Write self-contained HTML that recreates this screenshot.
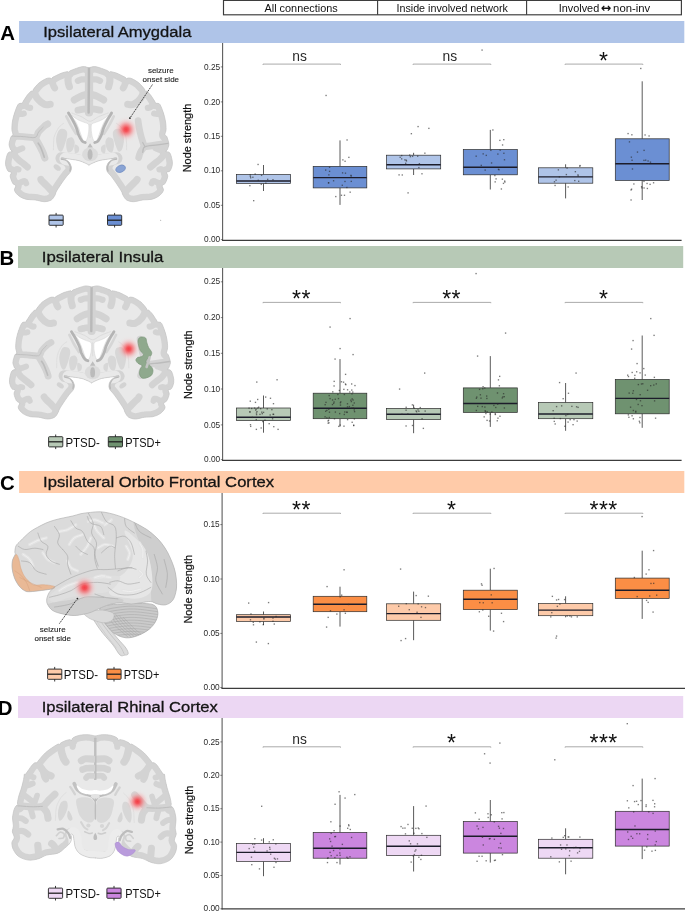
<!DOCTYPE html>
<html lang="en"><head><meta charset="utf-8"><title>Node strength by region</title>
<style>
html,body{margin:0;padding:0;background:#fff}
svg{display:block;font-family:"Liberation Sans", sans-serif}
.ax{stroke:#3c3c3c;stroke-width:1.25;fill:none}
.ay{stroke:#5c5c5c;stroke-width:1.1;fill:none}
.tk{stroke:#333;stroke-width:.6;fill:none}
.wh{stroke:#5a5a5a;stroke-width:1;fill:none}
.bx{stroke:#2b2b2b;stroke-width:.7}
.md{stroke:#1c1c2a;stroke-width:1.4;fill:none}
.br{stroke:#a2a2a2;stroke-width:.9;fill:none}
.pt{fill:#2a2a2a;fill-opacity:.62}
</style></head><body>
<svg width="685" height="911" viewBox="0 0 685 911">
<rect width="685" height="911" fill="#fff"/>
<g id="header">
<rect x="223.5" y="0.4" width="457.9" height="14.4" fill="#fff" stroke="#3a3a3a" stroke-width="1.15"/>
<path d="M377.6 0.4V14.8M526.6 0.4V14.8" stroke="#3a3a3a" stroke-width="1.1"/>
<text x="301.1" y="11.8" font-size="11.7" text-anchor="middle" font-weight="normal" fill="#111" textLength="73.2" lengthAdjust="spacingAndGlyphs" >All connections</text>
<text x="452.2" y="11.8" font-size="11.7" text-anchor="middle" font-weight="normal" fill="#111" textLength="111.5" lengthAdjust="spacingAndGlyphs" >Inside involved network</text>
<text x="558.7" y="11.8" font-size="11.7" text-anchor="start" font-weight="normal" fill="#111" textLength="40.5" lengthAdjust="spacingAndGlyphs" >Involved</text>
<text x="606.0" y="12.1" font-size="12.4" text-anchor="middle" font-weight="bold" fill="#111" font-family="DejaVu Sans, sans-serif">↔</text>
<text x="613.1" y="11.8" font-size="11.7" text-anchor="start" font-weight="normal" fill="#111" textLength="37.2" lengthAdjust="spacingAndGlyphs" >non-inv</text>
</g>
<g id="panelA">
<rect x="19.1" y="21" width="665.2" height="22" fill="#afc4e8"/>
<text x="0.2" y="40.1" font-size="20.4" text-anchor="start" font-weight="bold" fill="#000" >A</text>
<text x="43.2" y="37.0" font-size="15.4" text-anchor="start" font-weight="normal" fill="#141414" textLength="148.2" lengthAdjust="spacingAndGlyphs" stroke="#141414" stroke-width=".3">Ipsilateral Amygdala</text>
<path class="ay" d="M222.6 43V240.9"/>
<path class="ax" d="M222.1 240.3H681.6"/>
<path class="tk" d="M220.8 66.9H222.6"/>
<text x="220.2" y="69.5" font-size="9.2" text-anchor="end" font-weight="normal" fill="#2a2a2a" textLength="16.2" lengthAdjust="spacingAndGlyphs" >0.25</text>
<path class="tk" d="M220.8 101.9H222.6"/>
<text x="220.2" y="104.5" font-size="9.2" text-anchor="end" font-weight="normal" fill="#2a2a2a" textLength="16.2" lengthAdjust="spacingAndGlyphs" >0.20</text>
<path class="tk" d="M220.8 136.3H222.6"/>
<text x="220.2" y="138.9" font-size="9.2" text-anchor="end" font-weight="normal" fill="#2a2a2a" textLength="16.2" lengthAdjust="spacingAndGlyphs" >0.15</text>
<path class="tk" d="M220.8 170.8H222.6"/>
<text x="220.2" y="173.4" font-size="9.2" text-anchor="end" font-weight="normal" fill="#2a2a2a" textLength="16.2" lengthAdjust="spacingAndGlyphs" >0.10</text>
<path class="tk" d="M220.8 205.3H222.6"/>
<text x="220.2" y="207.9" font-size="9.2" text-anchor="end" font-weight="normal" fill="#2a2a2a" textLength="16.2" lengthAdjust="spacingAndGlyphs" >0.05</text>
<path class="tk" d="M220.8 239.6H222.6"/>
<text x="220.2" y="242.2" font-size="9.2" text-anchor="end" font-weight="normal" fill="#2a2a2a" textLength="16.2" lengthAdjust="spacingAndGlyphs" >0.00</text>
<text transform="translate(190.9,138.0) rotate(-90)" font-size="11.6" text-anchor="middle" fill="#111" stroke="#111" stroke-width=".22" textLength="68.6" lengthAdjust="spacingAndGlyphs">Node strength</text>
<path class="wh" d="M263.5 165.0V174.5M263.5 183.4V191.0"/>
<rect class="bx" x="236.4" y="174.5" width="54.2" height="8.9" fill="#afc4e8"/>
<path class="md" d="M236.4 181.0H290.6"/>
<g class="pt"><rect x="253.0" y="200.0" width="1.35" height="1.35"/><rect x="257.4" y="163.8" width="1.35" height="1.35"/><rect x="257.6" y="179.6" width="1.35" height="1.35"/><rect x="250.0" y="177.1" width="1.35" height="1.35"/><rect x="249.6" y="174.2" width="1.35" height="1.35"/><rect x="260.9" y="174.7" width="1.35" height="1.35"/><rect x="260.6" y="183.7" width="1.35" height="1.35"/><rect x="254.5" y="173.4" width="1.35" height="1.35"/><rect x="265.2" y="182.5" width="1.35" height="1.35"/><rect x="249.2" y="185.0" width="1.35" height="1.35"/><rect x="252.2" y="176.6" width="1.35" height="1.35"/><rect x="272.3" y="179.0" width="1.35" height="1.35"/><rect x="267.0" y="178.7" width="1.35" height="1.35"/><rect x="249.7" y="175.7" width="1.35" height="1.35"/></g>
<path class="wh" d="M340.0 140.4V166.4M340.0 187.9V204.9"/>
<rect class="bx" x="313.2" y="166.4" width="53.6" height="21.5" fill="#6b8fd3"/>
<path class="md" d="M313.2 177.6H366.8"/>
<g class="pt"><rect x="325.4" y="94.8" width="1.35" height="1.35"/><rect x="346.4" y="139.3" width="1.35" height="1.35"/><rect x="344.8" y="172.5" width="1.35" height="1.35"/><rect x="341.9" y="172.2" width="1.35" height="1.35"/><rect x="348.2" y="156.7" width="1.35" height="1.35"/><rect x="341.6" y="184.6" width="1.35" height="1.35"/><rect x="346.2" y="186.8" width="1.35" height="1.35"/><rect x="327.9" y="182.0" width="1.35" height="1.35"/><rect x="328.9" y="166.6" width="1.35" height="1.35"/><rect x="344.4" y="160.6" width="1.35" height="1.35"/><rect x="350.6" y="180.7" width="1.35" height="1.35"/><rect x="342.2" y="159.2" width="1.35" height="1.35"/><rect x="349.5" y="191.5" width="1.35" height="1.35"/><rect x="344.3" y="180.8" width="1.35" height="1.35"/><rect x="343.8" y="194.6" width="1.35" height="1.35"/><rect x="332.9" y="180.1" width="1.35" height="1.35"/><rect x="325.0" y="169.4" width="1.35" height="1.35"/><rect x="327.9" y="182.3" width="1.35" height="1.35"/><rect x="328.2" y="174.2" width="1.35" height="1.35"/><rect x="350.5" y="175.4" width="1.35" height="1.35"/><rect x="340.8" y="194.6" width="1.35" height="1.35"/><rect x="350.3" y="174.7" width="1.35" height="1.35"/><rect x="335.1" y="195.9" width="1.35" height="1.35"/><rect x="328.9" y="170.7" width="1.35" height="1.35"/></g>
<path class="wh" d="M413.6 152.8V155.2M413.6 168.9V175.0"/>
<rect class="bx" x="386.5" y="155.2" width="54.2" height="13.7" fill="#afc4e8"/>
<path class="md" d="M386.5 164.7H440.7"/>
<g class="pt"><rect x="481.4" y="49.4" width="1.35" height="1.35"/><rect x="417.4" y="125.9" width="1.35" height="1.35"/><rect x="428.2" y="127.7" width="1.35" height="1.35"/><rect x="410.7" y="133.0" width="1.35" height="1.35"/><rect x="398.4" y="174.2" width="1.35" height="1.35"/><rect x="407.4" y="192.2" width="1.35" height="1.35"/><rect x="405.0" y="162.6" width="1.35" height="1.35"/><rect x="405.8" y="160.3" width="1.35" height="1.35"/><rect x="409.0" y="154.4" width="1.35" height="1.35"/><rect x="418.7" y="163.0" width="1.35" height="1.35"/><rect x="418.2" y="166.9" width="1.35" height="1.35"/><rect x="421.3" y="173.1" width="1.35" height="1.35"/><rect x="409.7" y="156.0" width="1.35" height="1.35"/><rect x="417.0" y="155.5" width="1.35" height="1.35"/><rect x="404.2" y="159.2" width="1.35" height="1.35"/><rect x="399.5" y="156.6" width="1.35" height="1.35"/><rect x="401.0" y="154.9" width="1.35" height="1.35"/><rect x="424.2" y="152.5" width="1.35" height="1.35"/><rect x="405.5" y="159.5" width="1.35" height="1.35"/><rect x="401.6" y="174.3" width="1.35" height="1.35"/><rect x="411.9" y="155.7" width="1.35" height="1.35"/><rect x="401.0" y="158.2" width="1.35" height="1.35"/></g>
<path class="wh" d="M490.3 129.9V149.6M490.3 174.8V189.5"/>
<rect class="bx" x="463.3" y="149.6" width="54.0" height="25.2" fill="#6b8fd3"/>
<path class="md" d="M463.3 167.3H517.3"/>
<g class="pt"><rect x="492.2" y="129.3" width="1.35" height="1.35"/><rect x="501.9" y="144.3" width="1.35" height="1.35"/><rect x="500.7" y="188.3" width="1.35" height="1.35"/><rect x="499.5" y="149.5" width="1.35" height="1.35"/><rect x="503.2" y="152.6" width="1.35" height="1.35"/><rect x="490.9" y="162.3" width="1.35" height="1.35"/><rect x="504.0" y="180.4" width="1.35" height="1.35"/><rect x="482.5" y="153.2" width="1.35" height="1.35"/><rect x="497.8" y="168.6" width="1.35" height="1.35"/><rect x="484.5" y="169.4" width="1.35" height="1.35"/><rect x="504.2" y="181.4" width="1.35" height="1.35"/><rect x="499.2" y="139.7" width="1.35" height="1.35"/><rect x="490.2" y="149.7" width="1.35" height="1.35"/><rect x="475.5" y="155.5" width="1.35" height="1.35"/><rect x="495.4" y="178.2" width="1.35" height="1.35"/><rect x="502.8" y="182.7" width="1.35" height="1.35"/><rect x="485.6" y="154.7" width="1.35" height="1.35"/><rect x="480.6" y="164.7" width="1.35" height="1.35"/><rect x="501.7" y="178.5" width="1.35" height="1.35"/><rect x="494.2" y="174.9" width="1.35" height="1.35"/><rect x="494.5" y="181.2" width="1.35" height="1.35"/><rect x="497.2" y="153.4" width="1.35" height="1.35"/><rect x="498.3" y="169.1" width="1.35" height="1.35"/><rect x="503.8" y="159.1" width="1.35" height="1.35"/><rect x="503.1" y="139.0" width="1.35" height="1.35"/></g>
<path class="wh" d="M565.6 164.3V167.8M565.6 183.2V198.4"/>
<rect class="bx" x="538.4" y="167.8" width="54.4" height="15.4" fill="#afc4e8"/>
<path class="md" d="M538.4 176.9H592.8"/>
<g class="pt"><rect x="554.4" y="184.8" width="1.35" height="1.35"/><rect x="553.8" y="181.1" width="1.35" height="1.35"/><rect x="574.1" y="179.9" width="1.35" height="1.35"/><rect x="579.4" y="164.9" width="1.35" height="1.35"/><rect x="566.4" y="167.4" width="1.35" height="1.35"/><rect x="579.1" y="165.5" width="1.35" height="1.35"/><rect x="578.0" y="180.6" width="1.35" height="1.35"/><rect x="574.7" y="171.0" width="1.35" height="1.35"/><rect x="558.7" y="176.2" width="1.35" height="1.35"/><rect x="557.7" y="169.2" width="1.35" height="1.35"/><rect x="577.3" y="174.2" width="1.35" height="1.35"/><rect x="567.5" y="186.3" width="1.35" height="1.35"/><rect x="577.5" y="175.3" width="1.35" height="1.35"/><rect x="565.7" y="173.9" width="1.35" height="1.35"/><rect x="555.4" y="179.5" width="1.35" height="1.35"/></g>
<path class="wh" d="M642.2 81.3V138.8M642.2 180.4V200.0"/>
<rect class="bx" x="615.3" y="138.8" width="53.9" height="41.6" fill="#6b8fd3"/>
<path class="md" d="M615.3 163.7H669.2"/>
<g class="pt"><rect x="640.1" y="67.8" width="1.35" height="1.35"/><rect x="627.4" y="132.9" width="1.35" height="1.35"/><rect x="644.4" y="134.3" width="1.35" height="1.35"/><rect x="648.4" y="135.3" width="1.35" height="1.35"/><rect x="630.4" y="189.3" width="1.35" height="1.35"/><rect x="630.4" y="199.3" width="1.35" height="1.35"/><rect x="646.4" y="182.8" width="1.35" height="1.35"/><rect x="631.8" y="168.3" width="1.35" height="1.35"/><rect x="643.3" y="159.7" width="1.35" height="1.35"/><rect x="643.3" y="180.7" width="1.35" height="1.35"/><rect x="643.4" y="149.7" width="1.35" height="1.35"/><rect x="649.8" y="161.5" width="1.35" height="1.35"/><rect x="649.4" y="183.7" width="1.35" height="1.35"/><rect x="645.0" y="159.5" width="1.35" height="1.35"/><rect x="647.4" y="160.3" width="1.35" height="1.35"/><rect x="640.9" y="186.0" width="1.35" height="1.35"/><rect x="652.9" y="182.1" width="1.35" height="1.35"/><rect x="643.4" y="187.3" width="1.35" height="1.35"/><rect x="630.7" y="156.5" width="1.35" height="1.35"/><rect x="628.8" y="141.2" width="1.35" height="1.35"/><rect x="646.7" y="187.8" width="1.35" height="1.35"/><rect x="631.2" y="134.1" width="1.35" height="1.35"/><rect x="630.9" y="188.5" width="1.35" height="1.35"/><rect x="633.2" y="183.3" width="1.35" height="1.35"/><rect x="641.2" y="187.2" width="1.35" height="1.35"/><rect x="631.4" y="159.6" width="1.35" height="1.35"/><rect x="636.8" y="151.4" width="1.35" height="1.35"/></g>
<path class="br" d="M263.0 64.9V64.1H340.5V64.9"/>
<text x="299.6" y="60.8" font-size="13.8" text-anchor="middle" font-weight="normal" fill="#2a2a2a" >ns</text>
<path class="br" d="M413.1 64.9V64.1H490.8V64.9"/>
<text x="449.8" y="60.8" font-size="13.8" text-anchor="middle" font-weight="normal" fill="#2a2a2a" >ns</text>
<path class="br" d="M565.1 64.9V64.1H642.8V64.9"/>
<text x="603.6" y="68.7" font-size="23" text-anchor="middle" font-weight="normal" fill="#111" letter-spacing=".38">*</text>
</g>
<g id="panelB">
<rect x="18.0" y="246" width="665.2" height="22" fill="#b7c9b6"/>
<text x="-0.6" y="265.1" font-size="20.4" text-anchor="start" font-weight="bold" fill="#000" >B</text>
<text x="41.8" y="262.0" font-size="15.4" text-anchor="start" font-weight="normal" fill="#141414" textLength="121.6" lengthAdjust="spacingAndGlyphs" stroke="#141414" stroke-width=".3">Ipsilateral Insula</text>
<path class="ay" d="M222.6 268V460.9"/>
<path class="ax" d="M222.1 460.3H681.6"/>
<path class="tk" d="M220.8 281.8H222.6"/>
<text x="220.2" y="284.4" font-size="9.2" text-anchor="end" font-weight="normal" fill="#2a2a2a" textLength="16.2" lengthAdjust="spacingAndGlyphs" >0.25</text>
<path class="tk" d="M220.8 317.6H222.6"/>
<text x="220.2" y="320.2" font-size="9.2" text-anchor="end" font-weight="normal" fill="#2a2a2a" textLength="16.2" lengthAdjust="spacingAndGlyphs" >0.20</text>
<path class="tk" d="M220.8 353.3H222.6"/>
<text x="220.2" y="355.9" font-size="9.2" text-anchor="end" font-weight="normal" fill="#2a2a2a" textLength="16.2" lengthAdjust="spacingAndGlyphs" >0.15</text>
<path class="tk" d="M220.8 389.0H222.6"/>
<text x="220.2" y="391.6" font-size="9.2" text-anchor="end" font-weight="normal" fill="#2a2a2a" textLength="16.2" lengthAdjust="spacingAndGlyphs" >0.10</text>
<path class="tk" d="M220.8 424.9H222.6"/>
<text x="220.2" y="427.5" font-size="9.2" text-anchor="end" font-weight="normal" fill="#2a2a2a" textLength="16.2" lengthAdjust="spacingAndGlyphs" >0.05</text>
<path class="tk" d="M220.8 459.6H222.6"/>
<text x="220.2" y="462.2" font-size="9.2" text-anchor="end" font-weight="normal" fill="#2a2a2a" textLength="16.2" lengthAdjust="spacingAndGlyphs" >0.00</text>
<text transform="translate(192.0,364.7) rotate(-90)" font-size="11.6" text-anchor="middle" fill="#111" stroke="#111" stroke-width=".22" textLength="68.6" lengthAdjust="spacingAndGlyphs">Node strength</text>
<path class="wh" d="M263.5 395.5V408.0M263.5 420.6V432.7"/>
<rect class="bx" x="236.4" y="408.0" width="54.2" height="12.6" fill="#b7c9b6"/>
<path class="md" d="M236.4 417.3H290.6"/>
<g class="pt"><rect x="256.1" y="381.4" width="1.35" height="1.35"/><rect x="276.4" y="379.1" width="1.35" height="1.35"/><rect x="269.5" y="414.3" width="1.35" height="1.35"/><rect x="261.1" y="411.5" width="1.35" height="1.35"/><rect x="266.6" y="408.2" width="1.35" height="1.35"/><rect x="277.4" y="428.7" width="1.35" height="1.35"/><rect x="251.0" y="407.8" width="1.35" height="1.35"/><rect x="271.2" y="409.0" width="1.35" height="1.35"/><rect x="260.5" y="427.3" width="1.35" height="1.35"/><rect x="255.6" y="418.9" width="1.35" height="1.35"/><rect x="265.0" y="396.4" width="1.35" height="1.35"/><rect x="249.6" y="400.5" width="1.35" height="1.35"/><rect x="250.0" y="425.7" width="1.35" height="1.35"/><rect x="271.9" y="418.1" width="1.35" height="1.35"/><rect x="249.8" y="424.0" width="1.35" height="1.35"/><rect x="258.0" y="406.5" width="1.35" height="1.35"/><rect x="255.9" y="414.0" width="1.35" height="1.35"/><rect x="255.0" y="409.4" width="1.35" height="1.35"/><rect x="249.4" y="411.3" width="1.35" height="1.35"/><rect x="257.0" y="398.8" width="1.35" height="1.35"/><rect x="262.9" y="411.7" width="1.35" height="1.35"/><rect x="248.4" y="407.5" width="1.35" height="1.35"/><rect x="269.8" y="397.6" width="1.35" height="1.35"/><rect x="262.1" y="420.9" width="1.35" height="1.35"/><rect x="272.4" y="413.6" width="1.35" height="1.35"/><rect x="272.9" y="413.7" width="1.35" height="1.35"/><rect x="268.5" y="423.0" width="1.35" height="1.35"/><rect x="272.8" y="403.0" width="1.35" height="1.35"/><rect x="260.0" y="408.0" width="1.35" height="1.35"/><rect x="251.7" y="416.7" width="1.35" height="1.35"/><rect x="255.5" y="408.4" width="1.35" height="1.35"/><rect x="273.1" y="426.0" width="1.35" height="1.35"/><rect x="256.3" y="411.0" width="1.35" height="1.35"/><rect x="261.6" y="413.0" width="1.35" height="1.35"/><rect x="255.7" y="428.7" width="1.35" height="1.35"/><rect x="264.3" y="419.5" width="1.35" height="1.35"/><rect x="257.1" y="407.4" width="1.35" height="1.35"/><rect x="259.3" y="413.7" width="1.35" height="1.35"/><rect x="253.9" y="407.4" width="1.35" height="1.35"/><rect x="255.8" y="412.4" width="1.35" height="1.35"/><rect x="249.1" y="411.2" width="1.35" height="1.35"/><rect x="254.8" y="401.7" width="1.35" height="1.35"/></g>
<path class="wh" d="M340.0 359.1V393.2M340.0 418.7V426.6"/>
<rect class="bx" x="313.2" y="393.2" width="53.6" height="25.5" fill="#6f9270"/>
<path class="md" d="M313.2 408.2H366.8"/>
<g class="pt"><rect x="349.4" y="317.9" width="1.35" height="1.35"/><rect x="329.4" y="326.4" width="1.35" height="1.35"/><rect x="339.4" y="347.9" width="1.35" height="1.35"/><rect x="352.4" y="353.9" width="1.35" height="1.35"/><rect x="334.4" y="358.4" width="1.35" height="1.35"/><rect x="344.9" y="373.7" width="1.35" height="1.35"/><rect x="346.9" y="389.1" width="1.35" height="1.35"/><rect x="350.7" y="400.9" width="1.35" height="1.35"/><rect x="353.9" y="411.0" width="1.35" height="1.35"/><rect x="343.6" y="413.8" width="1.35" height="1.35"/><rect x="351.1" y="389.4" width="1.35" height="1.35"/><rect x="348.7" y="405.9" width="1.35" height="1.35"/><rect x="339.5" y="424.4" width="1.35" height="1.35"/><rect x="349.1" y="391.3" width="1.35" height="1.35"/><rect x="344.8" y="383.3" width="1.35" height="1.35"/><rect x="325.3" y="401.7" width="1.35" height="1.35"/><rect x="327.5" y="422.5" width="1.35" height="1.35"/><rect x="343.2" y="388.7" width="1.35" height="1.35"/><rect x="339.0" y="412.9" width="1.35" height="1.35"/><rect x="346.8" y="406.2" width="1.35" height="1.35"/><rect x="344.1" y="411.3" width="1.35" height="1.35"/><rect x="331.9" y="399.3" width="1.35" height="1.35"/><rect x="346.2" y="411.4" width="1.35" height="1.35"/><rect x="353.6" y="402.3" width="1.35" height="1.35"/><rect x="338.7" y="389.8" width="1.35" height="1.35"/><rect x="342.9" y="381.5" width="1.35" height="1.35"/><rect x="328.8" y="411.5" width="1.35" height="1.35"/><rect x="333.5" y="380.7" width="1.35" height="1.35"/><rect x="326.2" y="409.7" width="1.35" height="1.35"/><rect x="345.1" y="384.0" width="1.35" height="1.35"/><rect x="339.8" y="404.4" width="1.35" height="1.35"/><rect x="327.9" y="419.6" width="1.35" height="1.35"/><rect x="353.7" y="418.2" width="1.35" height="1.35"/><rect x="338.1" y="425.7" width="1.35" height="1.35"/><rect x="337.8" y="397.9" width="1.35" height="1.35"/><rect x="352.7" y="407.4" width="1.35" height="1.35"/><rect x="328.6" y="416.8" width="1.35" height="1.35"/><rect x="328.3" y="422.1" width="1.35" height="1.35"/><rect x="351.0" y="383.3" width="1.35" height="1.35"/><rect x="351.3" y="393.2" width="1.35" height="1.35"/><rect x="324.5" y="404.0" width="1.35" height="1.35"/><rect x="333.4" y="401.3" width="1.35" height="1.35"/><rect x="333.8" y="418.1" width="1.35" height="1.35"/><rect x="346.9" y="419.0" width="1.35" height="1.35"/><rect x="352.1" y="391.4" width="1.35" height="1.35"/><rect x="333.0" y="402.6" width="1.35" height="1.35"/><rect x="354.3" y="384.9" width="1.35" height="1.35"/><rect x="337.2" y="393.8" width="1.35" height="1.35"/><rect x="327.4" y="420.3" width="1.35" height="1.35"/><rect x="352.4" y="399.3" width="1.35" height="1.35"/><rect x="339.7" y="402.1" width="1.35" height="1.35"/><rect x="353.0" y="424.5" width="1.35" height="1.35"/><rect x="343.3" y="425.5" width="1.35" height="1.35"/><rect x="340.8" y="381.1" width="1.35" height="1.35"/><rect x="346.3" y="411.7" width="1.35" height="1.35"/><rect x="343.7" y="393.8" width="1.35" height="1.35"/><rect x="352.2" y="404.6" width="1.35" height="1.35"/><rect x="334.7" y="411.4" width="1.35" height="1.35"/><rect x="353.6" y="409.3" width="1.35" height="1.35"/><rect x="333.4" y="385.3" width="1.35" height="1.35"/><rect x="329.4" y="397.9" width="1.35" height="1.35"/><rect x="351.5" y="398.2" width="1.35" height="1.35"/><rect x="351.5" y="421.6" width="1.35" height="1.35"/><rect x="328.5" y="394.9" width="1.35" height="1.35"/><rect x="334.6" y="398.6" width="1.35" height="1.35"/><rect x="332.1" y="391.2" width="1.35" height="1.35"/><rect x="346.8" y="403.1" width="1.35" height="1.35"/><rect x="340.1" y="401.2" width="1.35" height="1.35"/><rect x="326.2" y="417.2" width="1.35" height="1.35"/><rect x="328.1" y="408.6" width="1.35" height="1.35"/><rect x="350.2" y="399.5" width="1.35" height="1.35"/><rect x="331.8" y="403.9" width="1.35" height="1.35"/><rect x="353.0" y="424.9" width="1.35" height="1.35"/><rect x="325.0" y="410.6" width="1.35" height="1.35"/><rect x="351.2" y="407.5" width="1.35" height="1.35"/><rect x="324.4" y="416.2" width="1.35" height="1.35"/></g>
<path class="wh" d="M413.6 404.7V408.4M413.6 419.6V433.2"/>
<rect class="bx" x="386.5" y="408.4" width="54.2" height="11.2" fill="#b7c9b6"/>
<path class="md" d="M386.5 414.3H440.7"/>
<g class="pt"><rect x="475.4" y="272.9" width="1.35" height="1.35"/><rect x="398.9" y="388.4" width="1.35" height="1.35"/><rect x="424.0" y="372.4" width="1.35" height="1.35"/><rect x="422.7" y="427.7" width="1.35" height="1.35"/><rect x="405.4" y="409.5" width="1.35" height="1.35"/><rect x="413.6" y="407.5" width="1.35" height="1.35"/><rect x="419.6" y="406.9" width="1.35" height="1.35"/><rect x="411.7" y="404.2" width="1.35" height="1.35"/><rect x="421.4" y="418.1" width="1.35" height="1.35"/><rect x="417.3" y="409.2" width="1.35" height="1.35"/><rect x="405.5" y="406.6" width="1.35" height="1.35"/><rect x="401.3" y="413.6" width="1.35" height="1.35"/><rect x="415.4" y="410.3" width="1.35" height="1.35"/><rect x="416.0" y="411.1" width="1.35" height="1.35"/><rect x="411.8" y="424.8" width="1.35" height="1.35"/><rect x="424.5" y="410.4" width="1.35" height="1.35"/><rect x="405.4" y="425.3" width="1.35" height="1.35"/><rect x="407.2" y="413.3" width="1.35" height="1.35"/><rect x="418.2" y="410.6" width="1.35" height="1.35"/></g>
<path class="wh" d="M490.3 356.1V387.9M490.3 412.4V426.9"/>
<rect class="bx" x="463.3" y="387.9" width="54.0" height="24.5" fill="#6f9270"/>
<path class="md" d="M463.3 403.5H517.3"/>
<g class="pt"><rect x="504.9" y="332.4" width="1.35" height="1.35"/><rect x="476.9" y="355.4" width="1.35" height="1.35"/><rect x="494.7" y="413.8" width="1.35" height="1.35"/><rect x="475.7" y="397.6" width="1.35" height="1.35"/><rect x="495.1" y="406.8" width="1.35" height="1.35"/><rect x="496.8" y="392.3" width="1.35" height="1.35"/><rect x="503.7" y="407.3" width="1.35" height="1.35"/><rect x="481.6" y="405.9" width="1.35" height="1.35"/><rect x="483.5" y="416.2" width="1.35" height="1.35"/><rect x="480.3" y="397.5" width="1.35" height="1.35"/><rect x="494.6" y="413.1" width="1.35" height="1.35"/><rect x="486.5" y="411.1" width="1.35" height="1.35"/><rect x="478.9" y="388.7" width="1.35" height="1.35"/><rect x="486.4" y="419.7" width="1.35" height="1.35"/><rect x="496.6" y="420.1" width="1.35" height="1.35"/><rect x="484.5" y="410.2" width="1.35" height="1.35"/><rect x="497.0" y="403.5" width="1.35" height="1.35"/><rect x="486.0" y="395.4" width="1.35" height="1.35"/><rect x="479.7" y="394.1" width="1.35" height="1.35"/><rect x="485.2" y="412.9" width="1.35" height="1.35"/><rect x="503.6" y="396.0" width="1.35" height="1.35"/><rect x="499.3" y="415.6" width="1.35" height="1.35"/><rect x="476.1" y="396.4" width="1.35" height="1.35"/><rect x="502.2" y="396.2" width="1.35" height="1.35"/><rect x="501.6" y="397.3" width="1.35" height="1.35"/><rect x="499.0" y="375.7" width="1.35" height="1.35"/><rect x="475.7" y="409.8" width="1.35" height="1.35"/><rect x="482.4" y="386.0" width="1.35" height="1.35"/><rect x="484.8" y="410.7" width="1.35" height="1.35"/><rect x="493.2" y="404.8" width="1.35" height="1.35"/><rect x="484.1" y="387.3" width="1.35" height="1.35"/><rect x="497.3" y="417.5" width="1.35" height="1.35"/><rect x="502.9" y="393.0" width="1.35" height="1.35"/><rect x="488.9" y="420.3" width="1.35" height="1.35"/><rect x="486.2" y="397.8" width="1.35" height="1.35"/><rect x="489.5" y="413.4" width="1.35" height="1.35"/><rect x="498.7" y="385.1" width="1.35" height="1.35"/><rect x="497.8" y="379.2" width="1.35" height="1.35"/><rect x="484.2" y="406.4" width="1.35" height="1.35"/><rect x="477.0" y="405.7" width="1.35" height="1.35"/><rect x="482.1" y="388.1" width="1.35" height="1.35"/><rect x="491.2" y="411.3" width="1.35" height="1.35"/></g>
<path class="wh" d="M565.6 383.0V402.6M565.6 418.7V430.8"/>
<rect class="bx" x="538.4" y="402.6" width="54.4" height="16.1" fill="#b7c9b6"/>
<path class="md" d="M538.4 414.0H592.8"/>
<g class="pt"><rect x="575.4" y="372.4" width="1.35" height="1.35"/><rect x="558.9" y="381.9" width="1.35" height="1.35"/><rect x="576.5" y="420.4" width="1.35" height="1.35"/><rect x="552.5" y="410.0" width="1.35" height="1.35"/><rect x="571.2" y="405.7" width="1.35" height="1.35"/><rect x="562.5" y="398.0" width="1.35" height="1.35"/><rect x="572.4" y="424.0" width="1.35" height="1.35"/><rect x="553.6" y="420.7" width="1.35" height="1.35"/><rect x="567.0" y="413.8" width="1.35" height="1.35"/><rect x="555.9" y="405.9" width="1.35" height="1.35"/><rect x="554.5" y="423.3" width="1.35" height="1.35"/><rect x="559.7" y="417.9" width="1.35" height="1.35"/><rect x="565.2" y="415.0" width="1.35" height="1.35"/><rect x="569.5" y="419.0" width="1.35" height="1.35"/><rect x="564.2" y="425.6" width="1.35" height="1.35"/><rect x="577.4" y="406.7" width="1.35" height="1.35"/><rect x="553.5" y="417.6" width="1.35" height="1.35"/><rect x="567.4" y="421.4" width="1.35" height="1.35"/><rect x="575.9" y="406.1" width="1.35" height="1.35"/><rect x="573.3" y="419.0" width="1.35" height="1.35"/><rect x="567.8" y="392.6" width="1.35" height="1.35"/><rect x="561.0" y="405.2" width="1.35" height="1.35"/></g>
<path class="wh" d="M642.2 335.5V379.5M642.2 413.8V427.8"/>
<rect class="bx" x="615.3" y="379.5" width="53.9" height="34.3" fill="#6f9270"/>
<path class="md" d="M615.3 398.4H669.2"/>
<g class="pt"><rect x="650.1" y="317.9" width="1.35" height="1.35"/><rect x="653.4" y="334.7" width="1.35" height="1.35"/><rect x="632.4" y="339.9" width="1.35" height="1.35"/><rect x="630.9" y="348.4" width="1.35" height="1.35"/><rect x="636.4" y="362.9" width="1.35" height="1.35"/><rect x="634.2" y="374.7" width="1.35" height="1.35"/><rect x="632.7" y="390.1" width="1.35" height="1.35"/><rect x="646.9" y="389.6" width="1.35" height="1.35"/><rect x="632.7" y="418.1" width="1.35" height="1.35"/><rect x="628.5" y="392.4" width="1.35" height="1.35"/><rect x="643.1" y="367.9" width="1.35" height="1.35"/><rect x="631.5" y="371.8" width="1.35" height="1.35"/><rect x="635.1" y="411.5" width="1.35" height="1.35"/><rect x="636.0" y="371.1" width="1.35" height="1.35"/><rect x="639.1" y="422.1" width="1.35" height="1.35"/><rect x="637.5" y="403.8" width="1.35" height="1.35"/><rect x="632.7" y="409.8" width="1.35" height="1.35"/><rect x="639.3" y="416.8" width="1.35" height="1.35"/><rect x="653.1" y="384.4" width="1.35" height="1.35"/><rect x="627.0" y="374.5" width="1.35" height="1.35"/><rect x="653.9" y="400.2" width="1.35" height="1.35"/><rect x="637.7" y="383.9" width="1.35" height="1.35"/><rect x="635.1" y="410.6" width="1.35" height="1.35"/><rect x="629.9" y="406.5" width="1.35" height="1.35"/><rect x="655.6" y="383.2" width="1.35" height="1.35"/><rect x="654.9" y="417.5" width="1.35" height="1.35"/><rect x="628.2" y="416.6" width="1.35" height="1.35"/><rect x="653.7" y="376.7" width="1.35" height="1.35"/><rect x="631.4" y="415.1" width="1.35" height="1.35"/><rect x="638.7" y="420.6" width="1.35" height="1.35"/><rect x="632.1" y="392.6" width="1.35" height="1.35"/><rect x="642.1" y="383.1" width="1.35" height="1.35"/><rect x="634.0" y="377.6" width="1.35" height="1.35"/><rect x="627.8" y="375.9" width="1.35" height="1.35"/><rect x="627.7" y="414.2" width="1.35" height="1.35"/><rect x="644.6" y="374.4" width="1.35" height="1.35"/><rect x="635.8" y="398.8" width="1.35" height="1.35"/><rect x="639.4" y="372.2" width="1.35" height="1.35"/><rect x="639.8" y="400.1" width="1.35" height="1.35"/><rect x="641.3" y="405.0" width="1.35" height="1.35"/><rect x="650.0" y="385.0" width="1.35" height="1.35"/><rect x="640.8" y="383.3" width="1.35" height="1.35"/><rect x="639.5" y="394.0" width="1.35" height="1.35"/></g>
<path class="br" d="M263.0 303.2V302.4H340.5V303.2"/>
<text x="301.4" y="307.0" font-size="23" text-anchor="middle" font-weight="normal" fill="#111" letter-spacing=".38">**</text>
<path class="br" d="M413.1 303.2V302.4H490.8V303.2"/>
<text x="451.6" y="307.0" font-size="23" text-anchor="middle" font-weight="normal" fill="#111" letter-spacing=".38">**</text>
<path class="br" d="M565.1 303.2V302.4H642.8V303.2"/>
<text x="603.6" y="307.0" font-size="23" text-anchor="middle" font-weight="normal" fill="#111" letter-spacing=".38">*</text>
</g>
<g id="panelC">
<rect x="19.1" y="471" width="665.2" height="22" fill="#ffcba9"/>
<text x="0.0" y="490.1" font-size="20.4" text-anchor="start" font-weight="bold" fill="#000" >C</text>
<text x="43.1" y="487.0" font-size="15.4" text-anchor="start" font-weight="normal" fill="#141414" textLength="231.0" lengthAdjust="spacingAndGlyphs" stroke="#141414" stroke-width=".3">Ipsilateral Orbito Frontal Cortex</text>
<path class="ay" d="M222.1 493V688.9"/>
<path class="ax" d="M221.6 688.3H686"/>
<path class="tk" d="M220.3 524.6H222.1"/>
<text x="219.7" y="527.2" font-size="9.2" text-anchor="end" font-weight="normal" fill="#2a2a2a" textLength="16.2" lengthAdjust="spacingAndGlyphs" >0.15</text>
<path class="tk" d="M220.3 579.0H222.1"/>
<text x="219.7" y="581.6" font-size="9.2" text-anchor="end" font-weight="normal" fill="#2a2a2a" textLength="16.2" lengthAdjust="spacingAndGlyphs" >0.10</text>
<path class="tk" d="M220.3 633.4H222.1"/>
<text x="219.7" y="636.0" font-size="9.2" text-anchor="end" font-weight="normal" fill="#2a2a2a" textLength="16.2" lengthAdjust="spacingAndGlyphs" >0.05</text>
<path class="tk" d="M220.3 687.5H222.1"/>
<text x="219.7" y="690.1" font-size="9.2" text-anchor="end" font-weight="normal" fill="#2a2a2a" textLength="16.2" lengthAdjust="spacingAndGlyphs" >0.00</text>
<text transform="translate(192.0,589.3) rotate(-90)" font-size="11.6" text-anchor="middle" fill="#111" stroke="#111" stroke-width=".22" textLength="68.6" lengthAdjust="spacingAndGlyphs">Node strength</text>
<path class="wh" d="M263.5 611.5V614.7M263.5 621.4V625.0"/>
<rect class="bx" x="236.4" y="614.7" width="54.2" height="6.7" fill="#fdcaa9"/>
<path class="md" d="M236.4 617.0H290.6"/>
<g class="pt"><rect x="248.0" y="602.4" width="1.35" height="1.35"/><rect x="267.9" y="601.9" width="1.35" height="1.35"/><rect x="255.7" y="641.4" width="1.35" height="1.35"/><rect x="267.7" y="642.9" width="1.35" height="1.35"/><rect x="263.2" y="618.3" width="1.35" height="1.35"/><rect x="250.3" y="613.3" width="1.35" height="1.35"/><rect x="263.2" y="617.4" width="1.35" height="1.35"/><rect x="259.2" y="621.2" width="1.35" height="1.35"/><rect x="273.6" y="623.4" width="1.35" height="1.35"/><rect x="272.3" y="620.6" width="1.35" height="1.35"/><rect x="262.6" y="624.0" width="1.35" height="1.35"/><rect x="252.8" y="624.1" width="1.35" height="1.35"/><rect x="249.8" y="619.1" width="1.35" height="1.35"/><rect x="252.6" y="621.7" width="1.35" height="1.35"/><rect x="272.3" y="617.4" width="1.35" height="1.35"/><rect x="275.4" y="615.8" width="1.35" height="1.35"/></g>
<path class="wh" d="M340.0 586.7V596.3M340.0 611.7V626.6"/>
<rect class="bx" x="313.2" y="596.3" width="53.6" height="15.4" fill="#fb8e45"/>
<path class="md" d="M313.2 604.2H366.8"/>
<g class="pt"><rect x="343.4" y="569.1" width="1.35" height="1.35"/><rect x="326.4" y="585.9" width="1.35" height="1.35"/><rect x="325.9" y="626.4" width="1.35" height="1.35"/><rect x="339.5" y="596.2" width="1.35" height="1.35"/><rect x="329.8" y="610.1" width="1.35" height="1.35"/><rect x="344.7" y="612.6" width="1.35" height="1.35"/><rect x="347.9" y="603.8" width="1.35" height="1.35"/><rect x="343.4" y="609.1" width="1.35" height="1.35"/><rect x="341.0" y="594.5" width="1.35" height="1.35"/><rect x="327.5" y="616.7" width="1.35" height="1.35"/><rect x="336.2" y="613.4" width="1.35" height="1.35"/></g>
<path class="wh" d="M413.6 591.6V603.8M413.6 620.3V640.2"/>
<rect class="bx" x="386.5" y="603.8" width="54.2" height="16.5" fill="#fdcaa9"/>
<path class="md" d="M386.5 613.6H440.7"/>
<g class="pt"><rect x="399.9" y="568.4" width="1.35" height="1.35"/><rect x="400.4" y="639.9" width="1.35" height="1.35"/><rect x="404.9" y="637.9" width="1.35" height="1.35"/><rect x="427.7" y="595.5" width="1.35" height="1.35"/><rect x="420.9" y="606.1" width="1.35" height="1.35"/><rect x="420.3" y="616.7" width="1.35" height="1.35"/><rect x="405.6" y="603.0" width="1.35" height="1.35"/><rect x="415.5" y="594.9" width="1.35" height="1.35"/><rect x="398.0" y="605.6" width="1.35" height="1.35"/><rect x="416.4" y="611.6" width="1.35" height="1.35"/><rect x="424.8" y="606.9" width="1.35" height="1.35"/><rect x="417.5" y="603.2" width="1.35" height="1.35"/><rect x="408.6" y="609.0" width="1.35" height="1.35"/></g>
<path class="wh" d="M490.3 568.7V590.2M490.3 609.6V630.6"/>
<rect class="bx" x="463.3" y="590.2" width="54.0" height="19.4" fill="#fb8e45"/>
<path class="md" d="M463.3 599.3H517.3"/>
<g class="pt"><rect x="493.4" y="567.8" width="1.35" height="1.35"/><rect x="502.9" y="620.9" width="1.35" height="1.35"/><rect x="492.9" y="630.4" width="1.35" height="1.35"/><rect x="481.4" y="584.6" width="1.35" height="1.35"/><rect x="480.8" y="583.2" width="1.35" height="1.35"/><rect x="478.7" y="611.1" width="1.35" height="1.35"/><rect x="479.1" y="601.9" width="1.35" height="1.35"/><rect x="500.8" y="612.6" width="1.35" height="1.35"/><rect x="482.6" y="602.1" width="1.35" height="1.35"/><rect x="491.5" y="602.1" width="1.35" height="1.35"/><rect x="488.0" y="615.6" width="1.35" height="1.35"/><rect x="482.1" y="609.3" width="1.35" height="1.35"/><rect x="490.6" y="594.2" width="1.35" height="1.35"/></g>
<path class="wh" d="M565.6 596.3V603.5M565.6 615.7V617.3"/>
<rect class="bx" x="538.4" y="603.5" width="54.4" height="12.2" fill="#fdcaa9"/>
<path class="md" d="M538.4 610.1H592.8"/>
<g class="pt"><rect x="555.9" y="635.4" width="1.35" height="1.35"/><rect x="555.4" y="637.4" width="1.35" height="1.35"/><rect x="551.7" y="595.7" width="1.35" height="1.35"/><rect x="566.5" y="615.3" width="1.35" height="1.35"/><rect x="555.9" y="599.3" width="1.35" height="1.35"/><rect x="569.2" y="615.3" width="1.35" height="1.35"/><rect x="559.2" y="603.4" width="1.35" height="1.35"/><rect x="576.6" y="616.2" width="1.35" height="1.35"/><rect x="550.1" y="616.2" width="1.35" height="1.35"/><rect x="563.9" y="598.9" width="1.35" height="1.35"/><rect x="556.7" y="605.7" width="1.35" height="1.35"/><rect x="551.1" y="612.0" width="1.35" height="1.35"/><rect x="570.8" y="616.2" width="1.35" height="1.35"/><rect x="557.9" y="598.8" width="1.35" height="1.35"/></g>
<path class="wh" d="M642.2 550.7V578.1M642.2 598.4V618.9"/>
<rect class="bx" x="615.3" y="578.1" width="53.9" height="20.3" fill="#fb8e45"/>
<path class="md" d="M615.3 590.2H669.2"/>
<g class="pt"><rect x="641.4" y="515.9" width="1.35" height="1.35"/><rect x="652.9" y="549.9" width="1.35" height="1.35"/><rect x="652.4" y="611.4" width="1.35" height="1.35"/><rect x="650.3" y="582.8" width="1.35" height="1.35"/><rect x="645.9" y="599.7" width="1.35" height="1.35"/><rect x="653.0" y="582.7" width="1.35" height="1.35"/><rect x="633.7" y="576.8" width="1.35" height="1.35"/><rect x="649.0" y="595.3" width="1.35" height="1.35"/><rect x="636.5" y="595.9" width="1.35" height="1.35"/><rect x="645.5" y="573.4" width="1.35" height="1.35"/><rect x="656.0" y="594.5" width="1.35" height="1.35"/><rect x="647.5" y="601.7" width="1.35" height="1.35"/><rect x="648.3" y="569.1" width="1.35" height="1.35"/></g>
<path class="br" d="M263.0 514.0V513.2H340.5V514.0"/>
<text x="301.4" y="517.8" font-size="23" text-anchor="middle" font-weight="normal" fill="#111" letter-spacing=".38">**</text>
<path class="br" d="M413.1 514.0V513.2H490.8V514.0"/>
<text x="451.6" y="517.8" font-size="23" text-anchor="middle" font-weight="normal" fill="#111" letter-spacing=".38">*</text>
<path class="br" d="M565.1 514.0V513.2H642.8V514.0"/>
<text x="603.6" y="517.8" font-size="23" text-anchor="middle" font-weight="normal" fill="#111" letter-spacing=".38">***</text>
</g>
<g id="panelD">
<rect x="18.0" y="696" width="665.2" height="22" fill="#ecd7f3"/>
<text x="-2.2" y="715.1" font-size="20.4" text-anchor="start" font-weight="bold" fill="#000" >D</text>
<text x="41.7" y="712.0" font-size="15.4" text-anchor="start" font-weight="normal" fill="#141414" textLength="176.2" lengthAdjust="spacingAndGlyphs" stroke="#141414" stroke-width=".3">Ipsilateral Rhinal Cortex</text>
<path class="ay" d="M222.1 718V909.5"/>
<path class="ax" d="M221.6 908.9H686"/>
<path class="tk" d="M220.3 741.9H222.1"/>
<text x="219.7" y="744.5" font-size="9.2" text-anchor="end" font-weight="normal" fill="#2a2a2a" textLength="16.2" lengthAdjust="spacingAndGlyphs" >0.25</text>
<path class="tk" d="M220.3 775.3H222.1"/>
<text x="219.7" y="777.9" font-size="9.2" text-anchor="end" font-weight="normal" fill="#2a2a2a" textLength="16.2" lengthAdjust="spacingAndGlyphs" >0.20</text>
<path class="tk" d="M220.3 808.7H222.1"/>
<text x="219.7" y="811.3" font-size="9.2" text-anchor="end" font-weight="normal" fill="#2a2a2a" textLength="16.2" lengthAdjust="spacingAndGlyphs" >0.15</text>
<path class="tk" d="M220.3 842.1H222.1"/>
<text x="219.7" y="844.7" font-size="9.2" text-anchor="end" font-weight="normal" fill="#2a2a2a" textLength="16.2" lengthAdjust="spacingAndGlyphs" >0.10</text>
<path class="tk" d="M220.3 875.5H222.1"/>
<text x="219.7" y="878.1" font-size="9.2" text-anchor="end" font-weight="normal" fill="#2a2a2a" textLength="16.2" lengthAdjust="spacingAndGlyphs" >0.05</text>
<path class="tk" d="M220.3 908.8H222.1"/>
<text x="219.7" y="911.4" font-size="9.2" text-anchor="end" font-weight="normal" fill="#2a2a2a" textLength="16.2" lengthAdjust="spacingAndGlyphs" >0.00</text>
<text transform="translate(192.5,820.0) rotate(-90)" font-size="11.6" text-anchor="middle" fill="#111" stroke="#111" stroke-width=".22" textLength="68.6" lengthAdjust="spacingAndGlyphs">Node strength</text>
<path class="wh" d="M263.5 838.2V843.5M263.5 861.5V876.2"/>
<rect class="bx" x="236.4" y="843.5" width="54.2" height="18.0" fill="#eed8f4"/>
<path class="md" d="M236.4 852.4H290.6"/>
<g class="pt"><rect x="261.0" y="805.6" width="1.35" height="1.35"/><rect x="254.2" y="838.0" width="1.35" height="1.35"/><rect x="275.2" y="843.3" width="1.35" height="1.35"/><rect x="251.1" y="864.0" width="1.35" height="1.35"/><rect x="252.1" y="843.6" width="1.35" height="1.35"/><rect x="268.6" y="841.2" width="1.35" height="1.35"/><rect x="270.0" y="853.5" width="1.35" height="1.35"/><rect x="258.8" y="868.2" width="1.35" height="1.35"/><rect x="274.6" y="858.5" width="1.35" height="1.35"/><rect x="275.3" y="861.8" width="1.35" height="1.35"/><rect x="254.0" y="843.5" width="1.35" height="1.35"/><rect x="273.3" y="866.6" width="1.35" height="1.35"/><rect x="272.6" y="839.1" width="1.35" height="1.35"/><rect x="250.8" y="856.5" width="1.35" height="1.35"/><rect x="254.0" y="850.5" width="1.35" height="1.35"/><rect x="248.5" y="847.9" width="1.35" height="1.35"/><rect x="269.3" y="848.6" width="1.35" height="1.35"/><rect x="276.8" y="858.2" width="1.35" height="1.35"/><rect x="266.4" y="850.3" width="1.35" height="1.35"/><rect x="260.9" y="839.4" width="1.35" height="1.35"/><rect x="269.0" y="846.7" width="1.35" height="1.35"/><rect x="273.7" y="857.6" width="1.35" height="1.35"/><rect x="253.0" y="846.5" width="1.35" height="1.35"/></g>
<path class="wh" d="M340.0 794.9V832.5M340.0 858.2V864.5"/>
<rect class="bx" x="313.2" y="832.5" width="53.6" height="25.7" fill="#cb86df"/>
<path class="md" d="M313.2 848.2H366.8"/>
<g class="pt"><rect x="338.4" y="791.1" width="1.35" height="1.35"/><rect x="354.1" y="793.9" width="1.35" height="1.35"/><rect x="344.4" y="797.4" width="1.35" height="1.35"/><rect x="334.4" y="803.6" width="1.35" height="1.35"/><rect x="347.2" y="857.6" width="1.35" height="1.35"/><rect x="339.1" y="852.3" width="1.35" height="1.35"/><rect x="329.9" y="840.8" width="1.35" height="1.35"/><rect x="349.3" y="856.1" width="1.35" height="1.35"/><rect x="332.9" y="849.8" width="1.35" height="1.35"/><rect x="339.3" y="848.2" width="1.35" height="1.35"/><rect x="326.8" y="861.9" width="1.35" height="1.35"/><rect x="348.0" y="824.1" width="1.35" height="1.35"/><rect x="336.4" y="854.7" width="1.35" height="1.35"/><rect x="326.9" y="857.7" width="1.35" height="1.35"/><rect x="330.5" y="855.0" width="1.35" height="1.35"/><rect x="339.4" y="854.6" width="1.35" height="1.35"/><rect x="331.4" y="845.5" width="1.35" height="1.35"/><rect x="347.0" y="827.6" width="1.35" height="1.35"/><rect x="334.8" y="835.8" width="1.35" height="1.35"/><rect x="349.6" y="828.8" width="1.35" height="1.35"/><rect x="329.4" y="851.7" width="1.35" height="1.35"/><rect x="341.7" y="843.7" width="1.35" height="1.35"/><rect x="350.9" y="836.8" width="1.35" height="1.35"/><rect x="333.4" y="830.0" width="1.35" height="1.35"/><rect x="329.0" y="838.2" width="1.35" height="1.35"/><rect x="334.1" y="836.0" width="1.35" height="1.35"/><rect x="334.2" y="856.9" width="1.35" height="1.35"/><rect x="346.2" y="856.6" width="1.35" height="1.35"/><rect x="327.4" y="857.1" width="1.35" height="1.35"/><rect x="348.2" y="825.1" width="1.35" height="1.35"/><rect x="330.2" y="821.1" width="1.35" height="1.35"/><rect x="330.5" y="832.7" width="1.35" height="1.35"/><rect x="336.3" y="861.9" width="1.35" height="1.35"/><rect x="339.4" y="825.4" width="1.35" height="1.35"/></g>
<path class="wh" d="M413.6 806.1V835.3M413.6 855.6V871.5"/>
<rect class="bx" x="386.5" y="835.3" width="54.2" height="20.3" fill="#eed8f4"/>
<path class="md" d="M386.5 846.3H440.7"/>
<g class="pt"><rect x="425.4" y="805.4" width="1.35" height="1.35"/><rect x="400.4" y="825.9" width="1.35" height="1.35"/><rect x="402.2" y="827.5" width="1.35" height="1.35"/><rect x="420.2" y="858.8" width="1.35" height="1.35"/><rect x="415.2" y="827.7" width="1.35" height="1.35"/><rect x="404.8" y="833.2" width="1.35" height="1.35"/><rect x="421.2" y="832.9" width="1.35" height="1.35"/><rect x="418.3" y="828.1" width="1.35" height="1.35"/><rect x="407.3" y="823.8" width="1.35" height="1.35"/><rect x="410.5" y="861.4" width="1.35" height="1.35"/><rect x="416.8" y="843.2" width="1.35" height="1.35"/><rect x="411.6" y="827.6" width="1.35" height="1.35"/><rect x="418.2" y="856.6" width="1.35" height="1.35"/><rect x="417.6" y="827.3" width="1.35" height="1.35"/><rect x="412.6" y="855.3" width="1.35" height="1.35"/><rect x="414.3" y="850.5" width="1.35" height="1.35"/><rect x="426.2" y="836.7" width="1.35" height="1.35"/><rect x="415.2" y="849.2" width="1.35" height="1.35"/><rect x="413.3" y="832.6" width="1.35" height="1.35"/><rect x="413.6" y="853.9" width="1.35" height="1.35"/><rect x="404.3" y="827.4" width="1.35" height="1.35"/><rect x="420.8" y="854.6" width="1.35" height="1.35"/><rect x="408.6" y="840.2" width="1.35" height="1.35"/><rect x="409.9" y="843.1" width="1.35" height="1.35"/></g>
<path class="wh" d="M490.3 800.0V821.5M490.3 853.1V862.6"/>
<rect class="bx" x="463.3" y="821.5" width="54.0" height="31.6" fill="#cb86df"/>
<path class="md" d="M463.3 836.2H517.3"/>
<g class="pt"><rect x="499.2" y="742.4" width="1.35" height="1.35"/><rect x="483.9" y="753.1" width="1.35" height="1.35"/><rect x="489.4" y="762.4" width="1.35" height="1.35"/><rect x="487.3" y="813.1" width="1.35" height="1.35"/><rect x="482.6" y="844.3" width="1.35" height="1.35"/><rect x="502.8" y="827.8" width="1.35" height="1.35"/><rect x="498.7" y="827.5" width="1.35" height="1.35"/><rect x="478.5" y="818.6" width="1.35" height="1.35"/><rect x="493.7" y="838.6" width="1.35" height="1.35"/><rect x="481.4" y="855.6" width="1.35" height="1.35"/><rect x="493.8" y="859.8" width="1.35" height="1.35"/><rect x="488.7" y="838.2" width="1.35" height="1.35"/><rect x="478.4" y="855.6" width="1.35" height="1.35"/><rect x="500.2" y="832.7" width="1.35" height="1.35"/><rect x="482.3" y="826.7" width="1.35" height="1.35"/><rect x="474.7" y="812.2" width="1.35" height="1.35"/><rect x="482.0" y="836.0" width="1.35" height="1.35"/><rect x="487.5" y="816.8" width="1.35" height="1.35"/><rect x="485.5" y="860.1" width="1.35" height="1.35"/><rect x="476.4" y="860.6" width="1.35" height="1.35"/><rect x="498.2" y="847.1" width="1.35" height="1.35"/><rect x="493.6" y="821.2" width="1.35" height="1.35"/><rect x="503.2" y="811.9" width="1.35" height="1.35"/><rect x="477.7" y="828.2" width="1.35" height="1.35"/><rect x="497.9" y="825.7" width="1.35" height="1.35"/><rect x="501.8" y="854.0" width="1.35" height="1.35"/><rect x="501.4" y="818.2" width="1.35" height="1.35"/><rect x="494.7" y="859.5" width="1.35" height="1.35"/><rect x="499.8" y="842.7" width="1.35" height="1.35"/><rect x="490.6" y="814.1" width="1.35" height="1.35"/><rect x="501.1" y="812.0" width="1.35" height="1.35"/><rect x="481.7" y="836.4" width="1.35" height="1.35"/><rect x="476.4" y="825.4" width="1.35" height="1.35"/><rect x="489.4" y="837.9" width="1.35" height="1.35"/><rect x="500.5" y="847.4" width="1.35" height="1.35"/></g>
<path class="wh" d="M565.6 828.3V839.3M565.6 858.2V874.3"/>
<rect class="bx" x="538.4" y="839.3" width="54.4" height="18.9" fill="#eed8f4"/>
<path class="md" d="M538.4 847.7H592.8"/>
<g class="pt"><rect x="554.1" y="759.1" width="1.35" height="1.35"/><rect x="564.0" y="835.0" width="1.35" height="1.35"/><rect x="575.2" y="846.6" width="1.35" height="1.35"/><rect x="578.8" y="850.7" width="1.35" height="1.35"/><rect x="569.0" y="850.2" width="1.35" height="1.35"/><rect x="570.4" y="860.5" width="1.35" height="1.35"/><rect x="579.4" y="847.8" width="1.35" height="1.35"/><rect x="576.9" y="852.2" width="1.35" height="1.35"/><rect x="568.7" y="854.9" width="1.35" height="1.35"/><rect x="560.9" y="848.6" width="1.35" height="1.35"/><rect x="573.1" y="846.9" width="1.35" height="1.35"/><rect x="562.6" y="836.7" width="1.35" height="1.35"/><rect x="558.7" y="861.2" width="1.35" height="1.35"/><rect x="565.1" y="848.2" width="1.35" height="1.35"/><rect x="579.2" y="836.4" width="1.35" height="1.35"/><rect x="559.9" y="844.3" width="1.35" height="1.35"/><rect x="567.5" y="836.3" width="1.35" height="1.35"/><rect x="551.2" y="837.4" width="1.35" height="1.35"/><rect x="566.3" y="844.3" width="1.35" height="1.35"/><rect x="550.1" y="856.1" width="1.35" height="1.35"/><rect x="568.2" y="836.3" width="1.35" height="1.35"/></g>
<path class="wh" d="M642.2 778.6V811.3M642.2 846.1V859.1"/>
<rect class="bx" x="615.3" y="811.3" width="53.9" height="34.8" fill="#cb86df"/>
<path class="md" d="M615.3 829.5H669.2"/>
<g class="pt"><rect x="626.6" y="723.0" width="1.35" height="1.35"/><rect x="654.4" y="777.9" width="1.35" height="1.35"/><rect x="632.4" y="784.9" width="1.35" height="1.35"/><rect x="653.9" y="806.1" width="1.35" height="1.35"/><rect x="645.4" y="805.8" width="1.35" height="1.35"/><rect x="647.0" y="833.9" width="1.35" height="1.35"/><rect x="640.3" y="799.9" width="1.35" height="1.35"/><rect x="632.0" y="837.6" width="1.35" height="1.35"/><rect x="654.0" y="803.1" width="1.35" height="1.35"/><rect x="651.3" y="850.5" width="1.35" height="1.35"/><rect x="634.3" y="825.3" width="1.35" height="1.35"/><rect x="636.2" y="833.0" width="1.35" height="1.35"/><rect x="654.6" y="830.4" width="1.35" height="1.35"/><rect x="627.8" y="838.8" width="1.35" height="1.35"/><rect x="643.9" y="849.5" width="1.35" height="1.35"/><rect x="627.0" y="831.3" width="1.35" height="1.35"/><rect x="654.7" y="849.7" width="1.35" height="1.35"/><rect x="639.0" y="833.1" width="1.35" height="1.35"/><rect x="633.0" y="811.2" width="1.35" height="1.35"/><rect x="626.7" y="800.1" width="1.35" height="1.35"/><rect x="655.6" y="840.9" width="1.35" height="1.35"/><rect x="630.5" y="835.7" width="1.35" height="1.35"/><rect x="633.9" y="800.9" width="1.35" height="1.35"/><rect x="628.1" y="807.2" width="1.35" height="1.35"/><rect x="652.3" y="799.7" width="1.35" height="1.35"/><rect x="645.5" y="804.2" width="1.35" height="1.35"/><rect x="654.6" y="844.2" width="1.35" height="1.35"/><rect x="648.1" y="811.2" width="1.35" height="1.35"/><rect x="646.1" y="846.2" width="1.35" height="1.35"/><rect x="635.9" y="800.6" width="1.35" height="1.35"/><rect x="652.4" y="812.7" width="1.35" height="1.35"/><rect x="637.6" y="803.9" width="1.35" height="1.35"/><rect x="646.9" y="838.4" width="1.35" height="1.35"/></g>
<path class="br" d="M263.0 747.6V746.8H340.5V747.6"/>
<text x="299.6" y="743.5" font-size="13.8" text-anchor="middle" font-weight="normal" fill="#2a2a2a" >ns</text>
<path class="br" d="M413.1 747.6V746.8H490.8V747.6"/>
<text x="451.6" y="751.4" font-size="23" text-anchor="middle" font-weight="normal" fill="#111" letter-spacing=".38">*</text>
<path class="br" d="M565.1 747.6V746.8H642.8V747.6"/>
<text x="603.6" y="751.4" font-size="23" text-anchor="middle" font-weight="normal" fill="#111" letter-spacing=".38">***</text>
</g>
<g id="brainA">
<clipPath id="clipA"><path d="M88.8 67.7C87.8 67.6 85.3 66.5 83.2 66.6C81.1 66.7 78.5 67.7 76.3 68.4C74.1 69.1 71.3 70.2 70.0 70.9C68.8 71.5 69.2 72.1 68.7 72.2C68.2 72.3 68.3 71.5 67.1 71.7C65.8 71.9 63.3 72.4 61.0 73.3C58.6 74.3 54.8 76.2 53.2 77.1C51.6 78.0 52.1 78.6 51.6 78.8C51.0 78.9 50.9 78.0 49.9 78.0C49.0 78.0 47.6 77.9 45.8 78.8C44.0 79.6 40.9 81.4 38.9 83.1C36.9 84.7 34.8 87.5 33.8 88.8C32.8 90.1 33.2 90.6 32.8 91.0C32.3 91.4 32.0 90.7 31.1 91.3C30.3 91.9 29.0 92.9 27.7 94.6C26.4 96.3 24.1 99.9 23.2 101.4C22.3 102.8 22.7 102.8 22.2 103.2C21.8 103.5 21.5 103.1 20.8 103.3C20.0 103.6 19.0 103.1 18.0 104.6C16.9 106.2 15.6 110.0 14.7 112.7C13.8 115.4 13.0 118.2 12.5 121.0C12.1 123.7 11.8 127.1 11.9 129.4C11.9 131.6 13.1 133.5 13.0 134.6C12.9 135.8 11.9 135.3 11.4 136.3C10.8 137.2 10.3 138.8 9.9 140.2C9.5 141.7 8.9 143.3 9.1 144.8C9.2 146.4 10.2 148.7 10.7 149.8C11.2 150.9 12.6 150.9 12.2 151.4C11.8 151.9 9.3 151.5 8.2 152.8C7.2 154.0 6.5 156.8 6.1 158.8C5.7 160.9 5.3 162.8 5.6 164.8C5.9 166.8 7.0 169.6 7.9 170.9C8.8 172.1 10.8 171.4 11.2 172.4C11.6 173.3 10.0 174.7 10.2 176.5C10.5 178.3 11.8 181.7 12.7 183.2C13.6 184.8 15.5 184.5 15.8 185.7C16.1 186.9 13.9 188.7 14.5 190.5C15.1 192.2 17.2 194.8 19.3 196.2C21.3 197.7 24.2 198.8 26.9 199.4C29.5 200.0 32.2 199.5 35.1 199.9C38.0 200.3 41.6 201.7 44.3 201.7C47.0 201.7 49.6 200.9 51.4 199.9C53.2 198.8 54.0 196.6 54.9 195.3C55.7 193.9 55.4 193.4 56.3 191.6C57.3 189.8 59.1 187.1 60.8 184.5C62.5 182.0 64.9 178.6 66.6 176.5C68.2 174.3 69.7 173.3 70.5 171.7C71.3 170.1 71.6 168.6 71.3 167.1C71.1 165.5 70.2 163.6 69.2 162.3C68.2 161.0 66.7 160.2 65.4 159.5C64.1 158.8 61.1 158.3 61.4 158.2C61.8 158.1 65.7 158.6 67.5 158.8C69.4 159.1 70.6 159.2 72.5 159.5C74.4 159.8 76.9 160.0 79.1 160.7C81.3 161.3 84.0 162.6 85.7 163.3C87.3 164.0 88.4 164.8 89.0 165.1C89.5 165.4 88.4 165.4 89.0 165.1C89.5 164.8 90.6 164.0 92.3 163.3C93.9 162.6 96.7 161.3 98.8 160.7C101.0 160.0 103.5 159.8 105.4 159.5C107.4 159.2 108.5 159.1 110.4 158.8C112.2 158.6 116.1 158.1 116.5 158.2C116.8 158.3 113.8 158.8 112.5 159.5C111.2 160.2 109.7 161.0 108.7 162.3C107.7 163.6 106.8 165.5 106.6 167.1C106.4 168.6 106.6 170.1 107.4 171.7C108.2 173.3 109.7 174.3 111.4 176.5C113.0 178.6 115.4 182.0 117.1 184.5C118.8 187.1 120.6 189.8 121.6 191.6C122.6 193.4 122.2 193.9 123.1 195.3C123.9 196.6 124.8 198.8 126.5 199.9C128.3 200.9 130.9 201.7 133.6 201.7C136.3 201.7 139.9 200.3 142.8 199.9C145.7 199.5 148.4 200.0 151.1 199.4C153.7 198.8 156.6 197.7 158.6 196.2C160.7 194.8 162.9 192.2 163.4 190.5C164.0 188.7 161.8 186.9 162.1 185.7C162.4 184.5 164.3 184.8 165.2 183.2C166.2 181.7 167.5 178.3 167.7 176.5C168.0 174.7 166.3 173.3 166.7 172.4C167.1 171.4 169.1 172.1 170.0 170.9C171.0 169.6 172.0 166.8 172.3 164.8C172.6 162.8 172.3 160.9 171.8 158.8C171.4 156.8 170.7 154.0 169.7 152.8C168.7 151.5 166.1 151.9 165.7 151.4C165.3 150.9 166.7 150.9 167.2 149.8C167.7 148.7 168.7 146.4 168.9 144.8C169.0 143.3 168.4 141.7 168.0 140.2C167.7 138.8 167.1 137.2 166.6 136.3C166.0 135.3 165.0 135.8 164.9 134.6C164.8 133.5 166.0 131.6 166.1 129.4C166.1 127.1 165.9 123.7 165.4 121.0C164.9 118.2 164.2 115.4 163.3 112.7C162.4 110.0 161.0 106.2 160.0 104.6C159.0 103.1 157.9 103.6 157.2 103.3C156.5 103.1 156.1 103.5 155.7 103.2C155.3 102.8 155.6 102.8 154.7 101.4C153.8 99.9 151.6 96.3 150.2 94.6C148.9 92.9 147.6 91.9 146.8 91.3C145.9 90.7 145.6 91.4 145.1 91.0C144.7 90.6 145.2 90.1 144.2 88.8C143.1 87.5 141.0 84.7 139.0 83.1C137.0 81.4 134.0 79.6 132.1 78.8C130.3 77.9 129.0 78.0 128.0 78.0C127.0 78.0 126.9 78.9 126.4 78.8C125.8 78.6 126.3 78.0 124.7 77.1C123.1 76.2 119.3 74.3 117.0 73.3C114.7 72.4 112.2 71.9 110.9 71.7C109.6 71.5 109.7 72.3 109.2 72.2C108.7 72.1 109.2 71.5 107.9 70.9C106.6 70.2 103.8 69.1 101.6 68.4C99.5 67.7 96.8 66.7 94.7 66.6C92.6 66.5 90.1 67.6 89.1 67.7C88.1 67.9 89.8 67.9 88.8 67.7Z"/></clipPath>
<path d="M88.8 67.7C87.8 67.6 85.3 66.5 83.2 66.6C81.1 66.7 78.5 67.7 76.3 68.4C74.1 69.1 71.3 70.2 70.0 70.9C68.8 71.5 69.2 72.1 68.7 72.2C68.2 72.3 68.3 71.5 67.1 71.7C65.8 71.9 63.3 72.4 61.0 73.3C58.6 74.3 54.8 76.2 53.2 77.1C51.6 78.0 52.1 78.6 51.6 78.8C51.0 78.9 50.9 78.0 49.9 78.0C49.0 78.0 47.6 77.9 45.8 78.8C44.0 79.6 40.9 81.4 38.9 83.1C36.9 84.7 34.8 87.5 33.8 88.8C32.8 90.1 33.2 90.6 32.8 91.0C32.3 91.4 32.0 90.7 31.1 91.3C30.3 91.9 29.0 92.9 27.7 94.6C26.4 96.3 24.1 99.9 23.2 101.4C22.3 102.8 22.7 102.8 22.2 103.2C21.8 103.5 21.5 103.1 20.8 103.3C20.0 103.6 19.0 103.1 18.0 104.6C16.9 106.2 15.6 110.0 14.7 112.7C13.8 115.4 13.0 118.2 12.5 121.0C12.1 123.7 11.8 127.1 11.9 129.4C11.9 131.6 13.1 133.5 13.0 134.6C12.9 135.8 11.9 135.3 11.4 136.3C10.8 137.2 10.3 138.8 9.9 140.2C9.5 141.7 8.9 143.3 9.1 144.8C9.2 146.4 10.2 148.7 10.7 149.8C11.2 150.9 12.6 150.9 12.2 151.4C11.8 151.9 9.3 151.5 8.2 152.8C7.2 154.0 6.5 156.8 6.1 158.8C5.7 160.9 5.3 162.8 5.6 164.8C5.9 166.8 7.0 169.6 7.9 170.9C8.8 172.1 10.8 171.4 11.2 172.4C11.6 173.3 10.0 174.7 10.2 176.5C10.5 178.3 11.8 181.7 12.7 183.2C13.6 184.8 15.5 184.5 15.8 185.7C16.1 186.9 13.9 188.7 14.5 190.5C15.1 192.2 17.2 194.8 19.3 196.2C21.3 197.7 24.2 198.8 26.9 199.4C29.5 200.0 32.2 199.5 35.1 199.9C38.0 200.3 41.6 201.7 44.3 201.7C47.0 201.7 49.6 200.9 51.4 199.9C53.2 198.8 54.0 196.6 54.9 195.3C55.7 193.9 55.4 193.4 56.3 191.6C57.3 189.8 59.1 187.1 60.8 184.5C62.5 182.0 64.9 178.6 66.6 176.5C68.2 174.3 69.7 173.3 70.5 171.7C71.3 170.1 71.6 168.6 71.3 167.1C71.1 165.5 70.2 163.6 69.2 162.3C68.2 161.0 66.7 160.2 65.4 159.5C64.1 158.8 61.1 158.3 61.4 158.2C61.8 158.1 65.7 158.6 67.5 158.8C69.4 159.1 70.6 159.2 72.5 159.5C74.4 159.8 76.9 160.0 79.1 160.7C81.3 161.3 84.0 162.6 85.7 163.3C87.3 164.0 88.4 164.8 89.0 165.1C89.5 165.4 88.4 165.4 89.0 165.1C89.5 164.8 90.6 164.0 92.3 163.3C93.9 162.6 96.7 161.3 98.8 160.7C101.0 160.0 103.5 159.8 105.4 159.5C107.4 159.2 108.5 159.1 110.4 158.8C112.2 158.6 116.1 158.1 116.5 158.2C116.8 158.3 113.8 158.8 112.5 159.5C111.2 160.2 109.7 161.0 108.7 162.3C107.7 163.6 106.8 165.5 106.6 167.1C106.4 168.6 106.6 170.1 107.4 171.7C108.2 173.3 109.7 174.3 111.4 176.5C113.0 178.6 115.4 182.0 117.1 184.5C118.8 187.1 120.6 189.8 121.6 191.6C122.6 193.4 122.2 193.9 123.1 195.3C123.9 196.6 124.8 198.8 126.5 199.9C128.3 200.9 130.9 201.7 133.6 201.7C136.3 201.7 139.9 200.3 142.8 199.9C145.7 199.5 148.4 200.0 151.1 199.4C153.7 198.8 156.6 197.7 158.6 196.2C160.7 194.8 162.9 192.2 163.4 190.5C164.0 188.7 161.8 186.9 162.1 185.7C162.4 184.5 164.3 184.8 165.2 183.2C166.2 181.7 167.5 178.3 167.7 176.5C168.0 174.7 166.3 173.3 166.7 172.4C167.1 171.4 169.1 172.1 170.0 170.9C171.0 169.6 172.0 166.8 172.3 164.8C172.6 162.8 172.3 160.9 171.8 158.8C171.4 156.8 170.7 154.0 169.7 152.8C168.7 151.5 166.1 151.9 165.7 151.4C165.3 150.9 166.7 150.9 167.2 149.8C167.7 148.7 168.7 146.4 168.9 144.8C169.0 143.3 168.4 141.7 168.0 140.2C167.7 138.8 167.1 137.2 166.6 136.3C166.0 135.3 165.0 135.8 164.9 134.6C164.8 133.5 166.0 131.6 166.1 129.4C166.1 127.1 165.9 123.7 165.4 121.0C164.9 118.2 164.2 115.4 163.3 112.7C162.4 110.0 161.0 106.2 160.0 104.6C159.0 103.1 157.9 103.6 157.2 103.3C156.5 103.1 156.1 103.5 155.7 103.2C155.3 102.8 155.6 102.8 154.7 101.4C153.8 99.9 151.6 96.3 150.2 94.6C148.9 92.9 147.6 91.9 146.8 91.3C145.9 90.7 145.6 91.4 145.1 91.0C144.7 90.6 145.2 90.1 144.2 88.8C143.1 87.5 141.0 84.7 139.0 83.1C137.0 81.4 134.0 79.6 132.1 78.8C130.3 77.9 129.0 78.0 128.0 78.0C127.0 78.0 126.9 78.9 126.4 78.8C125.8 78.6 126.3 78.0 124.7 77.1C123.1 76.2 119.3 74.3 117.0 73.3C114.7 72.4 112.2 71.9 110.9 71.7C109.6 71.5 109.7 72.3 109.2 72.2C108.7 72.1 109.2 71.5 107.9 70.9C106.6 70.2 103.8 69.1 101.6 68.4C99.5 67.7 96.8 66.7 94.7 66.6C92.6 66.5 90.1 67.6 89.1 67.7C88.1 67.9 89.8 67.9 88.8 67.7Z" fill="#e9e9e9"/>
<g clip-path="url(#clipA)">
<path d="M88.8 67.7C87.8 67.6 85.3 66.5 83.2 66.6C81.1 66.7 78.5 67.7 76.3 68.4C74.1 69.1 71.3 70.2 70.0 70.9C68.8 71.5 69.2 72.1 68.7 72.2C68.2 72.3 68.3 71.5 67.1 71.7C65.8 71.9 63.3 72.4 61.0 73.3C58.6 74.3 54.8 76.2 53.2 77.1C51.6 78.0 52.1 78.6 51.6 78.8C51.0 78.9 50.9 78.0 49.9 78.0C49.0 78.0 47.6 77.9 45.8 78.8C44.0 79.6 40.9 81.4 38.9 83.1C36.9 84.7 34.8 87.5 33.8 88.8C32.8 90.1 33.2 90.6 32.8 91.0C32.3 91.4 32.0 90.7 31.1 91.3C30.3 91.9 29.0 92.9 27.7 94.6C26.4 96.3 24.1 99.9 23.2 101.4C22.3 102.8 22.7 102.8 22.2 103.2C21.8 103.5 21.5 103.1 20.8 103.3C20.0 103.6 19.0 103.1 18.0 104.6C16.9 106.2 15.6 110.0 14.7 112.7C13.8 115.4 13.0 118.2 12.5 121.0C12.1 123.7 11.8 127.1 11.9 129.4C11.9 131.6 13.1 133.5 13.0 134.6C12.9 135.8 11.9 135.3 11.4 136.3C10.8 137.2 10.3 138.8 9.9 140.2C9.5 141.7 8.9 143.3 9.1 144.8C9.2 146.4 10.2 148.7 10.7 149.8C11.2 150.9 12.6 150.9 12.2 151.4C11.8 151.9 9.3 151.5 8.2 152.8C7.2 154.0 6.5 156.8 6.1 158.8C5.7 160.9 5.3 162.8 5.6 164.8C5.9 166.8 7.0 169.6 7.9 170.9C8.8 172.1 10.8 171.4 11.2 172.4C11.6 173.3 10.0 174.7 10.2 176.5C10.5 178.3 11.8 181.7 12.7 183.2C13.6 184.8 15.5 184.5 15.8 185.7C16.1 186.9 13.9 188.7 14.5 190.5C15.1 192.2 17.2 194.8 19.3 196.2C21.3 197.7 24.2 198.8 26.9 199.4C29.5 200.0 32.2 199.5 35.1 199.9C38.0 200.3 41.6 201.7 44.3 201.7C47.0 201.7 49.6 200.9 51.4 199.9C53.2 198.8 54.0 196.6 54.9 195.3C55.7 193.9 55.4 193.4 56.3 191.6C57.3 189.8 59.1 187.1 60.8 184.5C62.5 182.0 64.9 178.6 66.6 176.5C68.2 174.3 69.7 173.3 70.5 171.7C71.3 170.1 71.6 168.6 71.3 167.1C71.1 165.5 70.2 163.6 69.2 162.3C68.2 161.0 66.7 160.2 65.4 159.5C64.1 158.8 61.1 158.3 61.4 158.2C61.8 158.1 65.7 158.6 67.5 158.8C69.4 159.1 70.6 159.2 72.5 159.5C74.4 159.8 76.9 160.0 79.1 160.7C81.3 161.3 84.0 162.6 85.7 163.3C87.3 164.0 88.4 164.8 89.0 165.1C89.5 165.4 88.4 165.4 89.0 165.1C89.5 164.8 90.6 164.0 92.3 163.3C93.9 162.6 96.7 161.3 98.8 160.7C101.0 160.0 103.5 159.8 105.4 159.5C107.4 159.2 108.5 159.1 110.4 158.8C112.2 158.6 116.1 158.1 116.5 158.2C116.8 158.3 113.8 158.8 112.5 159.5C111.2 160.2 109.7 161.0 108.7 162.3C107.7 163.6 106.8 165.5 106.6 167.1C106.4 168.6 106.6 170.1 107.4 171.7C108.2 173.3 109.7 174.3 111.4 176.5C113.0 178.6 115.4 182.0 117.1 184.5C118.8 187.1 120.6 189.8 121.6 191.6C122.6 193.4 122.2 193.9 123.1 195.3C123.9 196.6 124.8 198.8 126.5 199.9C128.3 200.9 130.9 201.7 133.6 201.7C136.3 201.7 139.9 200.3 142.8 199.9C145.7 199.5 148.4 200.0 151.1 199.4C153.7 198.8 156.6 197.7 158.6 196.2C160.7 194.8 162.9 192.2 163.4 190.5C164.0 188.7 161.8 186.9 162.1 185.7C162.4 184.5 164.3 184.8 165.2 183.2C166.2 181.7 167.5 178.3 167.7 176.5C168.0 174.7 166.3 173.3 166.7 172.4C167.1 171.4 169.1 172.1 170.0 170.9C171.0 169.6 172.0 166.8 172.3 164.8C172.6 162.8 172.3 160.9 171.8 158.8C171.4 156.8 170.7 154.0 169.7 152.8C168.7 151.5 166.1 151.9 165.7 151.4C165.3 150.9 166.7 150.9 167.2 149.8C167.7 148.7 168.7 146.4 168.9 144.8C169.0 143.3 168.4 141.7 168.0 140.2C167.7 138.8 167.1 137.2 166.6 136.3C166.0 135.3 165.0 135.8 164.9 134.6C164.8 133.5 166.0 131.6 166.1 129.4C166.1 127.1 165.9 123.7 165.4 121.0C164.9 118.2 164.2 115.4 163.3 112.7C162.4 110.0 161.0 106.2 160.0 104.6C159.0 103.1 157.9 103.6 157.2 103.3C156.5 103.1 156.1 103.5 155.7 103.2C155.3 102.8 155.6 102.8 154.7 101.4C153.8 99.9 151.6 96.3 150.2 94.6C148.9 92.9 147.6 91.9 146.8 91.3C145.9 90.7 145.6 91.4 145.1 91.0C144.7 90.6 145.2 90.1 144.2 88.8C143.1 87.5 141.0 84.7 139.0 83.1C137.0 81.4 134.0 79.6 132.1 78.8C130.3 77.9 129.0 78.0 128.0 78.0C127.0 78.0 126.9 78.9 126.4 78.8C125.8 78.6 126.3 78.0 124.7 77.1C123.1 76.2 119.3 74.3 117.0 73.3C114.7 72.4 112.2 71.9 110.9 71.7C109.6 71.5 109.7 72.3 109.2 72.2C108.7 72.1 109.2 71.5 107.9 70.9C106.6 70.2 103.8 69.1 101.6 68.4C99.5 67.7 96.8 66.7 94.7 66.6C92.6 66.5 90.1 67.6 89.1 67.7C88.1 67.9 89.8 67.9 88.8 67.7Z" fill="none" stroke="#d3d3d3" stroke-width="11.86" stroke-linejoin="round"/>
<path d="M65.6 158.8C66.7 159.0 70.2 159.5 72.5 159.8C74.7 160.2 76.9 160.4 79.1 161.0C81.3 161.6 84.0 162.9 85.7 163.6C87.3 164.4 88.4 165.1 89.0 165.4C89.5 165.7 88.4 165.7 89.0 165.4C89.5 165.1 90.6 164.4 92.3 163.6C93.9 162.9 96.7 161.6 98.8 161.0C101.0 160.4 103.2 160.2 105.4 159.8C107.7 159.5 111.2 159.0 112.4 158.8" fill="none" stroke="#e9e9e9" stroke-width="12.52" stroke-linecap="round" stroke-linejoin="round" />
<path d="M68.7 71.9C68.6 73.3 67.9 78.3 68.0 80.8C68.1 83.2 69.1 85.7 69.4 86.7" fill="none" stroke="#d3d3d3" stroke-width="7.12" stroke-linecap="round" stroke-linejoin="round" />
<path d="M51.9 78.8C52.1 79.8 52.7 83.5 53.2 85.0C53.7 86.6 54.4 87.5 54.7 88.0" fill="none" stroke="#d3d3d3" stroke-width="6.72" stroke-linecap="round" stroke-linejoin="round" />
<path d="M33.3 90.8C34.0 92.2 35.9 96.6 37.7 98.9C39.6 101.1 42.2 103.4 44.3 104.3C46.4 105.2 49.3 104.3 50.2 104.3" fill="none" stroke="#d3d3d3" stroke-width="7.12" stroke-linecap="round" stroke-linejoin="round" />
<path d="M22.4 103.0C23.3 103.7 26.2 106.3 27.5 107.1C28.8 107.9 29.6 107.8 30.0 107.9" fill="none" stroke="#d3d3d3" stroke-width="6.33" stroke-linecap="round" stroke-linejoin="round" />
<path d="M11.7 136.1C13.6 136.2 19.5 136.4 23.4 136.6C27.3 136.8 32.6 138.2 35.1 137.4C37.6 136.7 37.0 133.9 38.6 132.0C40.1 130.1 42.8 127.6 44.3 126.2C45.9 124.9 47.2 124.3 47.8 123.9" fill="none" stroke="#d3d3d3" stroke-width="6.72" stroke-linecap="round" stroke-linejoin="round" />
<path d="M35.1 137.9C35.9 139.3 38.4 143.5 39.7 146.0C41.0 148.5 42.3 151.1 43.2 153.1C44.0 155.1 44.5 157.2 44.8 158.0" fill="none" stroke="#d3d3d3" stroke-width="7.12" stroke-linecap="round" stroke-linejoin="round" />
<path d="M88.1 79.4C87.1 79.4 83.6 79.2 81.9 79.4C80.2 79.7 78.6 80.5 77.9 80.8" fill="none" stroke="#d3d3d3" stroke-width="6.33" stroke-linecap="round" stroke-linejoin="round" />
<path d="M88.1 94.1C86.8 94.5 82.7 95.4 80.4 96.4C78.1 97.4 75.3 99.3 74.3 99.9" fill="none" stroke="#d3d3d3" stroke-width="7.12" stroke-linecap="round" stroke-linejoin="round" />
<path d="M88.1 108.8C87.1 108.9 83.6 109.2 81.9 109.4C80.2 109.7 78.6 110.1 77.9 110.2" fill="none" stroke="#d3d3d3" stroke-width="6.72" stroke-linecap="round" stroke-linejoin="round" />
<path d="M13.8 113.2C15.0 113.3 19.1 114.0 20.8 114.0C22.4 114.1 23.4 113.6 23.9 113.5" fill="none" stroke="#d3d3d3" stroke-width="5.93" stroke-linecap="round" stroke-linejoin="round" />
<path d="M12.2 151.4C13.1 151.2 15.8 150.8 17.5 150.3C19.2 149.8 21.6 148.6 22.4 148.3" fill="none" stroke="#d3d3d3" stroke-width="5.93" stroke-linecap="round" stroke-linejoin="round" />
<path d="M12.7 152.8C13.5 153.8 15.7 157.0 17.5 158.8C19.2 160.7 21.7 162.3 23.4 163.6C25.1 165.0 26.8 166.5 27.5 167.1" fill="none" stroke="#d3d3d3" stroke-width="6.72" stroke-linecap="round" stroke-linejoin="round" />
<path d="M11.0 172.2C11.9 171.7 15.0 169.7 16.3 169.2C17.6 168.8 18.2 169.5 18.6 169.6" fill="none" stroke="#d3d3d3" stroke-width="5.93" stroke-linecap="round" stroke-linejoin="round" />
<path d="M15.8 185.7C16.7 185.1 19.5 183.0 21.1 182.2C22.6 181.5 24.2 180.9 25.0 181.1C25.9 181.3 26.0 183.0 26.2 183.4" fill="none" stroke="#d3d3d3" stroke-width="5.93" stroke-linecap="round" stroke-linejoin="round" />
<path d="M55.2 193.8C54.6 193.2 52.8 191.8 51.4 190.5C50.0 189.1 48.4 187.3 46.8 185.7C45.2 184.1 43.0 182.1 42.0 181.1C41.0 180.0 41.0 179.7 40.9 179.4" fill="none" stroke="#d3d3d3" stroke-width="7.12" stroke-linecap="round" stroke-linejoin="round" />
<path d="M11.7 136.1C13.6 136.2 19.5 136.4 23.4 136.6C27.3 136.8 32.6 138.2 35.1 137.4C37.6 136.7 37.2 133.7 38.6 132.0C39.9 130.3 42.4 128.0 43.2 127.2" fill="none" stroke="#bcbcbc" stroke-width="0.82" stroke-linecap="round" stroke-linejoin="round" />
<path d="M38.2 143.2C38.6 143.8 39.6 145.1 40.4 146.7C41.1 148.2 42.0 150.7 42.7 152.4C43.3 154.2 44.0 156.4 44.3 157.2" fill="none" stroke="#bcbcbc" stroke-width="1.65" stroke-linecap="round" stroke-linejoin="round" />
<ellipse cx="57.2" cy="167.6" rx="4.0" ry="2.5" transform="rotate(35 57.2 167.6)" fill="#d3d3d3"/>
<path d="M61.9 158.7C62.8 158.9 65.7 159.0 67.2 160.2C68.7 161.4 70.3 164.2 70.8 165.9C71.4 167.7 70.6 169.9 70.5 170.7" fill="none" stroke="#b9b9b9" stroke-width="2.47" stroke-linecap="round" stroke-linejoin="round" />
<path d="M109.2 71.9C109.3 73.3 110.0 78.3 109.9 80.8C109.8 83.2 108.8 85.7 108.6 86.7" fill="none" stroke="#d3d3d3" stroke-width="7.12" stroke-linecap="round" stroke-linejoin="round" />
<path d="M126.0 78.8C125.8 79.8 125.2 83.5 124.7 85.0C124.2 86.6 123.5 87.5 123.2 88.0" fill="none" stroke="#d3d3d3" stroke-width="6.72" stroke-linecap="round" stroke-linejoin="round" />
<path d="M144.6 90.8C143.9 92.2 142.0 96.6 140.2 98.9C138.4 101.1 135.7 103.4 133.6 104.3C131.5 105.2 128.7 104.3 127.7 104.3" fill="none" stroke="#d3d3d3" stroke-width="7.12" stroke-linecap="round" stroke-linejoin="round" />
<path d="M155.5 103.0C154.7 103.7 151.7 106.3 150.4 107.1C149.1 107.9 148.4 107.8 147.9 107.9" fill="none" stroke="#d3d3d3" stroke-width="6.33" stroke-linecap="round" stroke-linejoin="round" />
<path d="M89.8 79.4C90.8 79.4 94.3 79.2 96.0 79.4C97.7 79.7 99.3 80.5 100.0 80.8" fill="none" stroke="#d3d3d3" stroke-width="6.33" stroke-linecap="round" stroke-linejoin="round" />
<path d="M89.8 94.1C91.1 94.5 95.2 95.4 97.5 96.4C99.8 97.4 102.6 99.3 103.6 99.9" fill="none" stroke="#d3d3d3" stroke-width="7.12" stroke-linecap="round" stroke-linejoin="round" />
<path d="M89.8 108.8C90.8 108.9 94.3 109.2 96.0 109.4C97.7 109.7 99.3 110.1 100.0 110.2" fill="none" stroke="#d3d3d3" stroke-width="6.72" stroke-linecap="round" stroke-linejoin="round" />
<path d="M164.1 113.2C162.9 113.3 158.8 114.0 157.2 114.0C155.5 114.1 154.6 113.6 154.0 113.5" fill="none" stroke="#d3d3d3" stroke-width="5.93" stroke-linecap="round" stroke-linejoin="round" />
<path d="M165.7 151.4C164.9 151.2 162.2 150.8 160.5 150.3C158.8 149.8 156.3 148.6 155.5 148.3" fill="none" stroke="#d3d3d3" stroke-width="5.93" stroke-linecap="round" stroke-linejoin="round" />
<path d="M165.2 152.8C164.4 153.8 162.2 157.0 160.5 158.8C158.7 160.7 156.2 162.3 154.5 163.6C152.9 165.0 151.1 166.5 150.4 167.1" fill="none" stroke="#d3d3d3" stroke-width="6.72" stroke-linecap="round" stroke-linejoin="round" />
<path d="M166.9 172.2C166.0 171.7 162.9 169.7 161.6 169.2C160.4 168.8 159.7 169.5 159.3 169.6" fill="none" stroke="#d3d3d3" stroke-width="5.93" stroke-linecap="round" stroke-linejoin="round" />
<path d="M162.1 185.7C161.2 185.1 158.4 183.0 156.8 182.2C155.3 181.5 153.7 180.9 152.9 181.1C152.0 181.3 151.9 183.0 151.7 183.4" fill="none" stroke="#d3d3d3" stroke-width="5.93" stroke-linecap="round" stroke-linejoin="round" />
<path d="M122.7 193.8C123.4 193.2 125.1 191.8 126.5 190.5C127.9 189.1 129.6 187.3 131.1 185.7C132.7 184.1 134.9 182.1 135.9 181.1C136.9 180.0 136.9 179.7 137.1 179.4" fill="none" stroke="#d3d3d3" stroke-width="7.12" stroke-linecap="round" stroke-linejoin="round" />
<path d="M171.3 142.9C169.0 143.2 162.0 144.2 157.5 144.8C153.0 145.5 146.5 146.4 144.3 146.7" fill="none" stroke="#d3d3d3" stroke-width="7.12" stroke-linecap="round" stroke-linejoin="round" />
<path d="M144.3 146.7C143.8 145.1 142.2 140.3 141.4 137.4C140.5 134.5 139.9 132.0 139.4 129.2C138.8 126.4 138.3 122.1 138.1 120.6" fill="none" stroke="#d3d3d3" stroke-width="6.72" stroke-linecap="round" stroke-linejoin="round" />
<path d="M144.3 146.7C143.7 147.6 141.3 150.4 140.4 152.3C139.4 154.1 139.0 156.7 138.7 157.5" fill="none" stroke="#d3d3d3" stroke-width="6.72" stroke-linecap="round" stroke-linejoin="round" />
<path d="M171.3 142.9C169.0 143.2 161.9 144.2 157.5 144.8C153.1 145.5 147.4 145.4 145.0 146.7C142.5 147.9 143.1 151.3 142.7 152.3" fill="none" stroke="#bcbcbc" stroke-width="1.32" stroke-linecap="round" stroke-linejoin="round" />
<path d="M145.0 146.7L142.7 142.4" fill="none" stroke="#bcbcbc" stroke-width="1.15" stroke-linecap="round" stroke-linejoin="round" />
<ellipse cx="120.8" cy="167.6" rx="4.0" ry="2.5" transform="rotate(-35 120.8 167.6)" fill="#d3d3d3"/>
<path d="M116.0 158.7C115.1 158.9 112.2 159.0 110.7 160.2C109.2 161.4 107.6 164.2 107.1 165.9C106.5 167.7 107.4 169.9 107.4 170.7" fill="none" stroke="#b9b9b9" stroke-width="2.47" stroke-linecap="round" stroke-linejoin="round" />
<path d="M89.0 66.6L89.0 112.4" fill="none" stroke="#d3d3d3" stroke-width="8.24" stroke-linecap="round" stroke-linejoin="round" />
<path d="M89.0 66.6L88.6 112.4" fill="none" stroke="#b9b9b9" stroke-width="2.47" stroke-linecap="round" stroke-linejoin="round" />
<g transform="translate(1.07 0)">
<path d="M58.0 130.0C59.4 128.4 62.2 128.5 63.6 129.2C65.0 129.9 66.3 131.4 66.2 134.1C66.2 136.9 64.3 142.8 63.3 145.7C62.3 148.6 61.4 151.0 60.3 151.6C59.2 152.1 57.7 151.0 56.8 149.0C56.0 146.9 54.8 142.2 55.0 139.1C55.2 135.9 56.6 131.7 58.0 130.0Z" fill="#d7d7d7" />
<path d="M66.2 139.1C67.2 137.7 69.9 136.9 71.2 137.4C72.4 138.0 73.6 140.2 73.6 142.4C73.6 144.6 72.3 149.0 71.2 150.6C70.0 152.3 67.9 153.1 66.9 152.3C65.9 151.4 65.2 147.9 65.1 145.7C65.0 143.5 65.2 140.5 66.2 139.1Z" fill="#d7d7d7" />
<path d="M73.5 144.8C74.1 143.7 76.9 145.5 77.6 146.7C78.3 147.8 78.2 150.5 77.6 151.6C77.0 152.7 74.8 154.4 74.1 153.2C73.4 152.1 72.9 145.9 73.5 144.8Z" fill="#d7d7d7" />
<path d="M52.4 149.8C52.5 147.7 52.2 141.1 53.0 137.4C53.9 133.7 56.1 129.9 57.7 127.5C59.3 125.2 61.8 124.1 62.6 123.4" fill="none" stroke="#dcdcdc" stroke-width="0.82" stroke-linecap="round" stroke-linejoin="round" />
<path d="M65.2 116.3C66.0 117.8 68.1 122.2 69.7 125.1C71.3 128.0 74.1 132.4 75.0 133.8" fill="none" stroke="#d6d6d6" stroke-width="2.64" stroke-linecap="round" stroke-linejoin="round" />
<path d="M70.3 115.5C70.6 115.2 74.4 118.4 76.4 119.5C78.5 120.6 80.8 121.4 82.5 122.1C84.3 122.9 86.1 123.0 87.0 123.9C87.9 124.9 87.8 126.1 87.8 127.7C87.9 129.4 87.6 131.9 87.3 133.8C87.0 135.7 86.5 137.8 86.0 139.1C85.5 140.3 85.0 141.2 84.3 141.4C83.7 141.5 82.8 141.2 82.0 140.1C81.3 139.0 80.6 136.7 79.9 134.8C79.2 132.9 78.6 130.9 77.8 128.7C76.9 126.5 75.9 123.8 74.6 121.6C73.4 119.4 70.0 115.9 70.3 115.5Z" fill="#fff" stroke="#d2d2d2" stroke-width="0.49"/>
<path d="M67.4 113.0C68.1 114.2 70.2 117.4 71.5 119.8C72.8 122.2 74.3 125.2 75.3 127.7C76.3 130.2 76.6 132.7 77.6 135.0C78.6 137.2 80.0 139.8 81.1 141.1C82.2 142.3 83.7 142.3 84.2 142.5" fill="none" stroke="#b4b4b4" stroke-width="2.80" stroke-linecap="round" stroke-linejoin="round" />
<path d="M119.9 130.0C118.5 128.4 115.7 128.5 114.3 129.2C113.0 129.9 111.6 131.4 111.7 134.1C111.8 136.9 113.7 142.8 114.7 145.7C115.7 148.6 116.6 151.0 117.6 151.6C118.7 152.1 120.2 151.0 121.1 149.0C122.0 146.9 123.1 142.2 122.9 139.1C122.7 135.9 121.4 131.7 119.9 130.0Z" fill="#d7d7d7" />
<path d="M111.7 139.1C110.7 137.7 108.0 136.9 106.8 137.4C105.5 138.0 104.3 140.2 104.3 142.4C104.3 144.6 105.6 149.0 106.8 150.6C107.9 152.3 110.0 153.1 111.0 152.3C112.1 151.4 112.7 147.9 112.9 145.7C113.0 143.5 112.7 140.5 111.7 139.1Z" fill="#d7d7d7" />
<path d="M104.4 144.8C103.9 143.7 101.0 145.5 100.3 146.7C99.6 147.8 99.8 150.5 100.3 151.6C100.9 152.7 103.1 154.4 103.8 153.2C104.5 152.1 105.0 145.9 104.4 144.8Z" fill="#d7d7d7" />
<path d="M125.5 149.8C125.4 147.7 125.8 141.1 124.9 137.4C124.0 133.7 121.9 129.9 120.3 127.5C118.7 125.2 116.1 124.1 115.3 123.4" fill="none" stroke="#dcdcdc" stroke-width="0.82" stroke-linecap="round" stroke-linejoin="round" />
<path d="M112.7 116.3C111.9 117.8 109.9 122.2 108.2 125.1C106.6 128.0 103.8 132.4 103.0 133.8" fill="none" stroke="#d6d6d6" stroke-width="2.64" stroke-linecap="round" stroke-linejoin="round" />
<path d="M107.6 115.5C107.3 115.2 103.5 118.4 101.5 119.5C99.5 120.6 97.1 121.4 95.4 122.1C93.6 122.9 91.8 123.0 90.9 123.9C90.1 124.9 90.2 126.1 90.1 127.7C90.1 129.4 90.3 131.9 90.6 133.8C90.9 135.7 91.4 137.8 91.9 139.1C92.4 140.3 92.9 141.2 93.6 141.4C94.2 141.5 95.1 141.2 95.9 140.1C96.6 139.0 97.3 136.7 98.0 134.8C98.7 132.9 99.3 130.9 100.2 128.7C101.0 126.5 102.1 123.8 103.3 121.6C104.5 119.4 107.9 115.9 107.6 115.5Z" fill="#fff" stroke="#d2d2d2" stroke-width="0.49"/>
<path d="M110.5 113.0C109.9 114.2 107.7 117.4 106.4 119.8C105.1 122.2 103.7 125.2 102.6 127.7C101.6 130.2 101.3 132.7 100.3 135.0C99.4 137.2 98.0 139.8 96.9 141.1C95.8 142.3 94.3 142.3 93.7 142.5" fill="none" stroke="#b4b4b4" stroke-width="2.80" stroke-linecap="round" stroke-linejoin="round" />
<path d="M70.8 113.0C72.5 113.7 77.7 115.5 80.7 116.8C83.7 118.2 86.2 121.3 89.0 121.3C91.7 121.3 94.2 118.2 97.2 116.8C100.2 115.5 105.4 113.7 107.1 113.0" fill="none" stroke="#d9d9d9" stroke-width="0.82" stroke-linecap="round" stroke-linejoin="round" />
<path d="M89.0 124.3L89.0 137.4" fill="none" stroke="#dedede" stroke-width="1.15" stroke-linecap="round" stroke-linejoin="round" />
<ellipse cx="89.0" cy="154.4" rx="7.9" ry="6.9" fill="#dbdbdb"/>
<ellipse cx="89.0" cy="154.4" rx="2.5" ry="5.3" fill="#bbbbbb"/>
<path d="M89.0 143.2L86.2 147.6L91.8 147.6Z" fill="#bdbdbd"/>
</g>
</g>
<path d="M88.8 67.7C87.8 67.6 85.3 66.5 83.2 66.6C81.1 66.7 78.5 67.7 76.3 68.4C74.1 69.1 71.3 70.2 70.0 70.9C68.8 71.5 69.2 72.1 68.7 72.2C68.2 72.3 68.3 71.5 67.1 71.7C65.8 71.9 63.3 72.4 61.0 73.3C58.6 74.3 54.8 76.2 53.2 77.1C51.6 78.0 52.1 78.6 51.6 78.8C51.0 78.9 50.9 78.0 49.9 78.0C49.0 78.0 47.6 77.9 45.8 78.8C44.0 79.6 40.9 81.4 38.9 83.1C36.9 84.7 34.8 87.5 33.8 88.8C32.8 90.1 33.2 90.6 32.8 91.0C32.3 91.4 32.0 90.7 31.1 91.3C30.3 91.9 29.0 92.9 27.7 94.6C26.4 96.3 24.1 99.9 23.2 101.4C22.3 102.8 22.7 102.8 22.2 103.2C21.8 103.5 21.5 103.1 20.8 103.3C20.0 103.6 19.0 103.1 18.0 104.6C16.9 106.2 15.6 110.0 14.7 112.7C13.8 115.4 13.0 118.2 12.5 121.0C12.1 123.7 11.8 127.1 11.9 129.4C11.9 131.6 13.1 133.5 13.0 134.6C12.9 135.8 11.9 135.3 11.4 136.3C10.8 137.2 10.3 138.8 9.9 140.2C9.5 141.7 8.9 143.3 9.1 144.8C9.2 146.4 10.2 148.7 10.7 149.8C11.2 150.9 12.6 150.9 12.2 151.4C11.8 151.9 9.3 151.5 8.2 152.8C7.2 154.0 6.5 156.8 6.1 158.8C5.7 160.9 5.3 162.8 5.6 164.8C5.9 166.8 7.0 169.6 7.9 170.9C8.8 172.1 10.8 171.4 11.2 172.4C11.6 173.3 10.0 174.7 10.2 176.5C10.5 178.3 11.8 181.7 12.7 183.2C13.6 184.8 15.5 184.5 15.8 185.7C16.1 186.9 13.9 188.7 14.5 190.5C15.1 192.2 17.2 194.8 19.3 196.2C21.3 197.7 24.2 198.8 26.9 199.4C29.5 200.0 32.2 199.5 35.1 199.9C38.0 200.3 41.6 201.7 44.3 201.7C47.0 201.7 49.6 200.9 51.4 199.9C53.2 198.8 54.0 196.6 54.9 195.3C55.7 193.9 55.4 193.4 56.3 191.6C57.3 189.8 59.1 187.1 60.8 184.5C62.5 182.0 64.9 178.6 66.6 176.5C68.2 174.3 69.7 173.3 70.5 171.7C71.3 170.1 71.6 168.6 71.3 167.1C71.1 165.5 70.2 163.6 69.2 162.3C68.2 161.0 66.7 160.2 65.4 159.5C64.1 158.8 61.1 158.3 61.4 158.2C61.8 158.1 65.7 158.6 67.5 158.8C69.4 159.1 70.6 159.2 72.5 159.5C74.4 159.8 76.9 160.0 79.1 160.7C81.3 161.3 84.0 162.6 85.7 163.3C87.3 164.0 88.4 164.8 89.0 165.1C89.5 165.4 88.4 165.4 89.0 165.1C89.5 164.8 90.6 164.0 92.3 163.3C93.9 162.6 96.7 161.3 98.8 160.7C101.0 160.0 103.5 159.8 105.4 159.5C107.4 159.2 108.5 159.1 110.4 158.8C112.2 158.6 116.1 158.1 116.5 158.2C116.8 158.3 113.8 158.8 112.5 159.5C111.2 160.2 109.7 161.0 108.7 162.3C107.7 163.6 106.8 165.5 106.6 167.1C106.4 168.6 106.6 170.1 107.4 171.7C108.2 173.3 109.7 174.3 111.4 176.5C113.0 178.6 115.4 182.0 117.1 184.5C118.8 187.1 120.6 189.8 121.6 191.6C122.6 193.4 122.2 193.9 123.1 195.3C123.9 196.6 124.8 198.8 126.5 199.9C128.3 200.9 130.9 201.7 133.6 201.7C136.3 201.7 139.9 200.3 142.8 199.9C145.7 199.5 148.4 200.0 151.1 199.4C153.7 198.8 156.6 197.7 158.6 196.2C160.7 194.8 162.9 192.2 163.4 190.5C164.0 188.7 161.8 186.9 162.1 185.7C162.4 184.5 164.3 184.8 165.2 183.2C166.2 181.7 167.5 178.3 167.7 176.5C168.0 174.7 166.3 173.3 166.7 172.4C167.1 171.4 169.1 172.1 170.0 170.9C171.0 169.6 172.0 166.8 172.3 164.8C172.6 162.8 172.3 160.9 171.8 158.8C171.4 156.8 170.7 154.0 169.7 152.8C168.7 151.5 166.1 151.9 165.7 151.4C165.3 150.9 166.7 150.9 167.2 149.8C167.7 148.7 168.7 146.4 168.9 144.8C169.0 143.3 168.4 141.7 168.0 140.2C167.7 138.8 167.1 137.2 166.6 136.3C166.0 135.3 165.0 135.8 164.9 134.6C164.8 133.5 166.0 131.6 166.1 129.4C166.1 127.1 165.9 123.7 165.4 121.0C164.9 118.2 164.2 115.4 163.3 112.7C162.4 110.0 161.0 106.2 160.0 104.6C159.0 103.1 157.9 103.6 157.2 103.3C156.5 103.1 156.1 103.5 155.7 103.2C155.3 102.8 155.6 102.8 154.7 101.4C153.8 99.9 151.6 96.3 150.2 94.6C148.9 92.9 147.6 91.9 146.8 91.3C145.9 90.7 145.6 91.4 145.1 91.0C144.7 90.6 145.2 90.1 144.2 88.8C143.1 87.5 141.0 84.7 139.0 83.1C137.0 81.4 134.0 79.6 132.1 78.8C130.3 77.9 129.0 78.0 128.0 78.0C127.0 78.0 126.9 78.9 126.4 78.8C125.8 78.6 126.3 78.0 124.7 77.1C123.1 76.2 119.3 74.3 117.0 73.3C114.7 72.4 112.2 71.9 110.9 71.7C109.6 71.5 109.7 72.3 109.2 72.2C108.7 72.1 109.2 71.5 107.9 70.9C106.6 70.2 103.8 69.1 101.6 68.4C99.5 67.7 96.8 66.7 94.7 66.6C92.6 66.5 90.1 67.6 89.1 67.7C88.1 67.9 89.8 67.9 88.8 67.7Z" fill="none" stroke="#c6c6c6" stroke-width=".7"/>
<radialGradient id="glowA"><stop offset="0" stop-color="#f5363e" stop-opacity=".95"/><stop offset=".16" stop-color="#f6444b" stop-opacity=".9"/><stop offset=".38" stop-color="#f7666b" stop-opacity=".62"/><stop offset=".6" stop-color="#f98e92" stop-opacity=".28"/><stop offset=".8" stop-color="#fbb0b3" stop-opacity=".07"/><stop offset="1" stop-color="#fcc" stop-opacity="0"/></radialGradient>
<circle cx="126.1" cy="129.4" r="13.5" fill="url(#glowA)"/>
<ellipse cx="120.6" cy="168.8" rx="5" ry="3.4" transform="rotate(-22 120.6 168.8)" fill="#8aa4d4" stroke="#6f8bc2" stroke-width=".7"/>
<text x="160.8" y="73.0" font-size="8" text-anchor="middle" fill="#222" stroke="#222" stroke-width=".12">seizure</text>
<text x="160.8" y="81.6" font-size="8" text-anchor="middle" fill="#222" stroke="#222" stroke-width=".12">onset side</text>
<path d="M152.4 84.6L130.4 117.4" stroke="#222" stroke-width=".9" stroke-dasharray="1.3 .8" fill="none"/>
<circle cx="129.9" cy="118.1" r=".95" fill="#222"/>
<path d="M56.1 212.9V227.5" stroke="#222" stroke-width=".9"/>
<rect x="49.0" y="215.1" width="14.2" height="10.2" rx=".8" fill="#afc4e8" stroke="#222" stroke-width=".9"/>
<path d="M49.0 220.2H63.2" stroke="#222" stroke-width="1.3"/>
<path d="M114.6 212.9V227.5" stroke="#222" stroke-width=".9"/>
<rect x="107.5" y="215.1" width="14.2" height="10.2" rx=".8" fill="#6b8fd3" stroke="#222" stroke-width=".9"/>
<path d="M107.5 220.2H121.7" stroke="#222" stroke-width="1.3"/>
<circle cx="160.7" cy="220.2" r=".5" fill="#999"/>
</g>
<g id="brainB">
<clipPath id="clipB"><path d="M91.5 287.0C90.5 286.8 88.0 285.8 85.9 285.9C83.9 286.0 81.3 287.0 79.1 287.7C77.0 288.4 74.2 289.5 73.0 290.1C71.7 290.7 72.2 291.3 71.7 291.4C71.2 291.5 71.3 290.7 70.0 290.9C68.8 291.1 66.3 291.7 64.0 292.5C61.8 293.4 58.0 295.4 56.4 296.3C54.9 297.2 55.3 297.8 54.8 297.9C54.3 298.0 54.1 297.1 53.2 297.1C52.2 297.1 50.9 297.1 49.1 297.9C47.3 298.7 44.3 300.5 42.3 302.1C40.3 303.8 38.3 306.5 37.3 307.8C36.3 309.1 36.7 309.5 36.3 309.9C35.9 310.3 35.5 309.6 34.7 310.2C33.8 310.8 32.6 311.8 31.3 313.5C30.0 315.1 27.8 318.7 26.9 320.1C26.0 321.5 26.3 321.6 25.9 321.9C25.5 322.2 25.1 321.8 24.4 322.1C23.7 322.3 22.7 321.8 21.7 323.4C20.7 324.9 19.3 328.6 18.4 331.3C17.5 334.0 16.8 336.7 16.3 339.4C15.9 342.2 15.6 345.5 15.7 347.7C15.8 350.0 16.9 351.8 16.8 352.9C16.7 354.0 15.7 353.6 15.2 354.5C14.7 355.5 14.1 357.0 13.7 358.4C13.4 359.8 12.8 361.4 12.9 363.0C13.1 364.5 14.0 366.8 14.5 367.8C15.1 368.9 16.4 369.0 16.0 369.5C15.6 369.9 13.1 369.5 12.1 370.8C11.1 372.0 10.4 374.8 10.0 376.8C9.6 378.7 9.2 380.6 9.5 382.6C9.8 384.6 10.9 387.4 11.8 388.6C12.7 389.9 14.7 389.2 15.0 390.1C15.4 391.0 13.8 392.3 14.1 394.1C14.3 395.9 15.6 399.3 16.5 400.8C17.4 402.3 19.3 402.0 19.6 403.2C19.9 404.4 17.7 406.2 18.3 407.9C18.8 409.7 21.0 412.1 23.0 413.6C25.0 415.1 27.9 416.1 30.5 416.7C33.0 417.3 35.7 416.8 38.6 417.2C41.4 417.5 45.0 419.0 47.7 419.0C50.3 419.0 52.9 418.2 54.6 417.2C56.4 416.1 57.2 414.0 58.0 412.6C58.8 411.3 58.5 410.8 59.5 409.1C60.5 407.3 62.2 404.6 63.9 402.1C65.6 399.6 68.0 396.2 69.6 394.1C71.2 392.0 72.7 391.0 73.5 389.4C74.2 387.9 74.5 386.4 74.3 384.9C74.0 383.3 73.1 381.4 72.2 380.2C71.2 378.9 69.7 378.1 68.4 377.4C67.2 376.7 64.2 376.2 64.5 376.1C64.9 376.0 68.7 376.5 70.5 376.8C72.3 377.0 73.5 377.1 75.4 377.4C77.3 377.7 79.7 377.9 81.9 378.5C84.1 379.2 86.8 380.4 88.4 381.1C90.0 381.9 91.1 382.6 91.6 382.9C92.2 383.2 91.1 383.2 91.6 382.9C92.2 382.6 93.3 381.9 94.9 381.1C96.5 380.4 99.2 379.2 101.4 378.5C103.5 377.9 106.0 377.7 107.9 377.4C109.7 377.1 110.9 377.0 112.7 376.8C114.5 376.5 118.4 376.0 118.7 376.1C119.1 376.2 116.1 376.7 114.8 377.4C113.6 378.1 112.1 378.9 111.1 380.2C110.1 381.4 109.2 383.3 109.0 384.9C108.8 386.4 109.0 387.9 109.8 389.4C110.6 391.0 112.1 392.0 113.7 394.1C115.3 396.2 117.7 399.6 119.4 402.1C121.1 404.6 122.8 407.3 123.8 409.1C124.7 410.8 124.4 411.3 125.2 412.6C126.0 414.0 126.9 416.1 128.6 417.2C130.4 418.2 132.9 419.0 135.6 419.0C138.3 419.0 141.8 417.5 144.7 417.2C147.6 416.8 150.2 417.3 152.8 416.7C155.4 416.1 158.2 415.1 160.3 413.6C162.3 412.1 164.4 409.7 165.0 407.9C165.5 406.2 163.4 404.4 163.7 403.2C164.0 402.0 165.8 402.3 166.8 400.8C167.7 399.3 169.0 395.9 169.2 394.1C169.4 392.3 167.8 391.0 168.2 390.1C168.6 389.2 170.5 389.9 171.5 388.6C172.4 387.4 173.4 384.6 173.7 382.6C174.0 380.6 173.7 378.7 173.3 376.8C172.8 374.8 172.1 372.0 171.1 370.8C170.1 369.5 167.7 369.9 167.2 369.5C166.8 369.0 168.2 368.9 168.7 367.8C169.2 366.8 170.2 364.5 170.3 363.0C170.5 361.4 169.9 359.8 169.5 358.4C169.1 357.0 168.6 355.5 168.1 354.5C167.5 353.6 166.5 354.0 166.4 352.9C166.4 351.8 167.5 350.0 167.6 347.7C167.7 345.5 167.4 342.2 166.9 339.4C166.5 336.7 165.7 334.0 164.8 331.3C163.9 328.6 162.6 324.9 161.6 323.4C160.6 321.8 159.5 322.3 158.8 322.1C158.1 321.8 157.8 322.2 157.3 321.9C156.9 321.6 157.3 321.5 156.4 320.1C155.5 318.7 153.3 315.1 152.0 313.5C150.7 311.8 149.4 310.8 148.6 310.2C147.7 309.6 147.4 310.3 147.0 309.9C146.5 309.5 147.0 309.1 146.0 307.8C145.0 306.5 142.9 303.8 141.0 302.1C139.0 300.5 136.0 298.7 134.1 297.9C132.3 297.1 131.0 297.1 130.1 297.1C129.1 297.1 129.0 298.0 128.5 297.9C127.9 297.8 128.4 297.2 126.8 296.3C125.3 295.4 121.5 293.4 119.2 292.5C116.9 291.7 114.5 291.1 113.2 290.9C111.9 290.7 112.1 291.5 111.6 291.4C111.1 291.3 111.5 290.7 110.3 290.1C109.0 289.5 106.3 288.4 104.1 287.7C102.0 287.0 99.4 286.0 97.3 285.9C95.3 285.8 92.8 286.8 91.8 287.0C90.8 287.2 92.4 287.2 91.5 287.0Z"/></clipPath>
<path d="M91.5 287.0C90.5 286.8 88.0 285.8 85.9 285.9C83.9 286.0 81.3 287.0 79.1 287.7C77.0 288.4 74.2 289.5 73.0 290.1C71.7 290.7 72.2 291.3 71.7 291.4C71.2 291.5 71.3 290.7 70.0 290.9C68.8 291.1 66.3 291.7 64.0 292.5C61.8 293.4 58.0 295.4 56.4 296.3C54.9 297.2 55.3 297.8 54.8 297.9C54.3 298.0 54.1 297.1 53.2 297.1C52.2 297.1 50.9 297.1 49.1 297.9C47.3 298.7 44.3 300.5 42.3 302.1C40.3 303.8 38.3 306.5 37.3 307.8C36.3 309.1 36.7 309.5 36.3 309.9C35.9 310.3 35.5 309.6 34.7 310.2C33.8 310.8 32.6 311.8 31.3 313.5C30.0 315.1 27.8 318.7 26.9 320.1C26.0 321.5 26.3 321.6 25.9 321.9C25.5 322.2 25.1 321.8 24.4 322.1C23.7 322.3 22.7 321.8 21.7 323.4C20.7 324.9 19.3 328.6 18.4 331.3C17.5 334.0 16.8 336.7 16.3 339.4C15.9 342.2 15.6 345.5 15.7 347.7C15.8 350.0 16.9 351.8 16.8 352.9C16.7 354.0 15.7 353.6 15.2 354.5C14.7 355.5 14.1 357.0 13.7 358.4C13.4 359.8 12.8 361.4 12.9 363.0C13.1 364.5 14.0 366.8 14.5 367.8C15.1 368.9 16.4 369.0 16.0 369.5C15.6 369.9 13.1 369.5 12.1 370.8C11.1 372.0 10.4 374.8 10.0 376.8C9.6 378.7 9.2 380.6 9.5 382.6C9.8 384.6 10.9 387.4 11.8 388.6C12.7 389.9 14.7 389.2 15.0 390.1C15.4 391.0 13.8 392.3 14.1 394.1C14.3 395.9 15.6 399.3 16.5 400.8C17.4 402.3 19.3 402.0 19.6 403.2C19.9 404.4 17.7 406.2 18.3 407.9C18.8 409.7 21.0 412.1 23.0 413.6C25.0 415.1 27.9 416.1 30.5 416.7C33.0 417.3 35.7 416.8 38.6 417.2C41.4 417.5 45.0 419.0 47.7 419.0C50.3 419.0 52.9 418.2 54.6 417.2C56.4 416.1 57.2 414.0 58.0 412.6C58.8 411.3 58.5 410.8 59.5 409.1C60.5 407.3 62.2 404.6 63.9 402.1C65.6 399.6 68.0 396.2 69.6 394.1C71.2 392.0 72.7 391.0 73.5 389.4C74.2 387.9 74.5 386.4 74.3 384.9C74.0 383.3 73.1 381.4 72.2 380.2C71.2 378.9 69.7 378.1 68.4 377.4C67.2 376.7 64.2 376.2 64.5 376.1C64.9 376.0 68.7 376.5 70.5 376.8C72.3 377.0 73.5 377.1 75.4 377.4C77.3 377.7 79.7 377.9 81.9 378.5C84.1 379.2 86.8 380.4 88.4 381.1C90.0 381.9 91.1 382.6 91.6 382.9C92.2 383.2 91.1 383.2 91.6 382.9C92.2 382.6 93.3 381.9 94.9 381.1C96.5 380.4 99.2 379.2 101.4 378.5C103.5 377.9 106.0 377.7 107.9 377.4C109.7 377.1 110.9 377.0 112.7 376.8C114.5 376.5 118.4 376.0 118.7 376.1C119.1 376.2 116.1 376.7 114.8 377.4C113.6 378.1 112.1 378.9 111.1 380.2C110.1 381.4 109.2 383.3 109.0 384.9C108.8 386.4 109.0 387.9 109.8 389.4C110.6 391.0 112.1 392.0 113.7 394.1C115.3 396.2 117.7 399.6 119.4 402.1C121.1 404.6 122.8 407.3 123.8 409.1C124.7 410.8 124.4 411.3 125.2 412.6C126.0 414.0 126.9 416.1 128.6 417.2C130.4 418.2 132.9 419.0 135.6 419.0C138.3 419.0 141.8 417.5 144.7 417.2C147.6 416.8 150.2 417.3 152.8 416.7C155.4 416.1 158.2 415.1 160.3 413.6C162.3 412.1 164.4 409.7 165.0 407.9C165.5 406.2 163.4 404.4 163.7 403.2C164.0 402.0 165.8 402.3 166.8 400.8C167.7 399.3 169.0 395.9 169.2 394.1C169.4 392.3 167.8 391.0 168.2 390.1C168.6 389.2 170.5 389.9 171.5 388.6C172.4 387.4 173.4 384.6 173.7 382.6C174.0 380.6 173.7 378.7 173.3 376.8C172.8 374.8 172.1 372.0 171.1 370.8C170.1 369.5 167.7 369.9 167.2 369.5C166.8 369.0 168.2 368.9 168.7 367.8C169.2 366.8 170.2 364.5 170.3 363.0C170.5 361.4 169.9 359.8 169.5 358.4C169.1 357.0 168.6 355.5 168.1 354.5C167.5 353.6 166.5 354.0 166.4 352.9C166.4 351.8 167.5 350.0 167.6 347.7C167.7 345.5 167.4 342.2 166.9 339.4C166.5 336.7 165.7 334.0 164.8 331.3C163.9 328.6 162.6 324.9 161.6 323.4C160.6 321.8 159.5 322.3 158.8 322.1C158.1 321.8 157.8 322.2 157.3 321.9C156.9 321.6 157.3 321.5 156.4 320.1C155.5 318.7 153.3 315.1 152.0 313.5C150.7 311.8 149.4 310.8 148.6 310.2C147.7 309.6 147.4 310.3 147.0 309.9C146.5 309.5 147.0 309.1 146.0 307.8C145.0 306.5 142.9 303.8 141.0 302.1C139.0 300.5 136.0 298.7 134.1 297.9C132.3 297.1 131.0 297.1 130.1 297.1C129.1 297.1 129.0 298.0 128.5 297.9C127.9 297.8 128.4 297.2 126.8 296.3C125.3 295.4 121.5 293.4 119.2 292.5C116.9 291.7 114.5 291.1 113.2 290.9C111.9 290.7 112.1 291.5 111.6 291.4C111.1 291.3 111.5 290.7 110.3 290.1C109.0 289.5 106.3 288.4 104.1 287.7C102.0 287.0 99.4 286.0 97.3 285.9C95.3 285.8 92.8 286.8 91.8 287.0C90.8 287.2 92.4 287.2 91.5 287.0Z" fill="#e9e9e9"/>
<g clip-path="url(#clipB)">
<path d="M91.5 287.0C90.5 286.8 88.0 285.8 85.9 285.9C83.9 286.0 81.3 287.0 79.1 287.7C77.0 288.4 74.2 289.5 73.0 290.1C71.7 290.7 72.2 291.3 71.7 291.4C71.2 291.5 71.3 290.7 70.0 290.9C68.8 291.1 66.3 291.7 64.0 292.5C61.8 293.4 58.0 295.4 56.4 296.3C54.9 297.2 55.3 297.8 54.8 297.9C54.3 298.0 54.1 297.1 53.2 297.1C52.2 297.1 50.9 297.1 49.1 297.9C47.3 298.7 44.3 300.5 42.3 302.1C40.3 303.8 38.3 306.5 37.3 307.8C36.3 309.1 36.7 309.5 36.3 309.9C35.9 310.3 35.5 309.6 34.7 310.2C33.8 310.8 32.6 311.8 31.3 313.5C30.0 315.1 27.8 318.7 26.9 320.1C26.0 321.5 26.3 321.6 25.9 321.9C25.5 322.2 25.1 321.8 24.4 322.1C23.7 322.3 22.7 321.8 21.7 323.4C20.7 324.9 19.3 328.6 18.4 331.3C17.5 334.0 16.8 336.7 16.3 339.4C15.9 342.2 15.6 345.5 15.7 347.7C15.8 350.0 16.9 351.8 16.8 352.9C16.7 354.0 15.7 353.6 15.2 354.5C14.7 355.5 14.1 357.0 13.7 358.4C13.4 359.8 12.8 361.4 12.9 363.0C13.1 364.5 14.0 366.8 14.5 367.8C15.1 368.9 16.4 369.0 16.0 369.5C15.6 369.9 13.1 369.5 12.1 370.8C11.1 372.0 10.4 374.8 10.0 376.8C9.6 378.7 9.2 380.6 9.5 382.6C9.8 384.6 10.9 387.4 11.8 388.6C12.7 389.9 14.7 389.2 15.0 390.1C15.4 391.0 13.8 392.3 14.1 394.1C14.3 395.9 15.6 399.3 16.5 400.8C17.4 402.3 19.3 402.0 19.6 403.2C19.9 404.4 17.7 406.2 18.3 407.9C18.8 409.7 21.0 412.1 23.0 413.6C25.0 415.1 27.9 416.1 30.5 416.7C33.0 417.3 35.7 416.8 38.6 417.2C41.4 417.5 45.0 419.0 47.7 419.0C50.3 419.0 52.9 418.2 54.6 417.2C56.4 416.1 57.2 414.0 58.0 412.6C58.8 411.3 58.5 410.8 59.5 409.1C60.5 407.3 62.2 404.6 63.9 402.1C65.6 399.6 68.0 396.2 69.6 394.1C71.2 392.0 72.7 391.0 73.5 389.4C74.2 387.9 74.5 386.4 74.3 384.9C74.0 383.3 73.1 381.4 72.2 380.2C71.2 378.9 69.7 378.1 68.4 377.4C67.2 376.7 64.2 376.2 64.5 376.1C64.9 376.0 68.7 376.5 70.5 376.8C72.3 377.0 73.5 377.1 75.4 377.4C77.3 377.7 79.7 377.9 81.9 378.5C84.1 379.2 86.8 380.4 88.4 381.1C90.0 381.9 91.1 382.6 91.6 382.9C92.2 383.2 91.1 383.2 91.6 382.9C92.2 382.6 93.3 381.9 94.9 381.1C96.5 380.4 99.2 379.2 101.4 378.5C103.5 377.9 106.0 377.7 107.9 377.4C109.7 377.1 110.9 377.0 112.7 376.8C114.5 376.5 118.4 376.0 118.7 376.1C119.1 376.2 116.1 376.7 114.8 377.4C113.6 378.1 112.1 378.9 111.1 380.2C110.1 381.4 109.2 383.3 109.0 384.9C108.8 386.4 109.0 387.9 109.8 389.4C110.6 391.0 112.1 392.0 113.7 394.1C115.3 396.2 117.7 399.6 119.4 402.1C121.1 404.6 122.8 407.3 123.8 409.1C124.7 410.8 124.4 411.3 125.2 412.6C126.0 414.0 126.9 416.1 128.6 417.2C130.4 418.2 132.9 419.0 135.6 419.0C138.3 419.0 141.8 417.5 144.7 417.2C147.6 416.8 150.2 417.3 152.8 416.7C155.4 416.1 158.2 415.1 160.3 413.6C162.3 412.1 164.4 409.7 165.0 407.9C165.5 406.2 163.4 404.4 163.7 403.2C164.0 402.0 165.8 402.3 166.8 400.8C167.7 399.3 169.0 395.9 169.2 394.1C169.4 392.3 167.8 391.0 168.2 390.1C168.6 389.2 170.5 389.9 171.5 388.6C172.4 387.4 173.4 384.6 173.7 382.6C174.0 380.6 173.7 378.7 173.3 376.8C172.8 374.8 172.1 372.0 171.1 370.8C170.1 369.5 167.7 369.9 167.2 369.5C166.8 369.0 168.2 368.9 168.7 367.8C169.2 366.8 170.2 364.5 170.3 363.0C170.5 361.4 169.9 359.8 169.5 358.4C169.1 357.0 168.6 355.5 168.1 354.5C167.5 353.6 166.5 354.0 166.4 352.9C166.4 351.8 167.5 350.0 167.6 347.7C167.7 345.5 167.4 342.2 166.9 339.4C166.5 336.7 165.7 334.0 164.8 331.3C163.9 328.6 162.6 324.9 161.6 323.4C160.6 321.8 159.5 322.3 158.8 322.1C158.1 321.8 157.8 322.2 157.3 321.9C156.9 321.6 157.3 321.5 156.4 320.1C155.5 318.7 153.3 315.1 152.0 313.5C150.7 311.8 149.4 310.8 148.6 310.2C147.7 309.6 147.4 310.3 147.0 309.9C146.5 309.5 147.0 309.1 146.0 307.8C145.0 306.5 142.9 303.8 141.0 302.1C139.0 300.5 136.0 298.7 134.1 297.9C132.3 297.1 131.0 297.1 130.1 297.1C129.1 297.1 129.0 298.0 128.5 297.9C127.9 297.8 128.4 297.2 126.8 296.3C125.3 295.4 121.5 293.4 119.2 292.5C116.9 291.7 114.5 291.1 113.2 290.9C111.9 290.7 112.1 291.5 111.6 291.4C111.1 291.3 111.5 290.7 110.3 290.1C109.0 289.5 106.3 288.4 104.1 287.7C102.0 287.0 99.4 286.0 97.3 285.9C95.3 285.8 92.8 286.8 91.8 287.0C90.8 287.2 92.4 287.2 91.5 287.0Z" fill="none" stroke="#d3d3d3" stroke-width="11.68" stroke-linejoin="round"/>
<path d="M68.6 376.8C69.7 376.9 73.2 377.4 75.4 377.7C77.6 378.1 79.7 378.3 81.9 378.9C84.1 379.5 86.8 380.7 88.4 381.5C90.0 382.2 91.1 383.0 91.6 383.3C92.2 383.6 91.1 383.6 91.6 383.3C92.2 383.0 93.3 382.2 94.9 381.5C96.5 380.7 99.2 379.5 101.4 378.9C103.5 378.3 105.6 378.1 107.9 377.7C110.1 377.4 113.5 376.9 114.7 376.8" fill="none" stroke="#e9e9e9" stroke-width="12.33" stroke-linecap="round" stroke-linejoin="round" />
<path d="M71.7 291.1C71.6 292.5 70.9 297.4 71.0 299.8C71.1 302.3 72.1 304.7 72.3 305.7" fill="none" stroke="#d3d3d3" stroke-width="7.01" stroke-linecap="round" stroke-linejoin="round" />
<path d="M55.1 297.9C55.3 298.9 56.0 302.6 56.4 304.1C56.9 305.6 57.6 306.5 57.9 307.0" fill="none" stroke="#d3d3d3" stroke-width="6.62" stroke-linecap="round" stroke-linejoin="round" />
<path d="M36.8 309.7C37.5 311.1 39.3 315.5 41.2 317.7C43.0 319.9 45.6 322.2 47.7 323.1C49.7 323.9 52.5 323.1 53.5 323.1" fill="none" stroke="#d3d3d3" stroke-width="7.01" stroke-linecap="round" stroke-linejoin="round" />
<path d="M26.1 321.8C26.9 322.4 29.9 325.0 31.1 325.8C32.3 326.6 33.1 326.5 33.5 326.6" fill="none" stroke="#d3d3d3" stroke-width="6.23" stroke-linecap="round" stroke-linejoin="round" />
<path d="M15.5 354.4C17.4 354.5 23.2 354.6 27.0 354.9C30.9 355.1 36.1 356.4 38.6 355.7C41.1 354.9 40.5 352.2 42.0 350.3C43.5 348.5 46.1 346.0 47.7 344.6C49.2 343.3 50.5 342.7 51.1 342.4" fill="none" stroke="#d3d3d3" stroke-width="6.62" stroke-linecap="round" stroke-linejoin="round" />
<path d="M38.6 356.2C39.3 357.5 41.8 361.6 43.1 364.1C44.4 366.6 45.7 369.1 46.5 371.1C47.4 373.1 47.9 375.1 48.1 376.0" fill="none" stroke="#d3d3d3" stroke-width="7.01" stroke-linecap="round" stroke-linejoin="round" />
<path d="M90.8 298.5C89.8 298.5 86.3 298.3 84.6 298.5C83.0 298.8 81.4 299.6 80.8 299.8" fill="none" stroke="#d3d3d3" stroke-width="6.23" stroke-linecap="round" stroke-linejoin="round" />
<path d="M90.8 313.0C89.5 313.4 85.5 314.3 83.2 315.3C80.9 316.2 78.2 318.1 77.2 318.7" fill="none" stroke="#d3d3d3" stroke-width="7.01" stroke-linecap="round" stroke-linejoin="round" />
<path d="M90.8 327.4C89.8 327.5 86.3 327.8 84.6 328.1C83.0 328.3 81.4 328.8 80.8 328.9" fill="none" stroke="#d3d3d3" stroke-width="6.62" stroke-linecap="round" stroke-linejoin="round" />
<path d="M17.6 331.8C18.8 331.9 22.8 332.6 24.4 332.6C26.1 332.7 27.0 332.2 27.5 332.1" fill="none" stroke="#d3d3d3" stroke-width="5.84" stroke-linecap="round" stroke-linejoin="round" />
<path d="M16.0 369.5C16.9 369.3 19.5 368.8 21.2 368.3C22.9 367.8 25.3 366.7 26.1 366.4" fill="none" stroke="#d3d3d3" stroke-width="5.84" stroke-linecap="round" stroke-linejoin="round" />
<path d="M16.5 370.8C17.3 371.8 19.4 375.0 21.2 376.8C23.0 378.5 25.4 380.1 27.0 381.5C28.7 382.8 30.4 384.3 31.1 384.9" fill="none" stroke="#d3d3d3" stroke-width="6.62" stroke-linecap="round" stroke-linejoin="round" />
<path d="M14.9 389.9C15.7 389.4 18.8 387.4 20.1 387.0C21.3 386.6 22.0 387.3 22.3 387.3" fill="none" stroke="#d3d3d3" stroke-width="5.84" stroke-linecap="round" stroke-linejoin="round" />
<path d="M19.6 403.2C20.4 402.6 23.3 400.6 24.8 399.8C26.3 399.0 27.8 398.5 28.7 398.7C29.5 398.9 29.6 400.6 29.8 400.9" fill="none" stroke="#d3d3d3" stroke-width="5.84" stroke-linecap="round" stroke-linejoin="round" />
<path d="M58.4 411.2C57.7 410.6 56.0 409.2 54.6 407.9C53.2 406.6 51.6 404.8 50.1 403.2C48.5 401.7 46.4 399.7 45.4 398.7C44.4 397.6 44.4 397.3 44.2 397.0" fill="none" stroke="#d3d3d3" stroke-width="7.01" stroke-linecap="round" stroke-linejoin="round" />
<path d="M15.5 354.4C17.4 354.5 23.2 354.6 27.0 354.9C30.9 355.1 36.1 356.4 38.6 355.7C41.1 354.9 40.6 352.0 42.0 350.3C43.3 348.6 45.8 346.4 46.5 345.6" fill="none" stroke="#bcbcbc" stroke-width="0.81" stroke-linecap="round" stroke-linejoin="round" />
<path d="M41.6 361.3C42.0 361.9 43.0 363.2 43.8 364.8C44.5 366.3 45.4 368.7 46.0 370.4C46.7 372.2 47.4 374.4 47.7 375.1" fill="none" stroke="#bcbcbc" stroke-width="1.62" stroke-linecap="round" stroke-linejoin="round" />
<ellipse cx="60.3" cy="385.4" rx="3.9" ry="2.4" transform="rotate(35 60.3 385.4)" fill="#d3d3d3"/>
<path d="M65.0 376.6C65.9 376.8 68.7 376.9 70.2 378.1C71.7 379.3 73.2 382.0 73.8 383.7C74.3 385.5 73.5 387.7 73.5 388.4" fill="none" stroke="#b9b9b9" stroke-width="2.43" stroke-linecap="round" stroke-linejoin="round" />
<path d="M111.6 291.1C111.7 292.5 112.3 297.4 112.2 299.8C112.1 302.3 111.2 304.7 110.9 305.7" fill="none" stroke="#d3d3d3" stroke-width="7.01" stroke-linecap="round" stroke-linejoin="round" />
<path d="M128.1 297.9C127.9 298.9 127.3 302.6 126.8 304.1C126.4 305.6 125.6 306.5 125.4 307.0" fill="none" stroke="#d3d3d3" stroke-width="6.62" stroke-linecap="round" stroke-linejoin="round" />
<path d="M146.5 309.7C145.7 311.1 143.9 315.5 142.1 317.7C140.3 319.9 137.7 322.2 135.6 323.1C133.5 323.9 130.7 323.1 129.8 323.1" fill="none" stroke="#d3d3d3" stroke-width="7.01" stroke-linecap="round" stroke-linejoin="round" />
<path d="M157.2 321.8C156.3 322.4 153.4 325.0 152.2 325.8C150.9 326.6 150.1 326.5 149.7 326.6" fill="none" stroke="#d3d3d3" stroke-width="6.23" stroke-linecap="round" stroke-linejoin="round" />
<path d="M92.4 298.5C93.5 298.5 96.9 298.3 98.6 298.5C100.3 298.8 101.9 299.6 102.5 299.8" fill="none" stroke="#d3d3d3" stroke-width="6.23" stroke-linecap="round" stroke-linejoin="round" />
<path d="M92.4 313.0C93.7 313.4 97.8 314.3 100.1 315.3C102.3 316.2 105.1 318.1 106.1 318.7" fill="none" stroke="#d3d3d3" stroke-width="7.01" stroke-linecap="round" stroke-linejoin="round" />
<path d="M92.4 327.4C93.5 327.5 96.9 327.8 98.6 328.1C100.3 328.3 101.9 328.8 102.5 328.9" fill="none" stroke="#d3d3d3" stroke-width="6.62" stroke-linecap="round" stroke-linejoin="round" />
<path d="M165.6 331.8C164.5 331.9 160.5 332.6 158.8 332.6C157.2 332.7 156.2 332.2 155.7 332.1" fill="none" stroke="#d3d3d3" stroke-width="5.84" stroke-linecap="round" stroke-linejoin="round" />
<path d="M167.2 369.5C166.4 369.3 163.7 368.8 162.1 368.3C160.4 367.8 158.0 366.7 157.2 366.4" fill="none" stroke="#d3d3d3" stroke-width="5.84" stroke-linecap="round" stroke-linejoin="round" />
<path d="M166.8 370.8C166.0 371.8 163.8 375.0 162.1 376.8C160.3 378.5 157.9 380.1 156.2 381.5C154.6 382.8 152.8 384.3 152.2 384.9" fill="none" stroke="#d3d3d3" stroke-width="6.62" stroke-linecap="round" stroke-linejoin="round" />
<path d="M168.4 389.9C167.5 389.4 164.4 387.4 163.2 387.0C161.9 386.6 161.3 387.3 160.9 387.3" fill="none" stroke="#d3d3d3" stroke-width="5.84" stroke-linecap="round" stroke-linejoin="round" />
<path d="M163.7 403.2C162.8 402.6 160.0 400.6 158.5 399.8C157.0 399.0 155.4 398.5 154.6 398.7C153.8 398.9 153.6 400.6 153.5 400.9" fill="none" stroke="#d3d3d3" stroke-width="5.84" stroke-linecap="round" stroke-linejoin="round" />
<path d="M124.9 411.2C125.5 410.6 127.2 409.2 128.6 407.9C130.0 406.6 131.6 404.8 133.2 403.2C134.7 401.7 136.9 399.7 137.9 398.7C138.8 397.6 138.8 397.3 139.0 397.0" fill="none" stroke="#d3d3d3" stroke-width="7.01" stroke-linecap="round" stroke-linejoin="round" />
<path d="M172.8 361.0C170.5 361.3 163.6 362.3 159.1 363.0C154.7 363.6 148.3 364.5 146.2 364.8" fill="none" stroke="#d3d3d3" stroke-width="7.01" stroke-linecap="round" stroke-linejoin="round" />
<path d="M146.2 364.8C145.7 363.2 144.0 358.5 143.2 355.7C142.4 352.8 141.8 350.3 141.3 347.6C140.7 344.8 140.2 340.5 140.0 339.1" fill="none" stroke="#d3d3d3" stroke-width="6.62" stroke-linecap="round" stroke-linejoin="round" />
<path d="M146.2 364.8C145.5 365.7 143.2 368.5 142.3 370.3C141.3 372.1 140.9 374.6 140.6 375.5" fill="none" stroke="#d3d3d3" stroke-width="6.62" stroke-linecap="round" stroke-linejoin="round" />
<path d="M172.8 361.0C170.5 361.3 163.5 362.3 159.1 363.0C154.8 363.6 149.2 363.5 146.8 364.8C144.4 366.0 144.9 369.4 144.5 370.3" fill="none" stroke="#bcbcbc" stroke-width="1.30" stroke-linecap="round" stroke-linejoin="round" />
<path d="M146.8 364.8L144.5 360.5" fill="none" stroke="#bcbcbc" stroke-width="1.14" stroke-linecap="round" stroke-linejoin="round" />
<ellipse cx="122.9" cy="385.4" rx="3.9" ry="2.4" transform="rotate(-35 122.9 385.4)" fill="#d3d3d3"/>
<path d="M118.2 376.6C117.4 376.8 114.5 376.9 113.0 378.1C111.6 379.3 110.0 382.0 109.5 383.7C108.9 385.5 109.7 387.7 109.8 388.4" fill="none" stroke="#b9b9b9" stroke-width="2.43" stroke-linecap="round" stroke-linejoin="round" />
<path d="M91.6 285.9L91.6 331.0" fill="none" stroke="#d3d3d3" stroke-width="8.11" stroke-linecap="round" stroke-linejoin="round" />
<path d="M91.6 285.9L91.3 331.0" fill="none" stroke="#b9b9b9" stroke-width="2.43" stroke-linecap="round" stroke-linejoin="round" />
<g transform="translate(1.05 0)">
<path d="M61.1 348.4C62.5 346.7 65.3 346.9 66.6 347.6C68.0 348.2 69.3 349.7 69.2 352.4C69.2 355.1 67.3 360.9 66.3 363.8C65.3 366.6 64.4 369.1 63.4 369.6C62.3 370.2 60.8 369.1 60.0 367.0C59.1 365.0 58.0 360.4 58.2 357.3C58.4 354.2 59.7 350.0 61.1 348.4Z" fill="#d7d7d7" />
<path d="M69.2 357.3C70.2 355.9 72.9 355.1 74.1 355.7C75.3 356.2 76.5 358.4 76.5 360.5C76.5 362.7 75.2 367.0 74.1 368.7C73.0 370.3 70.9 371.1 69.9 370.3C68.9 369.5 68.2 365.9 68.1 363.8C68.0 361.6 68.2 358.6 69.2 357.3Z" fill="#d7d7d7" />
<path d="M76.4 363.0C76.9 361.9 79.8 363.6 80.4 364.8C81.1 365.9 81.0 368.5 80.4 369.6C79.9 370.7 77.7 372.4 77.0 371.2C76.3 370.1 75.8 364.1 76.4 363.0Z" fill="#d7d7d7" />
<path d="M55.6 367.8C55.7 365.8 55.4 359.3 56.3 355.7C57.1 352.0 59.2 348.2 60.8 345.9C62.4 343.6 64.9 342.6 65.7 341.9" fill="none" stroke="#dcdcdc" stroke-width="0.81" stroke-linecap="round" stroke-linejoin="round" />
<path d="M68.3 334.9C69.0 336.3 71.0 340.6 72.6 343.5C74.2 346.4 77.0 350.7 77.8 352.1" fill="none" stroke="#d6d6d6" stroke-width="2.60" stroke-linecap="round" stroke-linejoin="round" />
<path d="M73.3 334.1C73.6 333.7 77.3 336.9 79.3 338.0C81.3 339.1 83.6 339.8 85.3 340.6C87.0 341.3 88.8 341.4 89.7 342.4C90.5 343.3 90.4 344.5 90.5 346.1C90.5 347.7 90.3 350.2 90.0 352.1C89.7 354.0 89.2 356.0 88.7 357.3C88.2 358.5 87.7 359.4 87.1 359.6C86.4 359.7 85.5 359.3 84.8 358.3C84.1 357.2 83.4 354.9 82.7 353.1C82.0 351.2 81.5 349.2 80.6 347.1C79.7 344.9 78.7 342.3 77.5 340.1C76.3 337.9 73.0 334.4 73.3 334.1Z" fill="#fff" stroke="#d2d2d2" stroke-width="0.49"/>
<path d="M70.4 331.7C71.0 332.8 73.1 335.9 74.4 338.3C75.7 340.7 77.2 343.6 78.2 346.1C79.2 348.6 79.5 351.0 80.4 353.2C81.4 355.4 82.8 358.0 83.8 359.2C84.9 360.5 86.4 360.5 86.9 360.7" fill="none" stroke="#b4b4b4" stroke-width="2.76" stroke-linecap="round" stroke-linejoin="round" />
<path d="M122.1 348.4C120.7 346.7 118.0 346.9 116.6 347.6C115.3 348.2 114.0 349.7 114.0 352.4C114.1 355.1 116.0 360.9 116.9 363.8C117.9 366.6 118.8 369.1 119.9 369.6C120.9 370.2 122.4 369.1 123.3 367.0C124.1 365.0 125.2 360.4 125.1 357.3C124.9 354.2 123.5 350.0 122.1 348.4Z" fill="#d7d7d7" />
<path d="M114.0 357.3C113.0 355.9 110.4 355.1 109.2 355.7C107.9 356.2 106.7 358.4 106.7 360.5C106.7 362.7 108.0 367.0 109.2 368.7C110.3 370.3 112.4 371.1 113.4 370.3C114.4 369.5 115.0 365.9 115.2 363.8C115.3 361.6 115.0 358.6 114.0 357.3Z" fill="#d7d7d7" />
<path d="M106.9 363.0C106.3 361.9 103.5 363.6 102.8 364.8C102.1 365.9 102.3 368.5 102.8 369.6C103.4 370.7 105.6 372.4 106.2 371.2C106.9 370.1 107.4 364.1 106.9 363.0Z" fill="#d7d7d7" />
<path d="M127.7 367.8C127.5 365.8 127.9 359.3 127.0 355.7C126.1 352.0 124.0 348.2 122.5 345.9C120.9 343.6 118.4 342.6 117.6 341.9" fill="none" stroke="#dcdcdc" stroke-width="0.81" stroke-linecap="round" stroke-linejoin="round" />
<path d="M115.0 334.9C114.3 336.3 112.2 340.6 110.6 343.5C109.0 346.4 106.3 350.7 105.4 352.1" fill="none" stroke="#d6d6d6" stroke-width="2.60" stroke-linecap="round" stroke-linejoin="round" />
<path d="M110.0 334.1C109.7 333.7 106.0 336.9 104.0 338.0C102.0 339.1 99.7 339.8 98.0 340.6C96.2 341.3 94.4 341.4 93.6 342.4C92.7 343.3 92.8 344.5 92.8 346.1C92.7 347.7 93.0 350.2 93.3 352.1C93.5 354.0 94.1 356.0 94.5 357.3C95.0 358.5 95.5 359.4 96.2 359.6C96.8 359.7 97.7 359.3 98.4 358.3C99.2 357.2 99.8 354.9 100.6 353.1C101.3 351.2 101.8 349.2 102.7 347.1C103.5 344.9 104.5 342.3 105.7 340.1C107.0 337.9 110.3 334.4 110.0 334.1Z" fill="#fff" stroke="#d2d2d2" stroke-width="0.49"/>
<path d="M112.9 331.7C112.2 332.8 110.1 335.9 108.8 338.3C107.5 340.7 106.1 343.6 105.1 346.1C104.1 348.6 103.8 351.0 102.8 353.2C101.9 355.4 100.5 358.0 99.4 359.2C98.3 360.5 96.8 360.5 96.3 360.7" fill="none" stroke="#b4b4b4" stroke-width="2.76" stroke-linecap="round" stroke-linejoin="round" />
<path d="M73.8 331.7C75.4 332.3 80.5 334.0 83.5 335.4C86.5 336.7 88.9 339.8 91.6 339.8C94.3 339.8 96.8 336.7 99.7 335.4C102.7 334.0 107.9 332.3 109.5 331.7" fill="none" stroke="#d9d9d9" stroke-width="0.81" stroke-linecap="round" stroke-linejoin="round" />
<path d="M91.6 342.7L91.6 355.7" fill="none" stroke="#dedede" stroke-width="1.14" stroke-linecap="round" stroke-linejoin="round" />
<ellipse cx="91.6" cy="372.4" rx="7.8" ry="6.8" fill="#dbdbdb"/>
<ellipse cx="91.6" cy="372.4" rx="2.4" ry="5.2" fill="#bbbbbb"/>
<path d="M91.6 361.3L88.9 365.7L94.4 365.7Z" fill="#bdbdbd"/>
</g>
</g>
<path d="M91.5 287.0C90.5 286.8 88.0 285.8 85.9 285.9C83.9 286.0 81.3 287.0 79.1 287.7C77.0 288.4 74.2 289.5 73.0 290.1C71.7 290.7 72.2 291.3 71.7 291.4C71.2 291.5 71.3 290.7 70.0 290.9C68.8 291.1 66.3 291.7 64.0 292.5C61.8 293.4 58.0 295.4 56.4 296.3C54.9 297.2 55.3 297.8 54.8 297.9C54.3 298.0 54.1 297.1 53.2 297.1C52.2 297.1 50.9 297.1 49.1 297.9C47.3 298.7 44.3 300.5 42.3 302.1C40.3 303.8 38.3 306.5 37.3 307.8C36.3 309.1 36.7 309.5 36.3 309.9C35.9 310.3 35.5 309.6 34.7 310.2C33.8 310.8 32.6 311.8 31.3 313.5C30.0 315.1 27.8 318.7 26.9 320.1C26.0 321.5 26.3 321.6 25.9 321.9C25.5 322.2 25.1 321.8 24.4 322.1C23.7 322.3 22.7 321.8 21.7 323.4C20.7 324.9 19.3 328.6 18.4 331.3C17.5 334.0 16.8 336.7 16.3 339.4C15.9 342.2 15.6 345.5 15.7 347.7C15.8 350.0 16.9 351.8 16.8 352.9C16.7 354.0 15.7 353.6 15.2 354.5C14.7 355.5 14.1 357.0 13.7 358.4C13.4 359.8 12.8 361.4 12.9 363.0C13.1 364.5 14.0 366.8 14.5 367.8C15.1 368.9 16.4 369.0 16.0 369.5C15.6 369.9 13.1 369.5 12.1 370.8C11.1 372.0 10.4 374.8 10.0 376.8C9.6 378.7 9.2 380.6 9.5 382.6C9.8 384.6 10.9 387.4 11.8 388.6C12.7 389.9 14.7 389.2 15.0 390.1C15.4 391.0 13.8 392.3 14.1 394.1C14.3 395.9 15.6 399.3 16.5 400.8C17.4 402.3 19.3 402.0 19.6 403.2C19.9 404.4 17.7 406.2 18.3 407.9C18.8 409.7 21.0 412.1 23.0 413.6C25.0 415.1 27.9 416.1 30.5 416.7C33.0 417.3 35.7 416.8 38.6 417.2C41.4 417.5 45.0 419.0 47.7 419.0C50.3 419.0 52.9 418.2 54.6 417.2C56.4 416.1 57.2 414.0 58.0 412.6C58.8 411.3 58.5 410.8 59.5 409.1C60.5 407.3 62.2 404.6 63.9 402.1C65.6 399.6 68.0 396.2 69.6 394.1C71.2 392.0 72.7 391.0 73.5 389.4C74.2 387.9 74.5 386.4 74.3 384.9C74.0 383.3 73.1 381.4 72.2 380.2C71.2 378.9 69.7 378.1 68.4 377.4C67.2 376.7 64.2 376.2 64.5 376.1C64.9 376.0 68.7 376.5 70.5 376.8C72.3 377.0 73.5 377.1 75.4 377.4C77.3 377.7 79.7 377.9 81.9 378.5C84.1 379.2 86.8 380.4 88.4 381.1C90.0 381.9 91.1 382.6 91.6 382.9C92.2 383.2 91.1 383.2 91.6 382.9C92.2 382.6 93.3 381.9 94.9 381.1C96.5 380.4 99.2 379.2 101.4 378.5C103.5 377.9 106.0 377.7 107.9 377.4C109.7 377.1 110.9 377.0 112.7 376.8C114.5 376.5 118.4 376.0 118.7 376.1C119.1 376.2 116.1 376.7 114.8 377.4C113.6 378.1 112.1 378.9 111.1 380.2C110.1 381.4 109.2 383.3 109.0 384.9C108.8 386.4 109.0 387.9 109.8 389.4C110.6 391.0 112.1 392.0 113.7 394.1C115.3 396.2 117.7 399.6 119.4 402.1C121.1 404.6 122.8 407.3 123.8 409.1C124.7 410.8 124.4 411.3 125.2 412.6C126.0 414.0 126.9 416.1 128.6 417.2C130.4 418.2 132.9 419.0 135.6 419.0C138.3 419.0 141.8 417.5 144.7 417.2C147.6 416.8 150.2 417.3 152.8 416.7C155.4 416.1 158.2 415.1 160.3 413.6C162.3 412.1 164.4 409.7 165.0 407.9C165.5 406.2 163.4 404.4 163.7 403.2C164.0 402.0 165.8 402.3 166.8 400.8C167.7 399.3 169.0 395.9 169.2 394.1C169.4 392.3 167.8 391.0 168.2 390.1C168.6 389.2 170.5 389.9 171.5 388.6C172.4 387.4 173.4 384.6 173.7 382.6C174.0 380.6 173.7 378.7 173.3 376.8C172.8 374.8 172.1 372.0 171.1 370.8C170.1 369.5 167.7 369.9 167.2 369.5C166.8 369.0 168.2 368.9 168.7 367.8C169.2 366.8 170.2 364.5 170.3 363.0C170.5 361.4 169.9 359.8 169.5 358.4C169.1 357.0 168.6 355.5 168.1 354.5C167.5 353.6 166.5 354.0 166.4 352.9C166.4 351.8 167.5 350.0 167.6 347.7C167.7 345.5 167.4 342.2 166.9 339.4C166.5 336.7 165.7 334.0 164.8 331.3C163.9 328.6 162.6 324.9 161.6 323.4C160.6 321.8 159.5 322.3 158.8 322.1C158.1 321.8 157.8 322.2 157.3 321.9C156.9 321.6 157.3 321.5 156.4 320.1C155.5 318.7 153.3 315.1 152.0 313.5C150.7 311.8 149.4 310.8 148.6 310.2C147.7 309.6 147.4 310.3 147.0 309.9C146.5 309.5 147.0 309.1 146.0 307.8C145.0 306.5 142.9 303.8 141.0 302.1C139.0 300.5 136.0 298.7 134.1 297.9C132.3 297.1 131.0 297.1 130.1 297.1C129.1 297.1 129.0 298.0 128.5 297.9C127.9 297.8 128.4 297.2 126.8 296.3C125.3 295.4 121.5 293.4 119.2 292.5C116.9 291.7 114.5 291.1 113.2 290.9C111.9 290.7 112.1 291.5 111.6 291.4C111.1 291.3 111.5 290.7 110.3 290.1C109.0 289.5 106.3 288.4 104.1 287.7C102.0 287.0 99.4 286.0 97.3 285.9C95.3 285.8 92.8 286.8 91.8 287.0C90.8 287.2 92.4 287.2 91.5 287.0Z" fill="none" stroke="#c6c6c6" stroke-width=".7"/>
<path d="M148.4 357.4C148.2 358.8 147.6 363.7 147.3 365.7C146.9 367.6 146.4 368.4 146.3 369.0" fill="none" stroke="#bdbdbd" stroke-width="3.20" stroke-linecap="round" stroke-linejoin="round" />
<path d="M141.8 337.0C142.9 337.0 144.8 337.0 145.6 338.0C146.5 339.0 146.4 341.3 146.9 342.9C147.4 344.5 147.8 346.0 148.6 347.5C149.4 349.1 151.4 351.0 151.7 352.5C152.0 354.0 151.0 355.5 150.2 356.6C149.4 357.7 147.6 358.3 146.9 359.2C146.3 360.2 145.6 361.3 146.1 362.4C146.7 363.4 149.1 364.4 150.2 365.7C151.4 366.9 152.6 368.4 152.9 370.0C153.1 371.5 152.7 373.6 151.7 374.9C150.7 376.2 148.6 377.2 146.9 377.7C145.3 378.2 143.2 378.7 142.0 378.0C140.8 377.4 139.8 375.4 139.5 373.9C139.2 372.4 139.8 370.5 140.2 369.1C140.6 367.8 142.4 366.7 142.0 365.7C141.6 364.7 138.9 364.1 137.9 363.2C136.9 362.3 135.9 361.0 135.9 360.1C135.9 359.1 136.7 358.0 137.7 357.4C138.7 356.9 140.9 357.2 141.8 356.6C142.8 356.1 143.7 355.1 143.5 354.1C143.2 353.2 141.2 352.2 140.4 350.8C139.6 349.5 139.1 347.5 138.7 345.9C138.3 344.3 138.0 342.3 138.0 341.0C138.1 339.6 138.6 338.6 139.2 338.0C139.8 337.3 140.8 337.0 141.8 337.0Z" fill="#8fa98d" stroke="#7b967a" stroke-width=".7"/>
<path d="M149.6 357.4C149.3 358.4 148.4 361.6 147.9 363.2C147.4 364.8 146.8 366.4 146.6 367.0" fill="none" stroke="#c2c4c2" stroke-width="2.60" stroke-linecap="round" stroke-linejoin="round" />
<radialGradient id="glowB"><stop offset="0" stop-color="#f5363e" stop-opacity=".95"/><stop offset=".16" stop-color="#f6444b" stop-opacity=".9"/><stop offset=".38" stop-color="#f7666b" stop-opacity=".62"/><stop offset=".6" stop-color="#f98e92" stop-opacity=".28"/><stop offset=".8" stop-color="#fbb0b3" stop-opacity=".07"/><stop offset="1" stop-color="#fcc" stop-opacity="0"/></radialGradient>
<circle cx="128.7" cy="348.9" r="13.0" fill="url(#glowB)"/>
<path d="M55.7 434.5V449.1" stroke="#222" stroke-width=".9"/>
<rect x="48.6" y="436.7" width="14.2" height="10.2" rx=".8" fill="#b7c9b6" stroke="#222" stroke-width=".9"/>
<path d="M48.6 441.8H62.8" stroke="#222" stroke-width="1.3"/>
<path d="M115.4 434.5V449.1" stroke="#222" stroke-width=".9"/>
<rect x="108.3" y="436.7" width="14.2" height="10.2" rx=".8" fill="#6f9270" stroke="#222" stroke-width=".9"/>
<path d="M108.3 441.8H122.5" stroke="#222" stroke-width="1.3"/>
<text x="65.4" y="446.5" font-size="12.2" fill="#111" textLength="34.4" lengthAdjust="spacingAndGlyphs">PTSD-</text>
<text x="125.2" y="446.5" font-size="12.2" fill="#111" textLength="35.6" lengthAdjust="spacingAndGlyphs">PTSD+</text>
</g>
<g id="brainC">
<path d="M94.1 618.7C94.9 617.4 99.1 615.0 101.5 616.4C103.8 617.7 105.3 623.2 108.1 626.9C110.8 630.6 115.0 635.3 117.9 638.8C120.9 642.3 124.2 645.5 125.9 648.0C127.6 650.5 128.4 652.6 128.2 653.8C127.9 655.0 125.9 655.1 124.5 655.2C123.2 655.4 121.8 656.6 119.9 654.9C118.0 653.2 115.8 648.6 113.0 645.0C110.2 641.5 105.9 637.0 103.1 633.5C100.3 630.0 97.7 626.4 96.2 623.9C94.7 621.5 93.2 619.9 94.1 618.7Z" fill="#dcdcdc" stroke="#b4b4b4" stroke-width=".7"/>
<path d="M99.8 620.3C101.5 622.5 106.3 629.1 109.7 633.5C113.1 637.9 118.0 643.2 120.4 646.7C122.8 650.1 123.6 652.9 124.2 654.1" fill="none" stroke="#bdbdbd" stroke-width="0.70" stroke-linecap="round" stroke-linejoin="round" />
<path d="M97.4 622.3C98.9 624.4 103.3 630.9 106.4 635.1C109.6 639.4 114.7 645.9 116.3 648.0" fill="none" stroke="#c8c8c8" stroke-width="0.60" stroke-linecap="round" stroke-linejoin="round" />
<clipPath id="clipCb"><path d="M100.2 607.5C101.5 605.4 105.4 605.4 109.7 604.8C114.0 604.2 120.7 604.1 126.2 603.8C131.7 603.6 138.0 603.1 142.7 603.4C147.3 603.6 151.7 603.7 154.2 605.2C156.7 606.6 157.5 609.6 157.8 612.1C158.1 614.6 157.5 617.5 156.2 620.3C154.8 623.1 152.6 626.4 149.6 628.9C146.6 631.4 141.9 634.0 138.0 635.5C134.1 637.0 130.0 638.1 126.2 637.8C122.3 637.5 118.2 635.9 115.0 633.8C111.7 631.8 109.0 628.3 106.7 625.6C104.5 622.8 102.6 620.4 101.5 617.4C100.4 614.3 98.8 609.6 100.2 607.5Z"/></clipPath>
<path d="M100.2 607.5C101.5 605.4 105.4 605.4 109.7 604.8C114.0 604.2 120.7 604.1 126.2 603.8C131.7 603.6 138.0 603.1 142.7 603.4C147.3 603.6 151.7 603.7 154.2 605.2C156.7 606.6 157.5 609.6 157.8 612.1C158.1 614.6 157.5 617.5 156.2 620.3C154.8 623.1 152.6 626.4 149.6 628.9C146.6 631.4 141.9 634.0 138.0 635.5C134.1 637.0 130.0 638.1 126.2 637.8C122.3 637.5 118.2 635.9 115.0 633.8C111.7 631.8 109.0 628.3 106.7 625.6C104.5 622.8 102.6 620.4 101.5 617.4C100.4 614.3 98.8 609.6 100.2 607.5Z" fill="#cbcbcb" stroke="#a9a9a9" stroke-width=".7"/>
<g clip-path="url(#clipCb)" fill="none" stroke="#a4a4a4" stroke-width=".5">
<path d="M98.2 611.8C100.9 611.1 108.6 608.7 114.7 607.8C120.7 606.9 127.0 605.9 134.4 606.2C141.8 606.4 155.0 608.6 159.1 609.1"/>
<path d="M98.2 614.6C100.9 613.9 108.6 611.5 114.7 610.6C120.7 609.7 127.0 608.7 134.4 609.0C141.8 609.2 155.0 611.4 159.1 611.9"/>
<path d="M98.2 617.4C100.9 616.7 108.6 614.3 114.7 613.4C120.7 612.5 127.0 611.5 134.4 611.8C141.8 612.0 155.0 614.2 159.1 614.7"/>
<path d="M98.2 620.2C100.9 619.5 108.6 617.1 114.7 616.2C120.7 615.3 127.0 614.3 134.4 614.6C141.8 614.8 155.0 617.0 159.1 617.5"/>
<path d="M98.2 623.0C100.9 622.3 108.6 619.9 114.7 619.0C120.7 618.1 127.0 617.1 134.4 617.4C141.8 617.6 155.0 619.8 159.1 620.3"/>
<path d="M98.2 625.8C100.9 625.1 108.6 622.7 114.7 621.8C120.7 620.9 127.0 619.9 134.4 620.2C141.8 620.4 155.0 622.6 159.1 623.1"/>
<path d="M98.2 628.6C100.9 627.9 108.6 625.5 114.7 624.6C120.7 623.7 127.0 622.7 134.4 623.0C141.8 623.2 155.0 625.4 159.1 625.9"/>
<path d="M98.2 631.4C100.9 630.7 108.6 628.3 114.7 627.4C120.7 626.5 127.0 625.5 134.4 625.8C141.8 626.0 155.0 628.2 159.1 628.7"/>
<path d="M98.2 634.2C100.9 633.5 108.6 631.1 114.7 630.2C120.7 629.3 127.0 628.3 134.4 628.6C141.8 628.8 155.0 631.0 159.1 631.5"/>
<path d="M98.2 637.0C100.9 636.3 108.6 633.9 114.7 633.0C120.7 632.1 127.0 631.1 134.4 631.4C141.8 631.6 155.0 633.8 159.1 634.3"/>
<path d="M98.2 639.8C100.9 639.1 108.6 636.7 114.7 635.8C120.7 634.9 127.0 633.9 134.4 634.2C141.8 634.4 155.0 636.6 159.1 637.1"/>
<path d="M104.8 610.4C106.1 612.6 109.2 619.2 113.0 623.6C116.9 628.0 125.4 634.6 127.8 636.8"/>
<path d="M108.4 611.8C109.9 613.9 113.5 620.4 117.3 624.6C121.1 628.8 128.8 634.8 131.1 636.8"/>
<path d="M112.0 613.1C113.6 615.2 117.8 621.6 121.6 625.6C125.3 629.5 132.3 634.9 134.4 636.8"/>
<path d="M115.6 614.4C117.3 616.4 122.2 622.8 125.9 626.6C129.5 630.3 135.7 635.1 137.7 636.8"/>
<path d="M119.3 615.7C121.1 617.7 126.5 624.1 130.1 627.6C133.8 631.1 139.2 635.3 141.0 636.8"/>
<path d="M122.9 617.0C124.8 618.9 130.9 625.3 134.4 628.6C138.0 631.9 142.7 635.4 144.3 636.8"/>
</g>
<path d="M84.1 612.9C85.2 611.8 90.5 610.8 94.0 610.4C97.4 610.0 101.7 609.9 105.0 610.4C108.3 611.0 112.6 612.1 113.7 613.7C114.9 615.4 113.7 618.8 112.1 620.3C110.4 621.8 106.9 622.8 103.8 622.8C100.8 622.8 96.7 621.3 94.0 620.3C91.2 619.4 89.0 618.3 87.4 617.0C85.7 615.8 83.0 614.0 84.1 612.9Z" fill="#dadada" stroke="#b9b9b9" stroke-width=".6"/>
<clipPath id="clipC"><path d="M15.2 554.4C15.6 553.1 14.7 553.2 14.9 551.8C15.0 550.4 15.2 547.6 16.0 545.9C16.9 544.1 18.7 542.8 20.2 541.2C21.6 539.7 23.2 538.1 24.9 536.5C26.7 534.8 28.6 532.9 30.7 531.4C32.8 529.8 35.3 528.6 37.8 527.2C40.3 525.9 43.1 524.3 45.9 523.1C48.6 521.9 51.2 521.0 54.1 520.2C57.0 519.3 60.4 518.5 63.5 517.9C66.6 517.2 69.8 516.7 72.7 516.0C75.6 515.4 78.0 514.3 80.9 513.7C83.9 513.1 87.4 512.7 90.7 512.4C93.9 512.1 97.4 511.6 100.6 511.8C103.7 511.9 106.3 512.6 109.4 513.2C112.4 513.9 115.7 514.8 118.8 515.9C121.9 516.9 124.9 518.1 128.0 519.5C131.1 520.9 134.3 522.4 137.4 524.1C140.5 525.8 143.9 527.6 146.8 529.5C149.7 531.5 152.3 533.6 154.9 536.0C157.4 538.3 159.8 540.7 161.9 543.6C164.1 546.4 166.1 549.6 167.9 552.9C169.6 556.2 171.2 560.0 172.5 563.3C173.7 566.6 174.8 569.5 175.4 572.9C176.1 576.2 176.5 580.2 176.6 583.4C176.7 586.7 176.5 589.5 175.8 592.3C175.1 595.2 174.2 598.5 172.5 600.6C170.8 602.6 168.2 604.3 165.7 604.8C163.2 605.4 160.0 604.6 157.5 604.0C155.0 603.5 153.6 601.8 150.9 601.5C148.2 601.3 144.3 602.3 141.0 602.7C137.7 603.1 134.4 604.0 131.1 604.0C127.8 604.0 124.5 602.7 121.2 602.7C117.9 602.7 114.7 603.2 111.4 604.0C108.1 604.8 104.8 606.1 101.5 607.5C98.2 608.8 94.5 611.0 91.6 612.1C88.7 613.2 87.0 613.5 84.1 614.1C81.2 614.6 77.8 615.6 74.2 615.5C70.6 615.5 66.2 614.7 62.7 613.9C59.1 613.1 55.3 612.2 52.8 610.6C50.2 609.0 48.5 606.1 47.5 604.2C46.5 602.2 46.6 600.8 46.8 598.9C47.1 597.0 48.0 594.6 49.2 592.6C50.3 590.7 53.3 588.0 53.8 587.4C54.2 586.7 54.0 588.3 52.0 588.9C49.9 589.4 45.0 590.0 41.2 590.5C37.5 591.0 32.5 591.6 29.7 591.7C27.0 591.7 26.6 591.8 24.8 590.8C23.0 589.9 20.7 588.1 19.0 585.9C17.3 583.7 15.5 580.6 14.4 577.7C13.2 574.7 12.4 571.1 12.1 568.1C11.8 565.1 12.1 562.1 12.6 559.9C13.1 557.6 14.8 555.8 15.2 554.4Z"/></clipPath>
<path d="M15.2 554.4C15.6 553.1 14.7 553.2 14.9 551.8C15.0 550.4 15.2 547.6 16.0 545.9C16.9 544.1 18.7 542.8 20.2 541.2C21.6 539.7 23.2 538.1 24.9 536.5C26.7 534.8 28.6 532.9 30.7 531.4C32.8 529.8 35.3 528.6 37.8 527.2C40.3 525.9 43.1 524.3 45.9 523.1C48.6 521.9 51.2 521.0 54.1 520.2C57.0 519.3 60.4 518.5 63.5 517.9C66.6 517.2 69.8 516.7 72.7 516.0C75.6 515.4 78.0 514.3 80.9 513.7C83.9 513.1 87.4 512.7 90.7 512.4C93.9 512.1 97.4 511.6 100.6 511.8C103.7 511.9 106.3 512.6 109.4 513.2C112.4 513.9 115.7 514.8 118.8 515.9C121.9 516.9 124.9 518.1 128.0 519.5C131.1 520.9 134.3 522.4 137.4 524.1C140.5 525.8 143.9 527.6 146.8 529.5C149.7 531.5 152.3 533.6 154.9 536.0C157.4 538.3 159.8 540.7 161.9 543.6C164.1 546.4 166.1 549.6 167.9 552.9C169.6 556.2 171.2 560.0 172.5 563.3C173.7 566.6 174.8 569.5 175.4 572.9C176.1 576.2 176.5 580.2 176.6 583.4C176.7 586.7 176.5 589.5 175.8 592.3C175.1 595.2 174.2 598.5 172.5 600.6C170.8 602.6 168.2 604.3 165.7 604.8C163.2 605.4 160.0 604.6 157.5 604.0C155.0 603.5 153.6 601.8 150.9 601.5C148.2 601.3 144.3 602.3 141.0 602.7C137.7 603.1 134.4 604.0 131.1 604.0C127.8 604.0 124.5 602.7 121.2 602.7C117.9 602.7 114.7 603.2 111.4 604.0C108.1 604.8 104.8 606.1 101.5 607.5C98.2 608.8 94.5 611.0 91.6 612.1C88.7 613.2 87.0 613.5 84.1 614.1C81.2 614.6 77.8 615.6 74.2 615.5C70.6 615.5 66.2 614.7 62.7 613.9C59.1 613.1 55.3 612.2 52.8 610.6C50.2 609.0 48.5 606.1 47.5 604.2C46.5 602.2 46.6 600.8 46.8 598.9C47.1 597.0 48.0 594.6 49.2 592.6C50.3 590.7 53.3 588.0 53.8 587.4C54.2 586.7 54.0 588.3 52.0 588.9C49.9 589.4 45.0 590.0 41.2 590.5C37.5 591.0 32.5 591.6 29.7 591.7C27.0 591.7 26.6 591.8 24.8 590.8C23.0 589.9 20.7 588.1 19.0 585.9C17.3 583.7 15.5 580.6 14.4 577.7C13.2 574.7 12.4 571.1 12.1 568.1C11.8 565.1 12.1 562.1 12.6 559.9C13.1 557.6 14.8 555.8 15.2 554.4Z" fill="#dbdbdb"/>
<g clip-path="url(#clipC)">
<path d="M134.4 519.8C137.2 519.0 148.2 527.2 154.2 533.0C160.2 538.8 166.4 545.9 170.7 554.4C174.9 562.9 179.2 575.3 179.7 584.1C180.3 592.9 178.2 603.3 174.0 607.1C169.7 611.0 158.0 609.9 154.2 607.1C150.3 604.4 151.4 596.7 150.9 590.7C150.4 584.6 152.0 577.5 151.2 570.9C150.5 564.3 148.5 556.6 146.3 551.1C144.0 545.6 139.7 543.2 137.7 537.9C135.7 532.7 131.7 520.7 134.4 519.8Z" fill="#cecece" />
<path d="M124.5 531.4C124.8 528.5 130.8 534.0 134.4 537.3C138.0 540.6 143.4 545.5 146.3 551.1C149.1 556.7 150.7 564.3 151.6 570.9C152.4 577.5 153.3 586.1 151.2 590.7C149.2 595.2 144.4 597.1 139.4 598.2C134.4 599.3 126.2 598.0 121.2 597.3C116.3 596.5 111.4 596.4 109.7 594.0C108.1 591.5 108.6 586.3 111.4 582.4C114.1 578.6 122.6 575.6 126.2 570.9C129.8 566.2 133.1 561.0 132.8 554.4C132.5 547.8 124.3 534.2 124.5 531.4Z" fill="#e6e6e6" />
<path d="M46.2 605.5C46.2 603.8 50.3 603.2 54.4 602.2C58.5 601.2 64.9 600.6 70.9 599.7C76.9 598.9 84.1 597.7 90.7 597.3C97.3 596.8 104.9 596.7 110.4 597.3C115.9 597.8 123.6 598.4 123.6 600.6C123.6 602.7 115.9 607.9 110.4 610.4C104.9 613.0 97.3 614.7 90.7 615.7C84.1 616.7 76.9 617.0 70.9 616.4C64.9 615.8 58.5 613.9 54.4 612.1C50.3 610.3 46.2 607.1 46.2 605.5Z" fill="#cfcfcf" />
<path d="M49.5 597.3C50.0 595.1 53.6 591.6 57.7 589.0C61.8 586.4 68.7 583.5 74.2 581.6C79.7 579.7 85.2 578.4 90.7 577.5C96.2 576.5 102.2 575.8 107.1 575.8C112.1 575.8 119.8 575.0 120.3 577.5C120.9 580.0 115.4 587.9 110.4 590.7C105.5 593.4 97.3 592.9 90.7 594.0C84.1 595.1 76.9 595.9 70.9 597.3C64.9 598.6 58.0 602.2 54.4 602.2C50.9 602.2 48.9 599.5 49.5 597.3Z" fill="#dfdfdf" />
<path d="M16.2 554.4C15.1 554.4 13.2 557.6 12.4 559.9C11.7 562.1 11.5 565.1 11.8 568.1C12.0 571.1 12.9 574.7 14.1 577.7C15.3 580.6 17.2 583.8 19.0 586.1C20.8 588.3 23.0 590.0 24.8 591.0C26.6 592.0 27.0 591.9 29.7 591.8C32.5 591.8 37.5 591.1 41.2 590.7C45.0 590.2 49.9 589.7 52.1 589.0C54.3 588.3 55.8 587.1 54.4 586.4C53.1 585.7 47.3 585.0 43.9 584.7C40.5 584.5 36.7 585.7 34.2 585.1C31.6 584.4 30.2 582.6 28.4 580.9C26.6 579.3 24.9 577.2 23.6 575.0C22.4 572.9 21.6 570.6 20.8 568.1C20.0 565.6 19.8 562.1 19.0 559.9C18.2 557.6 17.3 554.4 16.2 554.4Z" fill="#e9b996" stroke="#d9a580" stroke-width=".5"/>
<path d="M14.9 570.9C16.0 571.7 19.6 573.9 21.5 575.8C23.4 577.8 25.0 580.0 26.4 582.4C27.8 584.9 29.2 589.3 29.7 590.7" fill="none" stroke="#d6a27e" stroke-width="0.50" stroke-linecap="round" stroke-linejoin="round" />
<path d="M19.8 577.5C21.5 578.3 26.1 580.8 29.7 582.4C33.3 584.1 39.3 586.5 41.2 587.4" fill="none" stroke="#d6a27e" stroke-width="0.50" stroke-linecap="round" stroke-linejoin="round" />
<path d="M29.7 544.5C31.1 543.9 35.2 541.5 37.9 540.4C40.7 539.3 44.8 538.4 46.2 537.9" fill="none" stroke="#e4e4e4" stroke-width="3.20" stroke-linecap="round" stroke-linejoin="round" />
<path d="M29.7 544.5C31.1 543.9 35.2 541.5 37.9 540.4C40.7 539.3 44.8 538.4 46.2 537.9" fill="none" stroke="#efefef" stroke-width="1.00" stroke-linecap="round" stroke-linejoin="round" />
<path d="M23.1 554.4C24.2 555.2 28.1 557.4 29.7 559.4C31.4 561.3 32.5 564.9 33.0 566.0" fill="none" stroke="#e4e4e4" stroke-width="3.20" stroke-linecap="round" stroke-linejoin="round" />
<path d="M23.1 554.4C24.2 555.2 28.1 557.4 29.7 559.4C31.4 561.3 32.5 564.9 33.0 566.0" fill="none" stroke="#efefef" stroke-width="1.00" stroke-linecap="round" stroke-linejoin="round" />
<path d="M42.9 552.8C43.7 553.9 45.9 557.7 47.8 559.4C49.8 561.0 53.3 562.1 54.4 562.7" fill="none" stroke="#e4e4e4" stroke-width="3.20" stroke-linecap="round" stroke-linejoin="round" />
<path d="M42.9 552.8C43.7 553.9 45.9 557.7 47.8 559.4C49.8 561.0 53.3 562.1 54.4 562.7" fill="none" stroke="#efefef" stroke-width="1.00" stroke-linecap="round" stroke-linejoin="round" />
<path d="M59.4 531.4C60.7 531.1 64.9 530.8 67.6 529.7C70.3 528.6 74.5 525.6 75.8 524.8" fill="none" stroke="#e4e4e4" stroke-width="3.20" stroke-linecap="round" stroke-linejoin="round" />
<path d="M59.4 531.4C60.7 531.1 64.9 530.8 67.6 529.7C70.3 528.6 74.5 525.6 75.8 524.8" fill="none" stroke="#efefef" stroke-width="1.00" stroke-linecap="round" stroke-linejoin="round" />
<path d="M69.3 544.5C70.1 543.4 72.0 539.6 74.2 537.9C76.4 536.3 81.1 535.2 82.4 534.7" fill="none" stroke="#e4e4e4" stroke-width="3.20" stroke-linecap="round" stroke-linejoin="round" />
<path d="M69.3 544.5C70.1 543.4 72.0 539.6 74.2 537.9C76.4 536.3 81.1 535.2 82.4 534.7" fill="none" stroke="#efefef" stroke-width="1.00" stroke-linecap="round" stroke-linejoin="round" />
<path d="M80.8 554.4C81.9 553.1 85.7 548.9 87.4 546.2C89.0 543.4 90.1 539.3 90.7 537.9" fill="none" stroke="#e4e4e4" stroke-width="3.20" stroke-linecap="round" stroke-linejoin="round" />
<path d="M80.8 554.4C81.9 553.1 85.7 548.9 87.4 546.2C89.0 543.4 90.1 539.3 90.7 537.9" fill="none" stroke="#efefef" stroke-width="1.00" stroke-linecap="round" stroke-linejoin="round" />
<path d="M67.6 561.0C68.2 562.1 69.3 566.0 70.9 567.6C72.5 569.3 76.4 570.3 77.5 570.9" fill="none" stroke="#e4e4e4" stroke-width="3.20" stroke-linecap="round" stroke-linejoin="round" />
<path d="M67.6 561.0C68.2 562.1 69.3 566.0 70.9 567.6C72.5 569.3 76.4 570.3 77.5 570.9" fill="none" stroke="#efefef" stroke-width="1.00" stroke-linecap="round" stroke-linejoin="round" />
<path d="M94.0 524.8C94.5 525.9 95.6 529.2 97.3 531.4C98.9 533.6 102.7 536.9 103.8 537.9" fill="none" stroke="#e4e4e4" stroke-width="3.20" stroke-linecap="round" stroke-linejoin="round" />
<path d="M94.0 524.8C94.5 525.9 95.6 529.2 97.3 531.4C98.9 533.6 102.7 536.9 103.8 537.9" fill="none" stroke="#efefef" stroke-width="1.00" stroke-linecap="round" stroke-linejoin="round" />
<path d="M59.4 590.7C60.7 589.8 64.6 587.1 67.6 585.7C70.6 584.4 75.8 583.0 77.5 582.4" fill="none" stroke="#e4e4e4" stroke-width="3.20" stroke-linecap="round" stroke-linejoin="round" />
<path d="M59.4 590.7C60.7 589.8 64.6 587.1 67.6 585.7C70.6 584.4 75.8 583.0 77.5 582.4" fill="none" stroke="#efefef" stroke-width="1.00" stroke-linecap="round" stroke-linejoin="round" />
<path d="M97.3 577.5C98.4 577.4 101.7 576.7 103.8 576.7C106.0 576.7 109.3 577.4 110.4 577.5" fill="none" stroke="#e4e4e4" stroke-width="3.20" stroke-linecap="round" stroke-linejoin="round" />
<path d="M97.3 577.5C98.4 577.4 101.7 576.7 103.8 576.7C106.0 576.7 109.3 577.4 110.4 577.5" fill="none" stroke="#efefef" stroke-width="1.00" stroke-linecap="round" stroke-linejoin="round" />
<path d="M88.3 521.5C89.4 521.2 92.4 519.6 94.9 519.8C97.4 520.1 101.7 522.6 103.1 523.1" fill="none" stroke="#e4e4e4" stroke-width="3.20" stroke-linecap="round" stroke-linejoin="round" />
<path d="M88.3 521.5C89.4 521.2 92.4 519.6 94.9 519.8C97.4 520.1 101.7 522.6 103.1 523.1" fill="none" stroke="#efefef" stroke-width="1.00" stroke-linecap="round" stroke-linejoin="round" />
<path d="M98.2 547.8C99.3 547.3 102.3 544.8 104.8 544.5C107.2 544.3 111.6 545.9 113.0 546.2" fill="none" stroke="#e4e4e4" stroke-width="3.20" stroke-linecap="round" stroke-linejoin="round" />
<path d="M98.2 547.8C99.3 547.3 102.3 544.8 104.8 544.5C107.2 544.3 111.6 545.9 113.0 546.2" fill="none" stroke="#efefef" stroke-width="1.00" stroke-linecap="round" stroke-linejoin="round" />
<path d="M126.2 546.2C126.7 547.3 129.2 550.6 129.5 552.8C129.8 555.0 128.1 558.3 127.8 559.4" fill="none" stroke="#e4e4e4" stroke-width="3.20" stroke-linecap="round" stroke-linejoin="round" />
<path d="M126.2 546.2C126.7 547.3 129.2 550.6 129.5 552.8C129.8 555.0 128.1 558.3 127.8 559.4" fill="none" stroke="#efefef" stroke-width="1.00" stroke-linecap="round" stroke-linejoin="round" />
<path d="M139.4 542.9C139.9 544.0 142.1 547.0 142.7 549.5C143.2 552.0 142.7 556.3 142.7 557.7" fill="none" stroke="#e4e4e4" stroke-width="3.20" stroke-linecap="round" stroke-linejoin="round" />
<path d="M139.4 542.9C139.9 544.0 142.1 547.0 142.7 549.5C143.2 552.0 142.7 556.3 142.7 557.7" fill="none" stroke="#efefef" stroke-width="1.00" stroke-linecap="round" stroke-linejoin="round" />
<path d="M94.9 577.5C96.0 577.2 99.8 576.1 101.5 575.8C103.1 575.6 104.2 576.1 104.8 576.2" fill="none" stroke="#e4e4e4" stroke-width="3.20" stroke-linecap="round" stroke-linejoin="round" />
<path d="M94.9 577.5C96.0 577.2 99.8 576.1 101.5 575.8C103.1 575.6 104.2 576.1 104.8 576.2" fill="none" stroke="#efefef" stroke-width="1.00" stroke-linecap="round" stroke-linejoin="round" />
<path d="M122.9 590.7C124.3 590.8 128.1 591.8 131.1 591.5C134.1 591.2 139.4 589.4 141.0 589.0" fill="none" stroke="#e4e4e4" stroke-width="3.20" stroke-linecap="round" stroke-linejoin="round" />
<path d="M122.9 590.7C124.3 590.8 128.1 591.8 131.1 591.5C134.1 591.2 139.4 589.4 141.0 589.0" fill="none" stroke="#efefef" stroke-width="1.00" stroke-linecap="round" stroke-linejoin="round" />
<path d="M139.4 570.9C139.9 571.4 142.7 573.1 142.7 574.2C142.7 575.3 139.9 576.9 139.4 577.5" fill="none" stroke="#e4e4e4" stroke-width="3.20" stroke-linecap="round" stroke-linejoin="round" />
<path d="M139.4 570.9C139.9 571.4 142.7 573.1 142.7 574.2C142.7 575.3 139.9 576.9 139.4 577.5" fill="none" stroke="#efefef" stroke-width="1.00" stroke-linecap="round" stroke-linejoin="round" />
<path d="M104.8 524.8C105.6 524.2 108.6 522.3 109.7 521.5C110.8 520.7 111.1 520.1 111.4 519.8" fill="none" stroke="#e4e4e4" stroke-width="3.20" stroke-linecap="round" stroke-linejoin="round" />
<path d="M104.8 524.8C105.6 524.2 108.6 522.3 109.7 521.5C110.8 520.7 111.1 520.1 111.4 519.8" fill="none" stroke="#efefef" stroke-width="1.00" stroke-linecap="round" stroke-linejoin="round" />
<path d="M53.8 587.4C56.1 586.1 63.4 581.6 67.6 579.5C71.8 577.3 74.7 576.1 79.1 574.5C83.5 572.9 89.3 570.7 94.0 569.9C98.6 569.1 102.7 569.8 107.1 569.6C111.5 569.4 116.2 568.9 120.3 568.6C124.4 568.3 129.9 567.8 131.9 567.6" fill="none" stroke="#a6a6a6" stroke-width="0.60" stroke-linecap="round" stroke-linejoin="round" />
<path d="M18.2 546.2C19.3 546.7 22.0 549.2 24.8 549.5C27.5 549.8 31.6 548.2 34.7 548.2C37.7 548.2 41.5 549.3 42.9 549.5" fill="none" stroke="#a6a6a6" stroke-width="0.60" stroke-linecap="round" stroke-linejoin="round" />
<path d="M21.5 561.0C22.8 561.3 27.2 561.0 29.7 562.7C32.2 564.3 33.6 569.0 36.3 570.9C39.0 572.8 44.5 573.6 46.2 574.2" fill="none" stroke="#a6a6a6" stroke-width="0.60" stroke-linecap="round" stroke-linejoin="round" />
<path d="M37.9 533.0C38.5 534.4 39.6 539.0 41.2 541.2C42.9 543.4 47.0 544.0 47.8 546.2C48.7 548.4 45.6 552.0 46.2 554.4C46.7 556.9 48.9 559.4 51.1 561.0C53.3 562.7 58.0 563.8 59.4 564.3" fill="none" stroke="#a6a6a6" stroke-width="0.60" stroke-linecap="round" stroke-linejoin="round" />
<path d="M54.4 526.4C55.2 527.8 58.8 531.9 59.4 534.7C59.9 537.4 57.2 540.4 57.7 542.9C58.3 545.4 61.8 548.4 62.7 549.5" fill="none" stroke="#a6a6a6" stroke-width="0.60" stroke-linecap="round" stroke-linejoin="round" />
<path d="M62.7 549.5C63.5 550.6 66.8 553.6 67.6 556.1C68.4 558.5 67.1 561.3 67.6 564.3C68.2 567.3 70.3 572.5 70.9 574.2" fill="none" stroke="#a6a6a6" stroke-width="0.60" stroke-linecap="round" stroke-linejoin="round" />
<path d="M70.9 520.7C71.7 521.9 73.9 526.3 75.8 528.1C77.8 529.8 80.5 529.2 82.4 531.4C84.4 533.6 85.5 538.5 87.4 541.2C89.3 544.0 92.7 544.8 94.0 547.8C95.2 550.9 94.2 555.9 94.8 559.4C95.3 562.8 96.8 566.9 97.3 568.4" fill="none" stroke="#a6a6a6" stroke-width="0.60" stroke-linecap="round" stroke-linejoin="round" />
<path d="M87.4 516.5C87.9 517.6 88.5 521.5 90.7 523.1C92.9 524.8 98.4 524.5 100.6 526.4C102.7 528.3 103.3 533.3 103.8 534.7" fill="none" stroke="#a6a6a6" stroke-width="0.60" stroke-linecap="round" stroke-linejoin="round" />
<path d="M75.8 546.2C76.7 547.0 78.9 549.8 80.8 551.1C82.7 552.5 86.3 553.9 87.4 554.4" fill="none" stroke="#a6a6a6" stroke-width="0.60" stroke-linecap="round" stroke-linejoin="round" />
<path d="M49.5 597.3C51.1 596.8 55.8 595.9 59.4 594.8C62.9 593.7 67.1 592.5 70.9 590.7C74.7 588.9 78.0 585.5 82.4 584.1C86.8 582.7 92.6 582.4 97.3 582.4C101.9 582.4 108.2 583.8 110.4 584.1" fill="none" stroke="#a6a6a6" stroke-width="0.60" stroke-linecap="round" stroke-linejoin="round" />
<path d="M54.4 607.1C57.2 606.6 66.0 605.5 70.9 603.8C75.8 602.2 78.6 598.4 84.1 597.3C89.6 596.2 100.6 597.3 103.8 597.3" fill="none" stroke="#a6a6a6" stroke-width="0.60" stroke-linecap="round" stroke-linejoin="round" />
<path d="M88.3 513.2C89.1 514.9 92.7 519.8 93.2 523.1C93.8 526.4 91.0 529.7 91.6 533.0C92.1 536.3 96.0 539.3 96.5 542.9C97.1 546.5 94.6 550.6 94.9 554.4C95.2 558.3 97.6 564.0 98.2 566.0" fill="none" stroke="#a6a6a6" stroke-width="0.60" stroke-linecap="round" stroke-linejoin="round" />
<path d="M101.5 512.4C102.3 513.9 104.2 519.1 106.4 521.5C108.6 523.8 113.0 523.7 114.7 526.4C116.3 529.2 116.3 533.3 116.3 537.9C116.3 542.6 114.8 549.3 114.7 554.4C114.5 559.5 115.3 566.1 115.5 568.4" fill="none" stroke="#a6a6a6" stroke-width="0.60" stroke-linecap="round" stroke-linejoin="round" />
<path d="M116.3 537.9C117.7 537.7 122.1 535.5 124.5 536.3C127.0 537.1 129.5 539.9 131.1 542.9C132.8 545.9 133.9 552.5 134.4 554.4" fill="none" stroke="#a6a6a6" stroke-width="0.60" stroke-linecap="round" stroke-linejoin="round" />
<path d="M101.5 552.8C102.8 551.7 107.5 547.0 109.7 546.2C111.9 545.4 113.8 547.6 114.7 547.8" fill="none" stroke="#a6a6a6" stroke-width="0.60" stroke-linecap="round" stroke-linejoin="round" />
<path d="M124.5 517.4C124.8 518.9 124.5 523.8 126.2 526.4C127.8 529.0 133.1 531.9 134.4 533.0" fill="none" stroke="#a6a6a6" stroke-width="0.60" stroke-linecap="round" stroke-linejoin="round" />
<path d="M134.4 521.5C135.2 523.1 136.6 528.6 139.4 531.4C142.1 534.1 149.0 536.9 150.9 537.9" fill="none" stroke="#a6a6a6" stroke-width="0.60" stroke-linecap="round" stroke-linejoin="round" />
<path d="M146.0 551.1C146.2 552.8 147.5 557.2 147.6 561.0C147.7 564.9 145.7 570.6 146.3 574.2C146.8 577.8 150.1 581.1 150.9 582.4" fill="none" stroke="#a6a6a6" stroke-width="0.60" stroke-linecap="round" stroke-linejoin="round" />
<path d="M154.2 554.4C154.7 556.6 157.2 563.2 157.5 567.6C157.8 572.0 155.0 576.4 155.8 580.8C156.7 585.2 161.3 591.8 162.4 594.0" fill="none" stroke="#a6a6a6" stroke-width="0.60" stroke-linecap="round" stroke-linejoin="round" />
<path d="M164.1 559.4C164.6 561.8 167.1 569.5 167.4 574.2C167.6 578.9 166.0 585.2 165.7 587.4" fill="none" stroke="#a6a6a6" stroke-width="0.60" stroke-linecap="round" stroke-linejoin="round" />
<path d="M109.7 582.4C111.1 582.2 114.9 580.5 117.9 580.8C121.0 581.1 124.3 583.8 127.8 584.1C131.4 584.4 137.4 582.7 139.4 582.4" fill="none" stroke="#a6a6a6" stroke-width="0.60" stroke-linecap="round" stroke-linejoin="round" />
<path d="M117.9 570.9C119.6 570.3 124.8 567.9 127.8 567.6C130.9 567.3 134.7 569.0 136.1 569.3" fill="none" stroke="#a6a6a6" stroke-width="0.60" stroke-linecap="round" stroke-linejoin="round" />
<path d="M108.1 587.4C109.7 588.5 114.1 592.7 117.9 594.0C121.8 595.2 127.3 595.1 131.1 594.8C135.0 594.5 137.7 593.6 141.0 592.3C144.3 591.1 149.3 588.2 150.9 587.4" fill="none" stroke="#a6a6a6" stroke-width="0.60" stroke-linecap="round" stroke-linejoin="round" />
<path d="M94.9 594.0C96.5 594.5 100.9 596.4 104.8 597.3C108.6 598.1 115.8 598.6 117.9 598.9" fill="none" stroke="#a6a6a6" stroke-width="0.60" stroke-linecap="round" stroke-linejoin="round" />
</g>
<path d="M15.2 554.4C15.6 553.1 14.7 553.2 14.9 551.8C15.0 550.4 15.2 547.6 16.0 545.9C16.9 544.1 18.7 542.8 20.2 541.2C21.6 539.7 23.2 538.1 24.9 536.5C26.7 534.8 28.6 532.9 30.7 531.4C32.8 529.8 35.3 528.6 37.8 527.2C40.3 525.9 43.1 524.3 45.9 523.1C48.6 521.9 51.2 521.0 54.1 520.2C57.0 519.3 60.4 518.5 63.5 517.9C66.6 517.2 69.8 516.7 72.7 516.0C75.6 515.4 78.0 514.3 80.9 513.7C83.9 513.1 87.4 512.7 90.7 512.4C93.9 512.1 97.4 511.6 100.6 511.8C103.7 511.9 106.3 512.6 109.4 513.2C112.4 513.9 115.7 514.8 118.8 515.9C121.9 516.9 124.9 518.1 128.0 519.5C131.1 520.9 134.3 522.4 137.4 524.1C140.5 525.8 143.9 527.6 146.8 529.5C149.7 531.5 152.3 533.6 154.9 536.0C157.4 538.3 159.8 540.7 161.9 543.6C164.1 546.4 166.1 549.6 167.9 552.9C169.6 556.2 171.2 560.0 172.5 563.3C173.7 566.6 174.8 569.5 175.4 572.9C176.1 576.2 176.5 580.2 176.6 583.4C176.7 586.7 176.5 589.5 175.8 592.3C175.1 595.2 174.2 598.5 172.5 600.6C170.8 602.6 168.2 604.3 165.7 604.8C163.2 605.4 160.0 604.6 157.5 604.0C155.0 603.5 153.6 601.8 150.9 601.5C148.2 601.3 144.3 602.3 141.0 602.7C137.7 603.1 134.4 604.0 131.1 604.0C127.8 604.0 124.5 602.7 121.2 602.7C117.9 602.7 114.7 603.2 111.4 604.0C108.1 604.8 104.8 606.1 101.5 607.5C98.2 608.8 94.5 611.0 91.6 612.1C88.7 613.2 87.0 613.5 84.1 614.1C81.2 614.6 77.8 615.6 74.2 615.5C70.6 615.5 66.2 614.7 62.7 613.9C59.1 613.1 55.3 612.2 52.8 610.6C50.2 609.0 48.5 606.1 47.5 604.2C46.5 602.2 46.6 600.8 46.8 598.9C47.1 597.0 48.0 594.6 49.2 592.6C50.3 590.7 53.3 588.0 53.8 587.4C54.2 586.7 54.0 588.3 52.0 588.9C49.9 589.4 45.0 590.0 41.2 590.5C37.5 591.0 32.5 591.6 29.7 591.7C27.0 591.7 26.6 591.8 24.8 590.8C23.0 589.9 20.7 588.1 19.0 585.9C17.3 583.7 15.5 580.6 14.4 577.7C13.2 574.7 12.4 571.1 12.1 568.1C11.8 565.1 12.1 562.1 12.6 559.9C13.1 557.6 14.8 555.8 15.2 554.4Z" fill="none" stroke="#b3b3b3" stroke-width=".7"/>
<radialGradient id="glowC"><stop offset="0" stop-color="#f5363e" stop-opacity=".95"/><stop offset=".16" stop-color="#f6444b" stop-opacity=".9"/><stop offset=".38" stop-color="#f7666b" stop-opacity=".62"/><stop offset=".6" stop-color="#f98e92" stop-opacity=".28"/><stop offset=".8" stop-color="#fbb0b3" stop-opacity=".07"/><stop offset="1" stop-color="#fcc" stop-opacity="0"/></radialGradient>
<circle cx="84.6" cy="587.6" r="13.5" fill="url(#glowC)"/>
<text x="52.7" y="632.2" font-size="8" text-anchor="middle" fill="#222" stroke="#222" stroke-width=".12">seizure</text>
<text x="52.7" y="641.0" font-size="8" text-anchor="middle" fill="#222" stroke="#222" stroke-width=".12">onset side</text>
<path d="M59.4 623.6L76.4 600" stroke="#222" stroke-width=".9" stroke-dasharray="1.3 .8" fill="none"/>
<circle cx="77.4" cy="598.6" r=".9" fill="#222"/>
<path d="M54.7 666.9V681.5" stroke="#222" stroke-width=".9"/>
<rect x="47.6" y="669.1" width="14.2" height="10.2" rx=".8" fill="#fdcaa9" stroke="#222" stroke-width=".9"/>
<path d="M47.6 674.2H61.8" stroke="#222" stroke-width="1.3"/>
<path d="M114.0 666.9V681.5" stroke="#222" stroke-width=".9"/>
<rect x="106.9" y="669.1" width="14.2" height="10.2" rx=".8" fill="#fb8e45" stroke="#222" stroke-width=".9"/>
<path d="M106.9 674.2H121.1" stroke="#222" stroke-width="1.3"/>
<text x="63.7" y="678.9" font-size="12.2" fill="#111" textLength="34.4" lengthAdjust="spacingAndGlyphs">PTSD-</text>
<text x="123.8" y="678.9" font-size="12.2" fill="#111" textLength="35.6" lengthAdjust="spacingAndGlyphs">PTSD+</text>
</g>
<g id="brainD">
<clipPath id="clipD"><path d="M95.1 736.0C93.9 735.8 90.7 734.9 88.2 734.7C85.7 734.6 82.5 734.7 80.0 735.2C77.5 735.7 74.6 736.8 73.2 737.7C71.8 738.6 72.1 740.2 71.6 740.5C71.0 740.8 70.8 739.7 69.9 739.7C69.0 739.7 67.5 739.9 66.0 740.5C64.4 741.0 61.7 742.3 60.7 743.0C59.7 743.6 60.3 744.4 59.9 744.6C59.4 744.8 59.3 743.8 58.2 744.1C57.2 744.5 55.8 745.3 53.6 746.7C51.4 748.2 47.7 750.7 45.2 753.0C42.7 755.3 40.0 758.8 38.6 760.4C37.3 762.0 37.6 762.3 37.1 762.7C36.6 763.1 36.2 762.5 35.5 762.7C34.7 763.0 33.9 763.0 32.7 764.4C31.4 765.7 29.1 769.3 27.9 771.0C26.7 772.6 26.3 773.5 25.8 774.1C25.2 774.6 24.8 773.4 24.4 774.3C24.1 775.1 24.1 777.1 23.6 779.4C23.1 781.6 22.4 784.8 21.6 787.6C20.8 790.4 19.5 793.5 18.8 796.0C18.2 798.6 17.5 801.2 17.5 802.9C17.5 804.7 18.8 806.2 18.7 806.5C18.6 806.9 17.6 804.8 16.9 805.2C16.1 805.7 14.9 807.3 14.2 809.3C13.5 811.4 12.7 815.0 12.6 817.8C12.4 820.5 13.4 823.7 13.4 826.0C13.4 828.3 12.3 829.6 12.4 831.6C12.6 833.5 14.3 835.8 14.2 837.7C14.1 839.5 12.1 840.6 11.9 842.6C11.8 844.6 12.2 847.4 13.4 849.7C14.6 852.0 16.3 854.9 18.8 856.6C21.4 858.4 25.3 859.7 28.6 860.1C31.8 860.4 35.3 859.6 38.3 858.8C41.3 857.9 43.4 856.1 46.7 855.1C49.9 854.2 54.7 854.3 57.7 853.2C60.7 852.0 62.6 850.0 64.6 848.2C66.7 846.5 69.1 844.5 70.2 842.6C71.4 840.8 71.5 838.6 71.6 837.2C71.6 835.8 70.3 834.7 70.6 834.4C70.8 834.0 72.4 833.7 73.0 835.0C73.7 836.4 73.9 840.4 74.4 842.6C74.8 844.8 74.7 846.4 75.7 848.2C76.6 850.1 77.9 852.3 80.0 853.8C82.0 855.3 85.6 856.6 88.2 857.3C90.7 858.0 94.1 857.8 95.3 857.9C96.5 858.1 94.1 857.9 95.3 857.9C96.4 858.0 99.7 858.6 102.2 858.2C104.7 857.8 108.2 857.0 110.2 855.7C112.3 854.4 113.5 852.2 114.4 850.4C115.3 848.6 115.3 847.0 115.7 844.8C116.1 842.6 116.4 838.4 117.0 837.1C117.6 835.7 119.2 836.2 119.4 836.6C119.6 837.0 118.4 838.0 118.4 839.4C118.5 840.9 118.6 843.2 119.7 845.2C120.8 847.2 123.2 849.5 125.2 851.3C127.2 853.2 129.0 855.3 131.9 856.5C134.9 857.7 139.6 857.6 142.7 858.6C145.9 859.5 148.0 861.5 150.9 862.3C153.9 863.2 157.2 864.1 160.4 863.7C163.6 863.3 167.4 861.9 169.9 860.1C172.4 858.3 174.1 855.3 175.2 852.9C176.3 850.5 176.8 847.6 176.6 845.5C176.5 843.4 174.5 842.3 174.4 840.4C174.3 838.4 176.0 836.0 176.2 834.0C176.3 832.0 175.2 830.6 175.2 828.2C175.2 825.8 176.1 822.5 176.0 819.6C175.9 816.7 175.1 813.0 174.4 810.8C173.7 808.7 172.5 807.0 171.8 806.5C171.1 806.1 170.2 808.3 170.0 807.9C169.9 807.5 171.2 806.0 171.2 804.1C171.1 802.3 170.6 799.6 169.9 796.9C169.2 794.3 167.9 791.1 167.2 788.2C166.4 785.3 165.7 781.9 165.2 779.6C164.8 777.3 164.8 775.2 164.4 774.3C164.1 773.4 163.7 774.6 163.1 774.1C162.6 773.5 162.2 772.6 161.0 771.0C159.9 769.3 157.6 765.7 156.4 764.4C155.1 763.0 154.4 763.0 153.6 762.7C152.9 762.5 152.5 763.1 152.0 762.7C151.5 762.3 151.9 762.0 150.6 760.4C149.3 758.8 146.6 755.3 144.2 753.0C141.7 750.7 138.1 748.2 136.0 746.7C133.8 745.3 132.5 744.5 131.5 744.1C130.4 743.8 130.3 744.8 129.9 744.6C129.4 744.4 130.0 743.6 129.0 743.0C128.1 742.3 125.4 741.0 123.9 740.5C122.4 739.9 121.0 739.7 120.0 739.7C119.1 739.7 119.0 740.8 118.4 740.5C117.9 740.2 118.2 738.6 116.8 737.7C115.5 736.8 112.7 735.7 110.2 735.2C107.8 734.7 104.7 734.6 102.2 734.7C99.7 734.9 96.6 735.8 95.4 736.0C94.3 736.3 96.3 736.3 95.1 736.0Z"/></clipPath>
<path d="M95.1 736.0C93.9 735.8 90.7 734.9 88.2 734.7C85.7 734.6 82.5 734.7 80.0 735.2C77.5 735.7 74.6 736.8 73.2 737.7C71.8 738.6 72.1 740.2 71.6 740.5C71.0 740.8 70.8 739.7 69.9 739.7C69.0 739.7 67.5 739.9 66.0 740.5C64.4 741.0 61.7 742.3 60.7 743.0C59.7 743.6 60.3 744.4 59.9 744.6C59.4 744.8 59.3 743.8 58.2 744.1C57.2 744.5 55.8 745.3 53.6 746.7C51.4 748.2 47.7 750.7 45.2 753.0C42.7 755.3 40.0 758.8 38.6 760.4C37.3 762.0 37.6 762.3 37.1 762.7C36.6 763.1 36.2 762.5 35.5 762.7C34.7 763.0 33.9 763.0 32.7 764.4C31.4 765.7 29.1 769.3 27.9 771.0C26.7 772.6 26.3 773.5 25.8 774.1C25.2 774.6 24.8 773.4 24.4 774.3C24.1 775.1 24.1 777.1 23.6 779.4C23.1 781.6 22.4 784.8 21.6 787.6C20.8 790.4 19.5 793.5 18.8 796.0C18.2 798.6 17.5 801.2 17.5 802.9C17.5 804.7 18.8 806.2 18.7 806.5C18.6 806.9 17.6 804.8 16.9 805.2C16.1 805.7 14.9 807.3 14.2 809.3C13.5 811.4 12.7 815.0 12.6 817.8C12.4 820.5 13.4 823.7 13.4 826.0C13.4 828.3 12.3 829.6 12.4 831.6C12.6 833.5 14.3 835.8 14.2 837.7C14.1 839.5 12.1 840.6 11.9 842.6C11.8 844.6 12.2 847.4 13.4 849.7C14.6 852.0 16.3 854.9 18.8 856.6C21.4 858.4 25.3 859.7 28.6 860.1C31.8 860.4 35.3 859.6 38.3 858.8C41.3 857.9 43.4 856.1 46.7 855.1C49.9 854.2 54.7 854.3 57.7 853.2C60.7 852.0 62.6 850.0 64.6 848.2C66.7 846.5 69.1 844.5 70.2 842.6C71.4 840.8 71.5 838.6 71.6 837.2C71.6 835.8 70.3 834.7 70.6 834.4C70.8 834.0 72.4 833.7 73.0 835.0C73.7 836.4 73.9 840.4 74.4 842.6C74.8 844.8 74.7 846.4 75.7 848.2C76.6 850.1 77.9 852.3 80.0 853.8C82.0 855.3 85.6 856.6 88.2 857.3C90.7 858.0 94.1 857.8 95.3 857.9C96.5 858.1 94.1 857.9 95.3 857.9C96.4 858.0 99.7 858.6 102.2 858.2C104.7 857.8 108.2 857.0 110.2 855.7C112.3 854.4 113.5 852.2 114.4 850.4C115.3 848.6 115.3 847.0 115.7 844.8C116.1 842.6 116.4 838.4 117.0 837.1C117.6 835.7 119.2 836.2 119.4 836.6C119.6 837.0 118.4 838.0 118.4 839.4C118.5 840.9 118.6 843.2 119.7 845.2C120.8 847.2 123.2 849.5 125.2 851.3C127.2 853.2 129.0 855.3 131.9 856.5C134.9 857.7 139.6 857.6 142.7 858.6C145.9 859.5 148.0 861.5 150.9 862.3C153.9 863.2 157.2 864.1 160.4 863.7C163.6 863.3 167.4 861.9 169.9 860.1C172.4 858.3 174.1 855.3 175.2 852.9C176.3 850.5 176.8 847.6 176.6 845.5C176.5 843.4 174.5 842.3 174.4 840.4C174.3 838.4 176.0 836.0 176.2 834.0C176.3 832.0 175.2 830.6 175.2 828.2C175.2 825.8 176.1 822.5 176.0 819.6C175.9 816.7 175.1 813.0 174.4 810.8C173.7 808.7 172.5 807.0 171.8 806.5C171.1 806.1 170.2 808.3 170.0 807.9C169.9 807.5 171.2 806.0 171.2 804.1C171.1 802.3 170.6 799.6 169.9 796.9C169.2 794.3 167.9 791.1 167.2 788.2C166.4 785.3 165.7 781.9 165.2 779.6C164.8 777.3 164.8 775.2 164.4 774.3C164.1 773.4 163.7 774.6 163.1 774.1C162.6 773.5 162.2 772.6 161.0 771.0C159.9 769.3 157.6 765.7 156.4 764.4C155.1 763.0 154.4 763.0 153.6 762.7C152.9 762.5 152.5 763.1 152.0 762.7C151.5 762.3 151.9 762.0 150.6 760.4C149.3 758.8 146.6 755.3 144.2 753.0C141.7 750.7 138.1 748.2 136.0 746.7C133.8 745.3 132.5 744.5 131.5 744.1C130.4 743.8 130.3 744.8 129.9 744.6C129.4 744.4 130.0 743.6 129.0 743.0C128.1 742.3 125.4 741.0 123.9 740.5C122.4 739.9 121.0 739.7 120.0 739.7C119.1 739.7 119.0 740.8 118.4 740.5C117.9 740.2 118.2 738.6 116.8 737.7C115.5 736.8 112.7 735.7 110.2 735.2C107.8 734.7 104.7 734.6 102.2 734.7C99.7 734.9 96.6 735.8 95.4 736.0C94.3 736.3 96.3 736.3 95.1 736.0Z" fill="#e9e9e9"/>
<g clip-path="url(#clipD)">
<path d="M95.1 736.0C93.9 735.8 90.7 734.9 88.2 734.7C85.7 734.6 82.5 734.7 80.0 735.2C77.5 735.7 74.6 736.8 73.2 737.7C71.8 738.6 72.1 740.2 71.6 740.5C71.0 740.8 70.8 739.7 69.9 739.7C69.0 739.7 67.5 739.9 66.0 740.5C64.4 741.0 61.7 742.3 60.7 743.0C59.7 743.6 60.3 744.4 59.9 744.6C59.4 744.8 59.3 743.8 58.2 744.1C57.2 744.5 55.8 745.3 53.6 746.7C51.4 748.2 47.7 750.7 45.2 753.0C42.7 755.3 40.0 758.8 38.6 760.4C37.3 762.0 37.6 762.3 37.1 762.7C36.6 763.1 36.2 762.5 35.5 762.7C34.7 763.0 33.9 763.0 32.7 764.4C31.4 765.7 29.1 769.3 27.9 771.0C26.7 772.6 26.3 773.5 25.8 774.1C25.2 774.6 24.8 773.4 24.4 774.3C24.1 775.1 24.1 777.1 23.6 779.4C23.1 781.6 22.4 784.8 21.6 787.6C20.8 790.4 19.5 793.5 18.8 796.0C18.2 798.6 17.5 801.2 17.5 802.9C17.5 804.7 18.8 806.2 18.7 806.5C18.6 806.9 17.6 804.8 16.9 805.2C16.1 805.7 14.9 807.3 14.2 809.3C13.5 811.4 12.7 815.0 12.6 817.8C12.4 820.5 13.4 823.7 13.4 826.0C13.4 828.3 12.3 829.6 12.4 831.6C12.6 833.5 14.3 835.8 14.2 837.7C14.1 839.5 12.1 840.6 11.9 842.6C11.8 844.6 12.2 847.4 13.4 849.7C14.6 852.0 16.3 854.9 18.8 856.6C21.4 858.4 25.3 859.7 28.6 860.1C31.8 860.4 35.3 859.6 38.3 858.8C41.3 857.9 43.4 856.1 46.7 855.1C49.9 854.2 54.7 854.3 57.7 853.2C60.7 852.0 62.6 850.0 64.6 848.2C66.7 846.5 69.1 844.5 70.2 842.6C71.4 840.8 71.5 838.6 71.6 837.2C71.6 835.8 70.3 834.7 70.6 834.4C70.8 834.0 72.4 833.7 73.0 835.0C73.7 836.4 73.9 840.4 74.4 842.6C74.8 844.8 74.7 846.4 75.7 848.2C76.6 850.1 77.9 852.3 80.0 853.8C82.0 855.3 85.6 856.6 88.2 857.3C90.7 858.0 94.1 857.8 95.3 857.9C96.5 858.1 94.1 857.9 95.3 857.9C96.4 858.0 99.7 858.6 102.2 858.2C104.7 857.8 108.2 857.0 110.2 855.7C112.3 854.4 113.5 852.2 114.4 850.4C115.3 848.6 115.3 847.0 115.7 844.8C116.1 842.6 116.4 838.4 117.0 837.1C117.6 835.7 119.2 836.2 119.4 836.6C119.6 837.0 118.4 838.0 118.4 839.4C118.5 840.9 118.6 843.2 119.7 845.2C120.8 847.2 123.2 849.5 125.2 851.3C127.2 853.2 129.0 855.3 131.9 856.5C134.9 857.7 139.6 857.6 142.7 858.6C145.9 859.5 148.0 861.5 150.9 862.3C153.9 863.2 157.2 864.1 160.4 863.7C163.6 863.3 167.4 861.9 169.9 860.1C172.4 858.3 174.1 855.3 175.2 852.9C176.3 850.5 176.8 847.6 176.6 845.5C176.5 843.4 174.5 842.3 174.4 840.4C174.3 838.4 176.0 836.0 176.2 834.0C176.3 832.0 175.2 830.6 175.2 828.2C175.2 825.8 176.1 822.5 176.0 819.6C175.9 816.7 175.1 813.0 174.4 810.8C173.7 808.7 172.5 807.0 171.8 806.5C171.1 806.1 170.2 808.3 170.0 807.9C169.9 807.5 171.2 806.0 171.2 804.1C171.1 802.3 170.6 799.6 169.9 796.9C169.2 794.3 167.9 791.1 167.2 788.2C166.4 785.3 165.7 781.9 165.2 779.6C164.8 777.3 164.8 775.2 164.4 774.3C164.1 773.4 163.7 774.6 163.1 774.1C162.6 773.5 162.2 772.6 161.0 771.0C159.9 769.3 157.6 765.7 156.4 764.4C155.1 763.0 154.4 763.0 153.6 762.7C152.9 762.5 152.5 763.1 152.0 762.7C151.5 762.3 151.9 762.0 150.6 760.4C149.3 758.8 146.6 755.3 144.2 753.0C141.7 750.7 138.1 748.2 136.0 746.7C133.8 745.3 132.5 744.5 131.5 744.1C130.4 743.8 130.3 744.8 129.9 744.6C129.4 744.4 130.0 743.6 129.0 743.0C128.1 742.3 125.4 741.0 123.9 740.5C122.4 739.9 121.0 739.7 120.0 739.7C119.1 739.7 119.0 740.8 118.4 740.5C117.9 740.2 118.2 738.6 116.8 737.7C115.5 736.8 112.7 735.7 110.2 735.2C107.8 734.7 104.7 734.6 102.2 734.7C99.7 734.9 96.6 735.8 95.4 736.0C94.3 736.3 96.3 736.3 95.1 736.0Z" fill="none" stroke="#d3d3d3" stroke-width="11.86" stroke-linejoin="round"/>
<path d="M73.2 833.7C73.5 834.6 74.5 836.6 74.9 838.7C75.2 840.7 75.0 843.8 75.5 846.1C76.0 848.3 76.5 850.4 78.0 852.2C79.5 854.0 81.5 855.9 84.4 856.8C87.3 857.7 93.5 857.6 95.3 857.8C97.1 857.9 93.5 857.7 95.3 857.8C97.0 857.8 103.1 858.7 105.9 858.1C108.7 857.6 110.7 855.9 112.2 854.2C113.6 852.6 114.1 850.5 114.6 848.2C115.1 846.0 114.8 842.7 115.2 840.7C115.6 838.6 116.6 836.5 116.8 835.7" fill="none" stroke="#ececec" stroke-width="13.18" stroke-linecap="round" stroke-linejoin="round" />
<path d="M71.6 740.5C71.8 741.2 72.8 743.5 73.0 744.6C73.2 745.7 72.8 746.5 72.7 746.9" fill="none" stroke="#d3d3d3" stroke-width="5.93" stroke-linecap="round" stroke-linejoin="round" />
<path d="M60.2 744.6C60.5 746.0 61.2 750.6 61.8 753.0C62.5 755.5 63.3 757.8 64.0 759.3C64.6 760.7 65.5 761.5 65.8 761.9" fill="none" stroke="#d3d3d3" stroke-width="7.51" stroke-linecap="round" stroke-linejoin="round" />
<path d="M37.9 762.7C38.7 763.9 40.9 767.8 42.4 769.6C43.9 771.5 45.2 772.7 46.7 773.8C48.1 774.8 50.4 775.5 51.1 775.9" fill="none" stroke="#d3d3d3" stroke-width="7.12" stroke-linecap="round" stroke-linejoin="round" />
<path d="M42.4 769.6C42.8 770.9 44.0 775.6 44.5 777.2C45.1 778.8 45.6 779.0 45.9 779.4" fill="none" stroke="#d3d3d3" stroke-width="6.33" stroke-linecap="round" stroke-linejoin="round" />
<path d="M26.1 774.3C27.0 774.6 30.1 776.0 31.4 776.6C32.6 777.1 33.1 777.3 33.5 777.4" fill="none" stroke="#d3d3d3" stroke-width="5.93" stroke-linecap="round" stroke-linejoin="round" />
<path d="M22.1 786.3C23.3 786.0 27.5 785.3 29.2 784.8C31.0 784.3 32.1 783.7 32.7 783.5" fill="none" stroke="#d3d3d3" stroke-width="5.93" stroke-linecap="round" stroke-linejoin="round" />
<path d="M94.3 759.3C92.8 759.2 87.6 758.5 85.4 758.8C83.2 759.0 82.0 760.4 81.3 760.7" fill="none" stroke="#d3d3d3" stroke-width="7.12" stroke-linecap="round" stroke-linejoin="round" />
<path d="M94.3 768.2C93.1 768.2 88.8 767.9 86.9 768.2C84.9 768.4 83.3 769.4 82.6 769.6" fill="none" stroke="#d3d3d3" stroke-width="6.72" stroke-linecap="round" stroke-linejoin="round" />
<path d="M94.3 775.9C93.3 775.9 89.5 775.6 88.2 775.9C86.9 776.2 86.5 777.6 86.2 777.9" fill="none" stroke="#d3d3d3" stroke-width="5.93" stroke-linecap="round" stroke-linejoin="round" />
<path d="M16.9 805.6C19.1 805.8 25.8 806.6 30.0 806.7C34.3 806.9 39.2 807.6 42.4 806.4C45.6 805.2 47.2 801.7 49.3 799.6C51.4 797.6 54.0 795.1 54.9 794.2" fill="none" stroke="#d3d3d3" stroke-width="7.12" stroke-linecap="round" stroke-linejoin="round" />
<path d="M42.4 806.7C43.1 807.6 45.7 810.2 46.7 812.1C47.6 814.1 47.8 817.2 48.0 818.2" fill="none" stroke="#d3d3d3" stroke-width="7.12" stroke-linecap="round" stroke-linejoin="round" />
<path d="M30.0 807.4C30.4 808.4 31.6 812.1 32.0 813.6C32.5 815.1 32.6 816.0 32.7 816.4" fill="none" stroke="#d3d3d3" stroke-width="5.93" stroke-linecap="round" stroke-linejoin="round" />
<path d="M23.0 794.2C24.4 795.3 29.5 799.1 31.4 800.6C33.2 802.1 33.7 802.8 34.2 803.3" fill="none" stroke="#d3d3d3" stroke-width="5.93" stroke-linecap="round" stroke-linejoin="round" />
<path d="M37.1 795.5L34.8 802.4" fill="none" stroke="#d3d3d3" stroke-width="5.54" stroke-linecap="round" stroke-linejoin="round" />
<path d="M14.7 817.8C15.9 817.9 19.8 817.9 21.6 818.4C23.5 819.0 25.1 820.6 25.8 821.0" fill="none" stroke="#d3d3d3" stroke-width="5.93" stroke-linecap="round" stroke-linejoin="round" />
<path d="M14.2 831.6C15.7 831.5 20.7 830.6 23.0 831.1C25.3 831.6 27.2 833.8 28.1 834.4" fill="none" stroke="#d3d3d3" stroke-width="6.33" stroke-linecap="round" stroke-linejoin="round" />
<path d="M39.1 858.3C39.0 857.1 38.5 853.2 38.3 851.0C38.1 848.9 37.9 846.4 37.8 845.4" fill="none" stroke="#d3d3d3" stroke-width="7.12" stroke-linecap="round" stroke-linejoin="round" />
<path d="M58.5 852.7C57.7 851.5 54.8 846.9 53.6 845.4C52.4 843.9 52.0 843.9 51.6 843.6" fill="none" stroke="#d3d3d3" stroke-width="7.12" stroke-linecap="round" stroke-linejoin="round" />
<path d="M16.9 805.6C19.1 805.8 25.8 806.6 30.0 806.7C34.3 806.9 40.3 806.4 42.4 806.4" fill="none" stroke="#bcbcbc" stroke-width="0.99" stroke-linecap="round" stroke-linejoin="round" />
<path d="M94.8 738.2L94.8 779.4" fill="none" stroke="#bcbcbc" stroke-width="1.32" stroke-linecap="round" stroke-linejoin="round" />
<path d="M57.7 829.4C58.7 829.3 61.6 828.2 63.3 828.8C65.1 829.4 67.1 831.6 68.3 833.1C69.4 834.6 69.9 837.1 70.2 837.9" fill="none" stroke="#bdbdbd" stroke-width="2.31" stroke-linecap="round" stroke-linejoin="round" />
<path d="M56.4 835.7C57.0 835.1 58.6 832.6 59.9 832.2C61.1 831.9 63.4 832.8 64.0 833.7C64.6 834.7 64.1 837.1 63.3 837.9C62.5 838.6 59.8 838.4 59.0 838.5" fill="none" stroke="#d0d0d0" stroke-width="1.65" stroke-linecap="round" stroke-linejoin="round" />
<path d="M61.0 802.4C62.4 800.6 65.2 800.3 66.3 801.1C67.4 801.9 68.0 804.7 67.6 807.4C67.2 810.1 65.0 815.1 63.6 817.3C62.3 819.5 60.3 821.4 59.4 820.6C58.4 819.7 57.8 815.3 58.0 812.3C58.3 809.3 59.6 804.3 61.0 802.4Z" fill="#d7d7d7" />
<path d="M68.3 810.7C68.9 810.2 70.2 812.5 70.9 814.0C71.6 815.4 72.8 818.1 72.5 819.2C72.3 820.3 70.5 821.0 69.6 820.6C68.7 820.1 67.5 818.2 67.3 816.6C67.1 815.0 67.7 811.1 68.3 810.7Z" fill="#d5d5d5" />
<path d="M70.2 786.9C70.7 787.6 72.1 789.7 72.9 790.9C73.6 792.1 74.5 793.6 74.9 794.2" fill="none" stroke="#d3d3d3" stroke-width="2.31" stroke-linecap="round" stroke-linejoin="round" />
<path d="M55.4 820.6C55.6 818.4 55.5 811.2 56.4 807.4C57.3 803.5 59.4 800.0 61.0 797.5C62.7 795.0 65.4 793.4 66.3 792.5" fill="none" stroke="#dddddd" stroke-width="0.82" stroke-linecap="round" stroke-linejoin="round" />
<path d="M76.8 799.1C78.5 797.2 84.5 796.9 87.4 797.5C90.2 798.0 92.9 798.7 94.0 802.4C95.1 806.1 95.1 816.4 94.0 819.7C92.9 823.0 89.6 822.6 87.4 822.2C85.2 821.8 82.4 819.5 80.8 817.3C79.1 815.1 78.1 812.0 77.5 809.0C76.8 806.0 75.2 801.1 76.8 799.1Z" fill="#d9d9d9" />
<path d="M81.1 822.2C81.6 823.0 83.0 825.9 84.1 827.1C85.1 828.3 86.8 829.1 87.4 829.4" fill="none" stroke="#d4d4d4" stroke-width="2.14" stroke-linecap="round" stroke-linejoin="round" />
<path d="M84.7 831.8C85.5 832.0 87.8 833.2 89.0 833.4C90.3 833.6 91.8 833.1 92.3 833.1" fill="none" stroke="#cdcdcd" stroke-width="1.48" stroke-linecap="round" stroke-linejoin="round" />
<circle cx="88.4" cy="825.5" r="2.1" fill="#d6d6d6"/>
<path d="M74.2 783.6C74.7 784.6 75.8 787.9 77.5 789.6C79.1 791.2 81.6 792.7 84.1 793.5C86.5 794.4 90.9 794.6 92.3 794.9" fill="none" stroke="#c2c2c2" stroke-width="3.62" stroke-linecap="round" stroke-linejoin="round" />
<path d="M76.8 785.3C77.5 785.1 80.1 788.0 82.4 788.9C84.7 789.8 88.5 790.3 90.7 790.6C92.8 790.8 94.5 789.6 95.3 790.2C96.0 790.8 96.3 793.5 95.3 794.2C94.2 794.9 91.2 794.7 89.0 794.5C86.9 794.3 84.2 793.6 82.4 792.9C80.7 792.1 79.4 791.2 78.5 789.9C77.5 788.6 76.2 785.5 76.8 785.3Z" fill="#fff"/>
<path d="M118.4 740.5C118.2 741.2 117.2 743.5 117.0 744.6C116.8 745.7 117.3 746.5 117.3 746.9" fill="none" stroke="#d3d3d3" stroke-width="5.93" stroke-linecap="round" stroke-linejoin="round" />
<path d="M129.5 744.6C129.3 746.0 128.5 750.6 127.9 753.0C127.3 755.5 126.5 757.8 125.8 759.3C125.2 760.7 124.4 761.5 124.1 761.9" fill="none" stroke="#d3d3d3" stroke-width="7.51" stroke-linecap="round" stroke-linejoin="round" />
<path d="M151.2 762.7C150.5 763.9 148.3 767.8 146.9 769.6C145.5 771.5 144.1 772.7 142.7 773.8C141.3 774.8 139.1 775.6 138.4 776.0" fill="none" stroke="#d3d3d3" stroke-width="7.12" stroke-linecap="round" stroke-linejoin="round" />
<path d="M146.9 769.6C146.5 770.9 145.4 775.7 144.8 777.4C144.2 779.0 143.7 779.2 143.5 779.6" fill="none" stroke="#d3d3d3" stroke-width="6.33" stroke-linecap="round" stroke-linejoin="round" />
<path d="M162.8 774.3C162.0 774.7 158.9 776.1 157.7 776.7C156.5 777.2 155.9 777.4 155.6 777.5" fill="none" stroke="#d3d3d3" stroke-width="5.93" stroke-linecap="round" stroke-linejoin="round" />
<path d="M166.7 786.8C165.5 786.5 161.5 785.7 159.8 785.3C158.0 784.8 156.9 784.1 156.4 783.9" fill="none" stroke="#d3d3d3" stroke-width="5.93" stroke-linecap="round" stroke-linejoin="round" />
<path d="M96.2 759.3C97.7 759.2 102.8 758.5 104.9 758.8C107.0 759.0 108.3 760.4 108.9 760.7" fill="none" stroke="#d3d3d3" stroke-width="7.12" stroke-linecap="round" stroke-linejoin="round" />
<path d="M96.2 768.2C97.5 768.2 101.6 767.9 103.5 768.2C105.4 768.4 107.0 769.4 107.7 769.6" fill="none" stroke="#d3d3d3" stroke-width="6.72" stroke-linecap="round" stroke-linejoin="round" />
<path d="M96.2 775.9C97.2 775.9 100.9 775.6 102.2 775.9C103.5 776.3 103.8 777.6 104.1 777.9" fill="none" stroke="#d3d3d3" stroke-width="5.93" stroke-linecap="round" stroke-linejoin="round" />
<path d="M171.8 806.9C169.7 807.1 163.1 807.9 159.0 808.1C154.8 808.2 150.0 809.0 146.9 807.7C143.8 806.5 142.2 802.8 140.1 800.7C138.1 798.6 135.6 796.0 134.7 795.0" fill="none" stroke="#d3d3d3" stroke-width="7.12" stroke-linecap="round" stroke-linejoin="round" />
<path d="M146.9 808.1C146.2 809.0 143.6 811.7 142.7 813.8C141.8 815.8 141.6 819.0 141.4 820.1" fill="none" stroke="#d3d3d3" stroke-width="7.12" stroke-linecap="round" stroke-linejoin="round" />
<path d="M159.0 808.8C158.6 809.9 157.5 813.7 157.0 815.3C156.6 816.9 156.5 817.7 156.4 818.2" fill="none" stroke="#d3d3d3" stroke-width="5.93" stroke-linecap="round" stroke-linejoin="round" />
<path d="M165.9 795.0C164.5 796.2 159.5 800.2 157.7 801.7C155.8 803.3 155.4 804.0 154.9 804.5" fill="none" stroke="#d3d3d3" stroke-width="5.93" stroke-linecap="round" stroke-linejoin="round" />
<path d="M152.0 796.4L154.3 803.6" fill="none" stroke="#d3d3d3" stroke-width="5.54" stroke-linecap="round" stroke-linejoin="round" />
<path d="M173.9 819.6C172.8 819.7 168.9 819.7 167.2 820.3C165.4 820.8 163.8 822.6 163.1 823.0" fill="none" stroke="#d3d3d3" stroke-width="5.93" stroke-linecap="round" stroke-linejoin="round" />
<path d="M174.4 834.0C173.0 833.9 168.1 833.0 165.9 833.5C163.6 834.0 161.7 836.4 160.9 836.9" fill="none" stroke="#d3d3d3" stroke-width="6.33" stroke-linecap="round" stroke-linejoin="round" />
<path d="M150.1 861.8C150.2 860.6 150.7 856.5 150.9 854.3C151.1 852.0 151.3 849.4 151.4 848.4" fill="none" stroke="#d3d3d3" stroke-width="7.12" stroke-linecap="round" stroke-linejoin="round" />
<path d="M131.1 856.0C131.9 854.7 134.8 850.0 136.0 848.4C137.1 846.9 137.6 846.9 137.9 846.5" fill="none" stroke="#d3d3d3" stroke-width="7.12" stroke-linecap="round" stroke-linejoin="round" />
<path d="M171.8 806.9C169.7 807.1 163.1 807.9 159.0 808.1C154.8 808.2 148.9 807.8 146.9 807.7" fill="none" stroke="#bcbcbc" stroke-width="0.99" stroke-linecap="round" stroke-linejoin="round" />
<path d="M95.8 738.2L95.8 779.4" fill="none" stroke="#bcbcbc" stroke-width="1.32" stroke-linecap="round" stroke-linejoin="round" />
<path d="M131.9 831.8C131.0 831.7 128.2 830.5 126.5 831.1C124.8 831.7 122.8 833.9 121.6 835.5C120.5 837.0 120.0 839.5 119.7 840.2" fill="none" stroke="#bdbdbd" stroke-width="2.31" stroke-linecap="round" stroke-linejoin="round" />
<path d="M133.2 838.3C132.7 837.7 131.1 835.0 129.9 834.7C128.6 834.4 126.4 835.3 125.8 836.2C125.3 837.2 125.7 839.7 126.5 840.5C127.3 841.4 130.0 841.1 130.7 841.2" fill="none" stroke="#d0d0d0" stroke-width="1.65" stroke-linecap="round" stroke-linejoin="round" />
<path d="M128.7 803.6C127.4 801.7 124.7 801.4 123.6 802.3C122.5 803.1 121.9 806.0 122.3 808.8C122.7 811.6 124.8 816.8 126.2 819.1C127.5 821.4 129.4 823.4 130.3 822.5C131.2 821.6 131.9 817.1 131.6 813.9C131.4 810.8 130.1 805.6 128.7 803.6Z" fill="#d7d7d7" />
<path d="M121.6 812.2C121.1 811.7 119.8 814.0 119.1 815.4C118.4 816.9 117.3 819.6 117.5 820.8C117.7 821.9 119.5 822.7 120.4 822.3C121.2 821.9 122.4 820.1 122.6 818.4C122.8 816.7 122.2 812.6 121.6 812.2Z" fill="#d5d5d5" />
<path d="M119.7 787.4C119.3 788.1 117.9 790.2 117.1 791.5C116.4 792.7 115.5 794.3 115.2 794.8" fill="none" stroke="#d3d3d3" stroke-width="2.31" stroke-linecap="round" stroke-linejoin="round" />
<path d="M134.2 822.5C134.0 820.2 134.1 812.8 133.2 808.8C132.3 804.8 130.3 801.0 128.7 798.5C127.1 795.9 124.4 794.2 123.6 793.3" fill="none" stroke="#dddddd" stroke-width="0.82" stroke-linecap="round" stroke-linejoin="round" />
<path d="M113.3 799.8C111.7 797.8 105.8 797.3 103.0 797.8C100.2 798.2 97.6 798.8 96.6 802.5C95.5 806.2 95.5 816.4 96.6 819.8C97.6 823.2 100.9 823.0 103.0 822.8C105.1 822.5 107.8 820.3 109.4 818.2C111.0 816.1 112.0 813.0 112.6 810.0C113.3 806.9 114.9 801.9 113.3 799.8Z" fill="#d9d9d9" />
<path d="M109.1 823.2C108.6 824.0 107.2 826.9 106.2 828.0C105.2 829.2 103.5 829.8 103.0 830.1" fill="none" stroke="#d4d4d4" stroke-width="2.14" stroke-linecap="round" stroke-linejoin="round" />
<path d="M105.6 832.7C104.9 832.9 102.6 833.8 101.4 834.0C100.2 834.1 98.7 833.4 98.2 833.3" fill="none" stroke="#cdcdcd" stroke-width="1.48" stroke-linecap="round" stroke-linejoin="round" />
<circle cx="102.0" cy="826.0" r="2.1" fill="#d6d6d6"/>
<path d="M115.9 784.0C115.3 785.0 114.3 788.3 112.6 790.0C111.0 791.6 108.6 793.0 106.2 793.9C103.8 794.7 99.5 794.8 98.2 794.9" fill="none" stroke="#c2c2c2" stroke-width="3.62" stroke-linecap="round" stroke-linejoin="round" />
<path d="M113.3 785.6C112.6 785.4 110.1 788.4 107.8 789.2C105.6 790.1 101.9 790.5 99.8 790.7C97.7 790.9 96.0 789.7 95.3 790.2C94.5 790.8 94.3 793.4 95.3 794.2C96.3 794.9 99.3 794.9 101.4 794.7C103.5 794.6 106.1 794.0 107.8 793.2C109.5 792.5 110.8 791.6 111.7 790.3C112.6 789.0 113.9 785.8 113.3 785.6Z" fill="#fff"/>
<path d="M95.3 795.0L95.3 818.9" fill="none" stroke="#bdbdbd" stroke-width="1.48" stroke-linecap="round" stroke-linejoin="round" />
<path d="M87.4 795.2C88.2 795.6 91.0 796.5 92.3 797.5C93.6 798.5 94.3 801.1 95.3 801.1C96.3 801.1 96.9 798.5 98.2 797.5C99.6 796.5 102.4 795.6 103.2 795.2" fill="none" stroke="#bbbbbb" stroke-width="1.32" stroke-linecap="round" stroke-linejoin="round" />
<ellipse cx="95.3" cy="796.2" rx="4.3" ry="2.3" fill="#e3e3e3"/>
<path d="M95.3 832.7C97.9 836.7 97.6 840.0 95.3 840.0C93.0 840.0 92.6 836.7 95.3 832.7Z" fill="#bebebe"/>
</g>
<path d="M95.1 736.0C93.9 735.8 90.7 734.9 88.2 734.7C85.7 734.6 82.5 734.7 80.0 735.2C77.5 735.7 74.6 736.8 73.2 737.7C71.8 738.6 72.1 740.2 71.6 740.5C71.0 740.8 70.8 739.7 69.9 739.7C69.0 739.7 67.5 739.9 66.0 740.5C64.4 741.0 61.7 742.3 60.7 743.0C59.7 743.6 60.3 744.4 59.9 744.6C59.4 744.8 59.3 743.8 58.2 744.1C57.2 744.5 55.8 745.3 53.6 746.7C51.4 748.2 47.7 750.7 45.2 753.0C42.7 755.3 40.0 758.8 38.6 760.4C37.3 762.0 37.6 762.3 37.1 762.7C36.6 763.1 36.2 762.5 35.5 762.7C34.7 763.0 33.9 763.0 32.7 764.4C31.4 765.7 29.1 769.3 27.9 771.0C26.7 772.6 26.3 773.5 25.8 774.1C25.2 774.6 24.8 773.4 24.4 774.3C24.1 775.1 24.1 777.1 23.6 779.4C23.1 781.6 22.4 784.8 21.6 787.6C20.8 790.4 19.5 793.5 18.8 796.0C18.2 798.6 17.5 801.2 17.5 802.9C17.5 804.7 18.8 806.2 18.7 806.5C18.6 806.9 17.6 804.8 16.9 805.2C16.1 805.7 14.9 807.3 14.2 809.3C13.5 811.4 12.7 815.0 12.6 817.8C12.4 820.5 13.4 823.7 13.4 826.0C13.4 828.3 12.3 829.6 12.4 831.6C12.6 833.5 14.3 835.8 14.2 837.7C14.1 839.5 12.1 840.6 11.9 842.6C11.8 844.6 12.2 847.4 13.4 849.7C14.6 852.0 16.3 854.9 18.8 856.6C21.4 858.4 25.3 859.7 28.6 860.1C31.8 860.4 35.3 859.6 38.3 858.8C41.3 857.9 43.4 856.1 46.7 855.1C49.9 854.2 54.7 854.3 57.7 853.2C60.7 852.0 62.6 850.0 64.6 848.2C66.7 846.5 69.1 844.5 70.2 842.6C71.4 840.8 71.5 838.6 71.6 837.2C71.6 835.8 70.3 834.7 70.6 834.4C70.8 834.0 72.4 833.7 73.0 835.0C73.7 836.4 73.9 840.4 74.4 842.6C74.8 844.8 74.7 846.4 75.7 848.2C76.6 850.1 77.9 852.3 80.0 853.8C82.0 855.3 85.6 856.6 88.2 857.3C90.7 858.0 94.1 857.8 95.3 857.9C96.5 858.1 94.1 857.9 95.3 857.9C96.4 858.0 99.7 858.6 102.2 858.2C104.7 857.8 108.2 857.0 110.2 855.7C112.3 854.4 113.5 852.2 114.4 850.4C115.3 848.6 115.3 847.0 115.7 844.8C116.1 842.6 116.4 838.4 117.0 837.1C117.6 835.7 119.2 836.2 119.4 836.6C119.6 837.0 118.4 838.0 118.4 839.4C118.5 840.9 118.6 843.2 119.7 845.2C120.8 847.2 123.2 849.5 125.2 851.3C127.2 853.2 129.0 855.3 131.9 856.5C134.9 857.7 139.6 857.6 142.7 858.6C145.9 859.5 148.0 861.5 150.9 862.3C153.9 863.2 157.2 864.1 160.4 863.7C163.6 863.3 167.4 861.9 169.9 860.1C172.4 858.3 174.1 855.3 175.2 852.9C176.3 850.5 176.8 847.6 176.6 845.5C176.5 843.4 174.5 842.3 174.4 840.4C174.3 838.4 176.0 836.0 176.2 834.0C176.3 832.0 175.2 830.6 175.2 828.2C175.2 825.8 176.1 822.5 176.0 819.6C175.9 816.7 175.1 813.0 174.4 810.8C173.7 808.7 172.5 807.0 171.8 806.5C171.1 806.1 170.2 808.3 170.0 807.9C169.9 807.5 171.2 806.0 171.2 804.1C171.1 802.3 170.6 799.6 169.9 796.9C169.2 794.3 167.9 791.1 167.2 788.2C166.4 785.3 165.7 781.9 165.2 779.6C164.8 777.3 164.8 775.2 164.4 774.3C164.1 773.4 163.7 774.6 163.1 774.1C162.6 773.5 162.2 772.6 161.0 771.0C159.9 769.3 157.6 765.7 156.4 764.4C155.1 763.0 154.4 763.0 153.6 762.7C152.9 762.5 152.5 763.1 152.0 762.7C151.5 762.3 151.9 762.0 150.6 760.4C149.3 758.8 146.6 755.3 144.2 753.0C141.7 750.7 138.1 748.2 136.0 746.7C133.8 745.3 132.5 744.5 131.5 744.1C130.4 743.8 130.3 744.8 129.9 744.6C129.4 744.4 130.0 743.6 129.0 743.0C128.1 742.3 125.4 741.0 123.9 740.5C122.4 739.9 121.0 739.7 120.0 739.7C119.1 739.7 119.0 740.8 118.4 740.5C117.9 740.2 118.2 738.6 116.8 737.7C115.5 736.8 112.7 735.7 110.2 735.2C107.8 734.7 104.7 734.6 102.2 734.7C99.7 734.9 96.6 735.8 95.4 736.0C94.3 736.3 96.3 736.3 95.1 736.0Z" fill="none" stroke="#c6c6c6" stroke-width=".7"/>
<path d="M115.3 843.3C114.8 844.2 115.4 846.3 116.0 847.7C116.6 849.2 117.2 850.8 118.9 852.2C120.6 853.6 123.9 855.9 126.2 856.1C128.5 856.4 131.3 854.7 132.8 853.7C134.3 852.6 135.9 850.6 135.1 849.9C134.3 849.2 130.3 850.2 128.2 849.5C126.0 848.9 123.8 847.5 122.2 846.3C120.7 845.0 120.1 842.8 118.9 842.3C117.8 841.8 115.8 842.4 115.3 843.3Z" fill="#b99bdc" stroke="#a98bd0" stroke-width=".5"/>
<radialGradient id="glowD"><stop offset="0" stop-color="#f5363e" stop-opacity=".95"/><stop offset=".16" stop-color="#f6444b" stop-opacity=".9"/><stop offset=".38" stop-color="#f7666b" stop-opacity=".62"/><stop offset=".6" stop-color="#f98e92" stop-opacity=".28"/><stop offset=".8" stop-color="#fbb0b3" stop-opacity=".07"/><stop offset="1" stop-color="#fcc" stop-opacity="0"/></radialGradient>
<circle cx="137.4" cy="801.6" r="12.5" fill="url(#glowD)"/>
<path d="M55.5 885.9V900.5" stroke="#222" stroke-width=".9"/>
<rect x="48.4" y="888.1" width="14.2" height="10.2" rx=".8" fill="#eed8f4" stroke="#222" stroke-width=".9"/>
<path d="M48.4 893.2H62.6" stroke="#222" stroke-width="1.3"/>
<path d="M114.0 885.9V900.5" stroke="#222" stroke-width=".9"/>
<rect x="106.9" y="888.1" width="14.2" height="10.2" rx=".8" fill="#cb86df" stroke="#222" stroke-width=".9"/>
<path d="M106.9 893.2H121.1" stroke="#222" stroke-width="1.3"/>
<text x="65.4" y="897.9" font-size="12.2" fill="#111" textLength="34.4" lengthAdjust="spacingAndGlyphs">PTSD-</text>
<text x="125.2" y="897.9" font-size="12.2" fill="#111" textLength="35.6" lengthAdjust="spacingAndGlyphs">PTSD+</text>
</g>
</svg></body></html>
